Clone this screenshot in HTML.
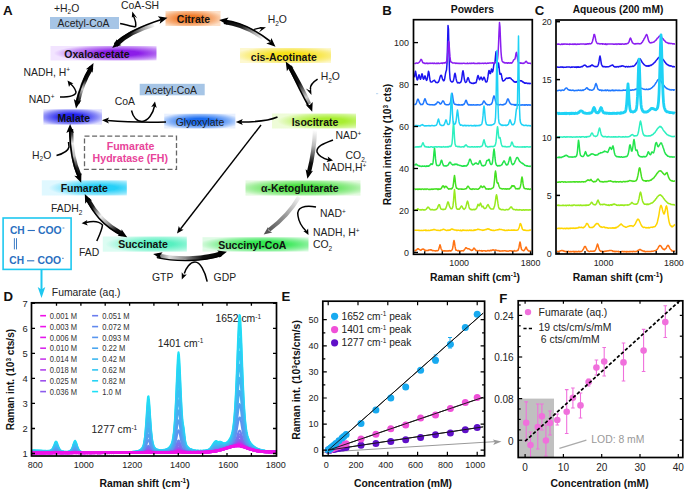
<!DOCTYPE html>
<html><head><meta charset="utf-8"><style>
html,body{margin:0;padding:0;background:#fff;width:685px;height:491px;overflow:hidden;}
svg{display:block;font-family:"Liberation Sans",sans-serif;}
</style></head><body>
<svg width="685" height="491" viewBox="0 0 685 491" font-family="Liberation Sans, sans-serif"><defs><filter id="soft" x="-5%" y="-20%" width="110%" height="140%"><feGaussianBlur stdDeviation="0.5"/></filter><radialGradient id="g_oxa" cx="0.65" cy="0.5" r="0.62" fx="0.65" fy="0.5"><stop offset="0" stop-color="#8c1ee8"/><stop offset="0.3" stop-color="#8c1ee8"/><stop offset="0.72" stop-color="#c48bf5"/><stop offset="1" stop-color="#f2e4ff"/></radialGradient><radialGradient id="g_cit" cx="0.45" cy="0.5" r="0.62" fx="0.45" fy="0.5"><stop offset="0" stop-color="#f07a28"/><stop offset="0.3" stop-color="#f07a28"/><stop offset="0.72" stop-color="#f7b280"/><stop offset="1" stop-color="#fde0c8"/></radialGradient><radialGradient id="g_cis" cx="0.55" cy="0.5" r="0.62" fx="0.55" fy="0.5"><stop offset="0" stop-color="#f7e018"/><stop offset="0.3" stop-color="#f7e018"/><stop offset="0.72" stop-color="#faed7d"/><stop offset="1" stop-color="#fdf8d0"/></radialGradient><radialGradient id="g_iso" cx="0.68" cy="0.5" r="0.62" fx="0.68" fy="0.5"><stop offset="0" stop-color="#a8ee30"/><stop offset="0.3" stop-color="#a8ee30"/><stop offset="0.72" stop-color="#cef68c"/><stop offset="1" stop-color="#eefcd8"/></radialGradient><radialGradient id="g_akg" cx="0.5" cy="0.5" r="0.62" fx="0.5" fy="0.5"><stop offset="0" stop-color="#48e040"/><stop offset="0.3" stop-color="#48e040"/><stop offset="0.72" stop-color="#9eee98"/><stop offset="1" stop-color="#e4fae0"/></radialGradient><radialGradient id="g_suc" cx="0.58" cy="0.5" r="0.62" fx="0.58" fy="0.5"><stop offset="0" stop-color="#30e850"/><stop offset="0.3" stop-color="#30e850"/><stop offset="0.72" stop-color="#91f2a2"/><stop offset="1" stop-color="#e0fbe6"/></radialGradient><radialGradient id="g_succ" cx="0.65" cy="0.5" r="0.62" fx="0.65" fy="0.5"><stop offset="0" stop-color="#58f0c0"/><stop offset="0.3" stop-color="#58f0c0"/><stop offset="0.72" stop-color="#a1f7dc"/><stop offset="1" stop-color="#dcfcf2"/></radialGradient><radialGradient id="g_fum" cx="0.7" cy="0.5" r="0.62" fx="0.7" fy="0.5"><stop offset="0" stop-color="#28d0f8"/><stop offset="0.3" stop-color="#28d0f8"/><stop offset="0.72" stop-color="#8de6fc"/><stop offset="1" stop-color="#e0f8ff"/></radialGradient><radialGradient id="g_mal" cx="0.47" cy="0.5" r="0.62" fx="0.47" fy="0.5"><stop offset="0" stop-color="#2222ee"/><stop offset="0.3" stop-color="#2222ee"/><stop offset="0.72" stop-color="#8a8af7"/><stop offset="1" stop-color="#e0e0ff"/></radialGradient><radialGradient id="g_gly" cx="0.5" cy="0.5" r="0.6" fx="0.5" fy="0.5"><stop offset="0" stop-color="#1a6cf0"/><stop offset="0.3" stop-color="#1a6cf0"/><stop offset="0.72" stop-color="#8bb5f8"/><stop offset="1" stop-color="#e8f0ff"/></radialGradient><linearGradient id="rb1" gradientUnits="userSpaceOnUse" x1="114" y1="45" x2="155" y2="24"><stop offset="0" stop-color="#000"/><stop offset="0.4" stop-color="#111"/><stop offset="0.7" stop-color="#999"/><stop offset="1" stop-color="#fff"/></linearGradient><linearGradient id="rb2" gradientUnits="userSpaceOnUse" x1="222" y1="21" x2="264" y2="39"><stop offset="0" stop-color="#000"/><stop offset="0.45" stop-color="#222"/><stop offset="0.75" stop-color="#aaa"/><stop offset="1" stop-color="#fff"/></linearGradient><linearGradient id="rb3" gradientUnits="userSpaceOnUse" x1="288" y1="65" x2="310" y2="106"><stop offset="0" stop-color="#000"/><stop offset="0.45" stop-color="#111"/><stop offset="0.8" stop-color="#ccc"/><stop offset="1" stop-color="#666"/></linearGradient><linearGradient id="rb4" gradientUnits="userSpaceOnUse" x1="315" y1="130" x2="309" y2="174"><stop offset="0" stop-color="#fff"/><stop offset="0.35" stop-color="#bbb"/><stop offset="0.75" stop-color="#111"/><stop offset="1" stop-color="#000"/></linearGradient><linearGradient id="rb5" gradientUnits="userSpaceOnUse" x1="299" y1="197" x2="268" y2="231"><stop offset="0" stop-color="#f4f4f4"/><stop offset="0.5" stop-color="#999"/><stop offset="1" stop-color="#555"/></linearGradient><linearGradient id="rb6" gradientUnits="userSpaceOnUse" x1="156" y1="255" x2="222" y2="253"><stop offset="0" stop-color="#555"/><stop offset="0.2" stop-color="#ddd"/><stop offset="0.45" stop-color="#888"/><stop offset="0.7" stop-color="#111"/><stop offset="1" stop-color="#000"/></linearGradient><linearGradient id="rb7" gradientUnits="userSpaceOnUse" x1="86" y1="197" x2="123" y2="235"><stop offset="0" stop-color="#000"/><stop offset="0.22" stop-color="#222"/><stop offset="0.45" stop-color="#eee"/><stop offset="0.65" stop-color="#999"/><stop offset="0.85" stop-color="#111"/><stop offset="1" stop-color="#000"/></linearGradient><linearGradient id="rb8" gradientUnits="userSpaceOnUse" x1="71" y1="129" x2="80" y2="177"><stop offset="0" stop-color="#000"/><stop offset="0.12" stop-color="#444"/><stop offset="0.3" stop-color="#eee"/><stop offset="0.55" stop-color="#bbb"/><stop offset="0.8" stop-color="#222"/><stop offset="1" stop-color="#000"/></linearGradient><linearGradient id="rb9" gradientUnits="userSpaceOnUse" x1="92" y1="67" x2="77" y2="104"><stop offset="0" stop-color="#000"/><stop offset="0.35" stop-color="#111"/><stop offset="0.6" stop-color="#ccc"/><stop offset="0.85" stop-color="#333"/><stop offset="1" stop-color="#000"/></linearGradient></defs><text x="3" y="14.6" font-size="13.4" font-weight="bold" text-anchor="start" fill="#111" >A</text>
<rect x="50" y="17" width="69" height="12" fill="#a6c5e6"/>
<rect x="50.5" y="46" width="106" height="14.5" fill="url(#g_oxa)" filter="url(#soft)"/>
<rect x="165.5" y="11" width="55" height="15" fill="url(#g_cit)" filter="url(#soft)"/>
<rect x="240" y="48" width="91" height="15" fill="url(#g_cis)" filter="url(#soft)"/>
<rect x="272" y="113.5" width="84" height="15" fill="url(#g_iso)" filter="url(#soft)"/>
<rect x="245.5" y="180.4" width="115" height="15.2" fill="url(#g_akg)" filter="url(#soft)"/>
<rect x="202.5" y="237.2" width="106" height="14.4" fill="url(#g_suc)" filter="url(#soft)"/>
<rect x="102.8" y="236.5" width="84" height="15.2" fill="url(#g_succ)" filter="url(#soft)"/>
<rect x="41.8" y="180.3" width="85" height="15.2" fill="url(#g_fum)" filter="url(#soft)"/>
<rect x="43.4" y="109.3" width="58.6" height="15.3" fill="url(#g_mal)" filter="url(#soft)"/>
<rect x="164.2" y="113.7" width="71.2" height="14.8" fill="url(#g_gly)" filter="url(#soft)"/>
<rect x="139.7" y="83.8" width="65" height="11.5" fill="#a6c5e6"/>
<text x="64.3" y="57.9" font-size="10.5" font-weight="bold" text-anchor="start" fill="#111" >Oxaloacetate</text>
<text x="193.5" y="22.5" font-size="10.5" font-weight="bold" text-anchor="middle" fill="#111" >Citrate</text>
<text x="283.8" y="60.7" font-size="10.5" font-weight="bold" text-anchor="middle" fill="#111" >cis-Acotinate</text>
<text x="315" y="125.5" font-size="10.5" font-weight="bold" text-anchor="middle" fill="#111" >Isocitrate</text>
<text x="261" y="192.3" font-size="10.5" font-weight="bold" text-anchor="start" fill="#111" >α-Ketoglutarate</text>
<text x="252.3" y="248.8" font-size="10.5" font-weight="bold" text-anchor="middle" fill="#111" >Succinyl-CoA</text>
<text x="143" y="248.4" font-size="10.5" font-weight="bold" text-anchor="middle" fill="#111" >Succinate</text>
<text x="84.3" y="191.5" font-size="10.5" font-weight="bold" text-anchor="middle" fill="#111" >Fumarate</text>
<text x="73.8" y="122.3" font-size="10.5" font-weight="bold" text-anchor="middle" fill="#111" >Malate</text>
<text x="83.5" y="26.8" font-size="10.4" text-anchor="middle" fill="#222" >Acetyl-CoA</text>
<text x="171" y="93.7" font-size="10.4" text-anchor="middle" fill="#222" >Acetyl-CoA</text>
<text x="200" y="126" font-size="10.4" text-anchor="middle" fill="#222" >Glyoxylate</text>
<text x="54" y="11.7" font-size="10.4" fill="#222">+H<tspan font-size="6.5" dy="2.5">2</tspan><tspan dy="-2.5">O</tspan></text>
<text x="121" y="9.2" font-size="10.4" text-anchor="start" fill="#222" >CoA-SH</text>
<text x="267.7" y="23.3" font-size="10.4" fill="#222">H<tspan font-size="6.5" dy="2.5">2</tspan><tspan dy="-2.5">O</tspan></text>
<text x="320.7" y="80" font-size="10.4" fill="#222">H<tspan font-size="6.5" dy="2.5">2</tspan><tspan dy="-2.5">O</tspan></text>
<text x="335.5" y="139" font-size="10.4" fill="#222">NAD<tspan font-size="6.5" dy="-3.5">+</tspan></text>
<text x="345.6" y="159" font-size="10.4" fill="#222">CO<tspan font-size="6.5" dy="2.5">2,</tspan></text>
<text x="322.6" y="171.4" font-size="10.4" fill="#222">NADH,H<tspan font-size="6.5" dy="-3.5">+</tspan></text>
<text x="320" y="217.3" font-size="10.4" fill="#222">NAD<tspan font-size="6.5" dy="-3.5">+</tspan></text>
<text x="313" y="236" font-size="10.4" fill="#222">NADH, H<tspan font-size="6.5" dy="-3.5">+</tspan></text>
<text x="313" y="248.3" font-size="10.4" fill="#222">CO<tspan font-size="6.5" dy="2.5">2</tspan></text>
<text x="213.6" y="281.3" font-size="10.4" text-anchor="start" fill="#222" >GDP</text>
<text x="152" y="281.3" font-size="10.4" text-anchor="start" fill="#222" >GTP</text>
<text x="79" y="256" font-size="10.4" text-anchor="start" fill="#222" >FAD</text>
<text x="51" y="212" font-size="10.4" fill="#222">FADH<tspan font-size="6.5" dy="2.5">2</tspan></text>
<text x="32" y="158.5" font-size="10.4" fill="#222">H<tspan font-size="6.5" dy="2.5">2</tspan><tspan dy="-2.5">O</tspan></text>
<text x="23.6" y="75.6" font-size="10.4" fill="#222">NADH, H<tspan font-size="6.5" dy="-3.5">+</tspan></text>
<text x="28.7" y="102.5" font-size="10.4" fill="#222">NAD<tspan font-size="6.5" dy="-3.5">+</tspan></text>
<text x="114.8" y="105" font-size="10.4" text-anchor="start" fill="#222" >CoA</text>
<rect x="84.5" y="136.2" width="92" height="33.2" fill="none" stroke="#666" stroke-width="1.3" stroke-dasharray="5,2.6"/>
<text x="130.5" y="149.8" font-size="10.6" font-weight="bold" text-anchor="middle" fill="#e8449a" >Fumarate</text>
<text x="130.3" y="162.3" font-size="10.6" font-weight="bold" text-anchor="middle" fill="#e8449a" >Hydratase (FH)</text>
<rect x="3.1" y="218" width="68" height="51.4" fill="none" stroke="#1ec8f0" stroke-width="1.6"/>
<text x="9.9" y="233.6" font-size="10.2" font-weight="bold" fill="#2a6fc0">CH</text>
<text x="38.0" y="233.6" font-size="10.4" font-weight="bold" fill="#2a6fc0">COO</text>
<path d="M27.6,230.5 h7.3" stroke="#2a6fc0" stroke-width="1.1"/>
<path d="M62.599999999999994,228.0 h1.8" stroke="#2a6fc0" stroke-width="0.8"/>
<text x="9.299999999999999" y="263.9" font-size="10.2" font-weight="bold" fill="#2a6fc0">CH</text>
<text x="37.400000000000006" y="263.9" font-size="10.4" font-weight="bold" fill="#2a6fc0">COO</text>
<path d="M27.0,260.79999999999995 h7.3" stroke="#2a6fc0" stroke-width="1.1"/>
<path d="M62.0,258.29999999999995 h1.8" stroke="#2a6fc0" stroke-width="0.8"/>
<path d="M14.4,238.2 V249.4 M16.5,238.2 V249.4" stroke="#2a6fc0" stroke-width="0.9"/>
<path d="M41.5,270 V290" stroke="#1ec8f0" stroke-width="2"/>
<path d="M41.5,298.0 L37.7,287.0 L41.5,289.4 L45.3,287.0 Z" fill="#1ec8f0"/>
<path d="M115.5,45 C123,37.5 134,30 154,24.5" fill="none" stroke="url(#rb1)" stroke-width="4.6"/>
<path d="M115,43.5 C124,35 138,27 161.5,19.5" fill="none" stroke="#000" stroke-width="1.6"/>
<path d="M112.2,48.0 L116.7,39.3 L117.6,43.5 L121.5,45.1 Z" fill="#000"/>
<path d="M120.1,23.4 C126,25 131,26.5 135.5,27" fill="none" stroke="#000" stroke-width="1.6" />
<path d="M135.5,27 C136.5,23 135,19 133,15" fill="none" stroke="#000" stroke-width="1.5" />
<path d="M132.3,11.4 L137.3,18.2 L133.7,15.7 L132.5,17.3 L131.8,17.4 Z" fill="#000"/>
<path d="M167.5,17.8 L159.7,23.7 L160.7,19.5 L157.8,16.3 Z" fill="#000"/>
<path d="M224,22 C238,24 252,30 263,38" fill="none" stroke="url(#rb2)" stroke-width="4.2"/>
<path d="M224,20.3 C240,22 256,30 270.5,41.5" fill="none" stroke="#000" stroke-width="1.6"/>
<path d="M219.1,19.9 L228.5,17.4 L226.1,20.9 L227.5,24.9 Z" fill="#000"/>
<path d="M275.5,46.7 L266.3,43.5 L270.3,42.0 L271.4,37.9 Z" fill="#000"/>
<path d="M254,29.5 C257,28.5 259,28 261.5,27.8" fill="none" stroke="#000" stroke-width="1.3" />
<path d="M266.0,27.3 L258.9,32.6 L261.4,28.8 L259.6,27.7 L259.6,27.0 Z" fill="#000"/>
<path d="M289.5,66.5 C296,78 304,92 309,104" fill="none" stroke="url(#rb3)" stroke-width="4.4"/>
<path d="M288.5,66 C294,78 301,93 309,107" fill="none" stroke="#000" stroke-width="1.6"/>
<path d="M285.7,61.6 L293.5,67.5 L289.2,67.7 L286.9,71.3 Z" fill="#000"/>
<path d="M312.2,111.7 L305.6,104.5 L309.8,105.1 L312.7,101.9 Z" fill="#000"/>
<path d="M317.6,79.1 C313,82 310,85 310.4,89" fill="none" stroke="#000" stroke-width="1.6" />
<path d="M311.5,95.0 L305.8,88.4 L309.6,90.6 L310.4,88.7 L311.1,88.6 Z" fill="#000"/>
<path d="M315,130 C314.5,145 312,160 309,172" fill="none" stroke="url(#rb4)" stroke-width="4.2"/>
<path d="M307.4,178.8 L305.6,169.2 L308.9,171.9 L313.0,170.8 Z" fill="#000"/>
<path d="M333,140 C325,143 316,146 317,152 C319,157 325,159 329,160" fill="none" stroke="#000" stroke-width="1.5" />
<path d="M333.0,160.5 L326.6,161.9 L328.4,159.5 L327.7,156.6 Z" fill="#000"/>
<path d="M299,197 C291,211 281,221 269,230" fill="none" stroke="url(#rb5)" stroke-width="4.0"/>
<path d="M263.7,234.5 L268.0,226.9 L268.7,230.7 L272.2,232.5 Z" fill="#555"/>
<path d="M316,207 C305,205 296,207 298,216 C299,223 303,228 306,231" fill="none" stroke="#000" stroke-width="1.5" />
<path d="M308.5,235.0 L303.3,231.0 L306.3,230.9 L308.1,228.4 Z" fill="#000"/>
<path d="M157,255.5 C175,259.8 203,259.8 221.5,253.5" fill="none" stroke="url(#rb6)" stroke-width="4.6"/>
<path d="M157,257.6 C175,261.8 203,261.8 221.5,255.6" fill="none" stroke="#000" stroke-width="1.3"/>
<path d="M153.1,253.9 L162.6,252.3 L160.0,255.4 L161.2,259.2 Z" fill="#000"/>
<path d="M226.9,251.7 L219.3,257.8 L220.2,253.6 L217.2,250.5 Z" fill="#000"/>
<path d="M207.2,281.6 C205,271 200,262 195,262 C190,262 186,268 184.3,273.5" fill="none" stroke="#000" stroke-width="1.5" />
<path d="M181.8,279.4 L181.7,272.3 L183.7,274.7 L186.8,274.4 Z" fill="#000"/>
<path d="M87.5,199 C94,211 104,224 122,234" fill="none" stroke="url(#rb7)" stroke-width="4.4"/>
<path d="M86.5,199.5 C93,212 102,225.5 122,235.5" fill="none" stroke="#000" stroke-width="1.6"/>
<path d="M84.8,194.0 L92.0,200.6 L87.8,200.4 L85.2,203.8 Z" fill="#000"/>
<path d="M127.2,237.2 L117.6,235.7 L121.2,233.5 L121.6,229.2 Z" fill="#000"/>
<path d="M96.8,241 C99,236 102,230 102.5,225 C99,221 92,221 86,222.5" fill="none" stroke="#000" stroke-width="1.5" />
<path d="M81.6,223.3 L87.3,220.0 L86.3,222.9 L87.8,225.5 Z" fill="#000"/>
<path d="M71,129 C71,148 74,164 79.5,176" fill="none" stroke="url(#rb8)" stroke-width="4.4"/>
<path d="M69.8,129 C69.8,148 72.8,165 78.5,177" fill="none" stroke="#000" stroke-width="1.6"/>
<path d="M70.1,124.1 L73.9,133.1 L70.1,131.1 L66.3,133.1 Z" fill="#000"/>
<path d="M81.2,182.7 L74.3,175.8 L78.6,176.2 L81.4,172.9 Z" fill="#000"/>
<path d="M56.5,155.5 C62,154 68,152 69,147 L68.5,142" fill="none" stroke="#000" stroke-width="1.5" />
<path d="M91.5,67.5 C85,78 80,91 77.5,103" fill="none" stroke="url(#rb9)" stroke-width="4.4"/>
<path d="M90.5,67 C84,78 78.8,91 76.3,103" fill="none" stroke="#000" stroke-width="1.6"/>
<path d="M93.5,63.0 L92.6,72.7 L90.2,69.2 L85.9,69.2 Z" fill="#000"/>
<path d="M76.0,108.5 L73.8,99.0 L77.2,101.6 L81.3,100.3 Z" fill="#000"/>
<path d="M60,97 C68,97 76,96 76,92 C75,88 72,85 69.5,83" fill="none" stroke="#000" stroke-width="1.5" />
<path d="M67.5,80.5 L73.4,83.5 L70.4,84.2 L69.0,86.9 Z" fill="#000"/>
<path d="M277.5,117 C268,121 255,122 241,122" fill="none" stroke="#000" stroke-width="1.6" />
<path d="M235.8,122.0 L242.8,119.0 L241.3,122.0 L242.8,125.0 Z" fill="#000"/>
<path d="M166,122 C145,122.5 125,122 107.5,120.5" fill="none" stroke="#000" stroke-width="1.6" />
<path d="M102.0,120.3 L109.1,117.5 L107.5,120.5 L108.9,123.5 Z" fill="#000"/>
<path d="M131.5,110.5 C133,117 137,121.5 142,121.5 C148,121 153,114 154.5,106" fill="none" stroke="#000" stroke-width="1.5" />
<path d="M155.0,101.5 L156.7,107.9 L154.2,106.1 L151.2,106.9 Z" fill="#000"/>
<path d="M261,125 L180.5,229" fill="none" stroke="#000" stroke-width="1.4" />
<path d="M177.0,233.5 L178.8,226.1 L180.3,229.1 L183.6,229.7 Z" fill="#000"/>
<rect x="376" y="93" width="2.2" height="1.2" fill="#c4dcf2"/>
<text x="382.2" y="14.6" font-size="13.2" font-weight="bold" text-anchor="start" fill="#111" >B</text>
<text x="472.5" y="13.1" font-size="10.4" font-weight="bold" text-anchor="middle" fill="#111" >Powders</text>
<clipPath id="cpB"><rect x="413.5" y="19.7" width="118.79999999999995" height="234.60000000000002"/></clipPath>
<g clip-path="url(#cpB)" fill="none" stroke-width="1.3" stroke-linejoin="round">
<path d="M414.5,250.7 L415.0,250.5 L415.5,250.7 L416.0,250.1 L416.5,250.0 L417.0,249.4 L417.5,248.8 L418.0,248.9 L418.5,248.8 L419.0,249.4 L419.5,249.6 L420.0,249.9 L420.5,250.2 L421.0,250.3 L421.5,249.6 L422.0,249.3 L422.5,249.1 L423.0,249.2 L423.5,249.1 L424.0,249.4 L424.5,250.2 L425.0,250.0 L425.5,250.7 L426.0,250.5 L426.5,250.4 L427.0,250.4 L427.5,250.4 L428.0,250.6 L428.5,250.1 L429.0,250.1 L429.5,250.1 L430.0,249.8 L430.5,250.0 L431.0,249.8 L431.5,250.0 L432.0,250.3 L432.5,250.7 L433.0,250.6 L433.5,250.6 L434.0,250.8 L434.5,250.8 L435.0,250.7 L435.5,251.0 L436.0,250.9 L436.5,250.6 L437.0,250.8 L437.5,250.7 L438.0,250.6 L438.5,249.9 L439.0,248.2 L439.5,246.5 L440.0,244.7 L440.5,246.2 L441.0,248.5 L441.5,249.6 L442.0,250.4 L442.5,250.4 L443.0,250.8 L443.5,251.0 L444.0,250.9 L444.5,251.1 L445.0,250.7 L445.5,251.0 L446.0,250.9 L446.5,250.9 L447.0,250.8 L447.5,251.1 L448.0,251.1 L448.5,250.8 L449.0,250.9 L449.5,250.5 L450.0,250.9 L450.5,250.8 L451.0,250.9 L451.5,250.6 L452.0,249.9 L452.5,248.9 L453.0,246.5 L453.5,242.4 L454.0,240.4 L454.5,242.5 L455.0,246.2 L455.5,248.7 L456.0,250.2 L456.5,250.2 L457.0,250.4 L457.5,250.6 L458.0,251.0 L458.5,250.5 L459.0,250.8 L459.5,250.8 L460.0,251.1 L460.5,251.0 L461.0,251.0 L461.5,250.7 L462.0,250.7 L462.5,250.7 L463.0,250.9 L463.5,250.8 L464.0,250.1 L464.5,249.6 L465.0,248.9 L465.5,248.0 L466.0,247.7 L466.5,248.0 L467.0,248.3 L467.5,248.6 L468.0,248.9 L468.5,248.7 L469.0,248.8 L469.5,249.2 L470.0,249.5 L470.5,249.8 L471.0,250.2 L471.5,250.5 L472.0,250.1 L472.5,250.3 L473.0,249.5 L473.5,248.6 L474.0,248.1 L474.5,248.4 L475.0,249.3 L475.5,249.9 L476.0,250.7 L476.5,250.5 L477.0,250.6 L477.5,250.7 L478.0,250.7 L478.5,250.8 L479.0,250.6 L479.5,250.6 L480.0,250.7 L480.5,250.7 L481.0,250.8 L481.5,250.6 L482.0,251.2 L482.5,251.0 L483.0,250.7 L483.5,250.8 L484.0,250.8 L484.5,250.8 L485.0,250.7 L485.5,251.1 L486.0,251.2 L486.5,250.9 L487.0,250.9 L487.5,250.6 L488.0,250.6 L488.5,250.7 L489.0,250.6 L489.5,250.9 L490.0,250.5 L490.5,250.3 L491.0,250.8 L491.5,250.4 L492.0,250.1 L492.5,250.2 L493.0,249.8 L493.5,250.0 L494.0,250.3 L494.5,250.2 L495.0,250.2 L495.5,250.0 L496.0,250.2 L496.5,250.2 L497.0,250.6 L497.5,250.6 L498.0,250.8 L498.5,250.6 L499.0,250.6 L499.5,251.0 L500.0,251.2 L500.5,251.1 L501.0,251.1 L501.5,251.1 L502.0,251.1 L502.5,250.8 L503.0,250.9 L503.5,250.9 L504.0,250.7 L504.5,250.7 L505.0,250.8 L505.5,250.8 L506.0,251.1 L506.5,251.2 L507.0,250.9 L507.5,251.2 L508.0,251.2 L508.5,251.2 L509.0,250.9 L509.5,250.8 L510.0,250.8 L510.5,250.8 L511.0,250.8 L511.5,251.0 L512.0,251.2 L512.5,251.1 L513.0,250.9 L513.5,251.0 L514.0,251.1 L514.5,250.6 L515.0,251.0 L515.5,251.1 L516.0,251.0 L516.5,250.9 L517.0,250.7 L517.5,250.3 L518.0,250.4 L518.5,249.1 L519.0,247.2 L519.5,244.1 L520.0,241.9 L520.5,243.8 L521.0,247.3 L521.5,249.3 L522.0,249.9 L522.5,250.2 L523.0,250.4 L523.5,250.8 L524.0,250.7 L524.5,249.9 L525.0,249.3 L525.5,248.0 L526.0,247.0 L526.5,247.7 L527.0,249.2 L527.5,249.9 L528.0,250.3 L528.5,251.0 L529.0,250.9 L529.5,250.9 L530.0,251.1 L530.5,250.9 L531.0,251.1" stroke="#ff7212" stroke-width="1.5"/>
<path d="M414.5,230.6 L415.0,230.2 L415.5,230.2 L416.0,230.3 L416.5,230.2 L417.0,230.4 L417.5,230.2 L418.0,230.3 L418.5,230.2 L419.0,230.6 L419.5,230.3 L420.0,230.4 L420.5,230.4 L421.0,230.6 L421.5,230.3 L422.0,230.6 L422.5,230.4 L423.0,230.4 L423.5,230.4 L424.0,230.1 L424.5,230.3 L425.0,230.2 L425.5,230.1 L426.0,230.6 L426.5,230.2 L427.0,230.4 L427.5,230.5 L428.0,230.4 L428.5,230.3 L429.0,230.4 L429.5,230.4 L430.0,230.5 L430.5,230.1 L431.0,230.3 L431.5,230.0 L432.0,229.9 L432.5,230.0 L433.0,229.7 L433.5,229.5 L434.0,229.5 L434.5,229.7 L435.0,229.6 L435.5,229.9 L436.0,230.1 L436.5,230.2 L437.0,230.4 L437.5,230.3 L438.0,230.3 L438.5,230.3 L439.0,230.6 L439.5,230.4 L440.0,230.5 L440.5,230.4 L441.0,229.9 L441.5,229.9 L442.0,229.9 L442.5,229.7 L443.0,229.2 L443.5,229.2 L444.0,229.6 L444.5,229.6 L445.0,229.9 L445.5,229.9 L446.0,230.3 L446.5,230.4 L447.0,230.5 L447.5,230.1 L448.0,230.4 L448.5,230.3 L449.0,230.0 L449.5,230.3 L450.0,230.2 L450.5,229.5 L451.0,229.6 L451.5,228.9 L452.0,228.9 L452.5,229.3 L453.0,229.5 L453.5,229.4 L454.0,229.9 L454.5,230.1 L455.0,230.1 L455.5,230.1 L456.0,230.2 L456.5,230.5 L457.0,230.0 L457.5,230.4 L458.0,230.3 L458.5,230.1 L459.0,230.3 L459.5,230.4 L460.0,230.4 L460.5,230.1 L461.0,230.7 L461.5,230.5 L462.0,230.7 L462.5,230.1 L463.0,230.2 L463.5,230.1 L464.0,230.5 L464.5,230.2 L465.0,230.2 L465.5,230.3 L466.0,230.6 L466.5,230.6 L467.0,230.2 L467.5,230.2 L468.0,230.6 L468.5,230.4 L469.0,230.5 L469.5,230.1 L470.0,230.1 L470.5,230.5 L471.0,230.3 L471.5,230.1 L472.0,230.6 L472.5,230.4 L473.0,230.5 L473.5,230.0 L474.0,230.5 L474.5,229.9 L475.0,230.3 L475.5,230.0 L476.0,229.8 L476.5,229.7 L477.0,229.8 L477.5,229.3 L478.0,229.1 L478.5,229.4 L479.0,229.4 L479.5,229.5 L480.0,229.7 L480.5,229.7 L481.0,229.9 L481.5,230.1 L482.0,230.1 L482.5,230.4 L483.0,230.1 L483.5,230.2 L484.0,230.0 L484.5,230.0 L485.0,229.7 L485.5,229.7 L486.0,229.3 L486.5,229.5 L487.0,229.2 L487.5,228.8 L488.0,228.9 L488.5,229.2 L489.0,228.9 L489.5,229.6 L490.0,229.6 L490.5,229.8 L491.0,230.2 L491.5,230.0 L492.0,230.2 L492.5,230.3 L493.0,230.6 L493.5,230.2 L494.0,230.5 L494.5,230.4 L495.0,230.4 L495.5,230.2 L496.0,230.1 L496.5,229.9 L497.0,229.9 L497.5,229.7 L498.0,230.0 L498.5,229.6 L499.0,229.3 L499.5,229.2 L500.0,229.6 L500.5,229.6 L501.0,229.6 L501.5,229.6 L502.0,229.7 L502.5,229.9 L503.0,230.1 L503.5,230.0 L504.0,230.2 L504.5,230.1 L505.0,230.6 L505.5,230.6 L506.0,230.4 L506.5,230.2 L507.0,230.6 L507.5,230.2 L508.0,230.3 L508.5,230.0 L509.0,230.3 L509.5,230.3 L510.0,230.3 L510.5,230.2 L511.0,230.3 L511.5,230.0 L512.0,230.2 L512.5,230.1 L513.0,230.3 L513.5,230.0 L514.0,230.0 L514.5,230.2 L515.0,230.1 L515.5,230.3 L516.0,230.2 L516.5,230.3 L517.0,230.2 L517.5,230.1 L518.0,229.9 L518.5,229.0 L519.0,227.8 L519.5,226.4 L520.0,224.1 L520.5,223.5 L521.0,224.4 L521.5,225.9 L522.0,228.1 L522.5,229.3 L523.0,229.7 L523.5,230.1 L524.0,230.3 L524.5,229.9 L525.0,230.2 L525.5,230.2 L526.0,230.5 L526.5,230.5 L527.0,230.5 L527.5,230.4 L528.0,230.6 L528.5,230.4 L529.0,230.5 L529.5,230.2 L530.0,230.1 L530.5,230.1 L531.0,230.3" stroke="#ffd500" stroke-width="1.5"/>
<path d="M414.5,209.7 L415.0,210.1 L415.5,209.9 L416.0,209.9 L416.5,209.8 L417.0,209.6 L417.5,209.1 L418.0,208.7 L418.5,209.3 L419.0,209.6 L419.5,209.7 L420.0,209.8 L420.5,210.0 L421.0,209.6 L421.5,210.0 L422.0,209.7 L422.5,209.6 L423.0,209.7 L423.5,210.0 L424.0,209.7 L424.5,210.0 L425.0,210.0 L425.5,209.6 L426.0,209.3 L426.5,208.9 L427.0,208.2 L427.5,207.5 L428.0,207.0 L428.5,207.4 L429.0,207.9 L429.5,208.6 L430.0,209.2 L430.5,209.7 L431.0,209.6 L431.5,209.8 L432.0,209.5 L432.5,209.5 L433.0,209.7 L433.5,209.9 L434.0,209.9 L434.5,209.9 L435.0,209.6 L435.5,209.7 L436.0,209.5 L436.5,209.3 L437.0,208.6 L437.5,208.2 L438.0,206.4 L438.5,205.4 L439.0,204.6 L439.5,204.8 L440.0,206.5 L440.5,208.1 L441.0,209.0 L441.5,209.2 L442.0,209.3 L442.5,209.3 L443.0,209.8 L443.5,209.3 L444.0,209.5 L444.5,209.2 L445.0,209.2 L445.5,209.0 L446.0,207.7 L446.5,206.7 L447.0,204.6 L447.5,202.9 L448.0,201.9 L448.5,202.5 L449.0,204.8 L449.5,206.4 L450.0,207.4 L450.5,208.2 L451.0,208.8 L451.5,208.8 L452.0,208.5 L452.5,207.7 L453.0,205.7 L453.5,200.9 L454.0,194.2 L454.5,189.5 L455.0,194.1 L455.5,201.3 L456.0,205.7 L456.5,208.3 L457.0,208.9 L457.5,209.3 L458.0,209.1 L458.5,209.2 L459.0,209.1 L459.5,209.2 L460.0,208.4 L460.5,207.4 L461.0,206.6 L461.5,206.0 L462.0,206.3 L462.5,207.3 L463.0,208.5 L463.5,208.7 L464.0,209.4 L464.5,208.9 L465.0,208.6 L465.5,208.0 L466.0,206.4 L466.5,204.3 L467.0,202.2 L467.5,201.1 L468.0,202.2 L468.5,204.5 L469.0,206.9 L469.5,208.4 L470.0,208.9 L470.5,209.4 L471.0,209.2 L471.5,209.7 L472.0,209.5 L472.5,209.8 L473.0,209.7 L473.5,209.5 L474.0,209.3 L474.5,209.8 L475.0,209.3 L475.5,209.4 L476.0,209.0 L476.5,208.3 L477.0,207.3 L477.5,205.7 L478.0,204.3 L478.5,205.1 L479.0,205.7 L479.5,205.5 L480.0,204.1 L480.5,203.1 L481.0,204.1 L481.5,205.7 L482.0,206.9 L482.5,206.5 L483.0,206.1 L483.5,207.2 L484.0,208.2 L484.5,208.5 L485.0,208.6 L485.5,208.4 L486.0,207.8 L486.5,207.1 L487.0,205.9 L487.5,205.0 L488.0,204.6 L488.5,205.2 L489.0,206.4 L489.5,207.3 L490.0,208.0 L490.5,208.6 L491.0,209.0 L491.5,209.1 L492.0,209.1 L492.5,208.9 L493.0,208.9 L493.5,208.9 L494.0,207.6 L494.5,206.3 L495.0,203.8 L495.5,200.3 L496.0,196.4 L496.5,194.8 L497.0,196.4 L497.5,200.1 L498.0,203.7 L498.5,206.7 L499.0,208.2 L499.5,209.0 L500.0,208.8 L500.5,209.1 L501.0,209.6 L501.5,209.8 L502.0,209.6 L502.5,209.7 L503.0,209.4 L503.5,209.6 L504.0,210.0 L504.5,209.9 L505.0,210.0 L505.5,210.0 L506.0,209.6 L506.5,209.5 L507.0,209.5 L507.5,209.7 L508.0,209.7 L508.5,209.6 L509.0,209.1 L509.5,208.5 L510.0,207.9 L510.5,207.2 L511.0,207.0 L511.5,206.9 L512.0,208.0 L512.5,208.3 L513.0,209.2 L513.5,209.5 L514.0,209.5 L514.5,209.5 L515.0,209.6 L515.5,209.9 L516.0,210.0 L516.5,209.6 L517.0,209.6 L517.5,209.9 L518.0,210.0 L518.5,209.9 L519.0,209.8 L519.5,210.0 L520.0,209.6 L520.5,209.8 L521.0,209.9 L521.5,210.2 L522.0,210.0 L522.5,210.2 L523.0,209.9 L523.5,209.8 L524.0,209.8 L524.5,210.2 L525.0,210.1 L525.5,209.8 L526.0,209.7 L526.5,210.0 L527.0,210.1 L527.5,209.9 L528.0,209.8 L528.5,210.1 L529.0,210.2 L529.5,209.8 L530.0,209.7 L530.5,209.9 L531.0,209.9" stroke="#98ea1e" stroke-width="1.5"/>
<path d="M414.5,189.3 L415.0,189.0 L415.5,189.4 L416.0,189.3 L416.5,189.2 L417.0,189.0 L417.5,189.5 L418.0,189.1 L418.5,189.4 L419.0,189.0 L419.5,189.0 L420.0,189.3 L420.5,189.1 L421.0,189.5 L421.5,189.2 L422.0,189.0 L422.5,189.0 L423.0,189.1 L423.5,189.3 L424.0,189.5 L424.5,189.0 L425.0,189.1 L425.5,189.0 L426.0,189.5 L426.5,189.0 L427.0,188.9 L427.5,188.9 L428.0,189.1 L428.5,189.4 L429.0,189.4 L429.5,189.3 L430.0,189.5 L430.5,189.4 L431.0,189.1 L431.5,189.0 L432.0,189.4 L432.5,189.3 L433.0,188.9 L433.5,189.3 L434.0,189.1 L434.5,189.1 L435.0,189.1 L435.5,188.9 L436.0,188.8 L436.5,189.0 L437.0,189.0 L437.5,189.4 L438.0,188.9 L438.5,189.4 L439.0,188.9 L439.5,189.0 L440.0,189.2 L440.5,189.1 L441.0,188.7 L441.5,188.0 L442.0,187.3 L442.5,186.1 L443.0,185.8 L443.5,185.9 L444.0,187.0 L444.5,187.8 L445.0,186.9 L445.5,186.4 L446.0,186.2 L446.5,186.7 L447.0,187.3 L447.5,188.0 L448.0,188.4 L448.5,189.1 L449.0,188.7 L449.5,189.0 L450.0,189.1 L450.5,188.8 L451.0,188.6 L451.5,189.0 L452.0,188.5 L452.5,187.8 L453.0,186.7 L453.5,183.2 L454.0,178.4 L454.5,175.4 L455.0,178.6 L455.5,183.6 L456.0,186.6 L456.5,188.3 L457.0,188.2 L457.5,188.6 L458.0,188.8 L458.5,189.2 L459.0,189.2 L459.5,188.9 L460.0,188.9 L460.5,189.0 L461.0,189.0 L461.5,189.3 L462.0,188.9 L462.5,189.3 L463.0,189.2 L463.5,189.3 L464.0,189.2 L464.5,189.1 L465.0,188.9 L465.5,188.8 L466.0,188.7 L466.5,188.6 L467.0,187.4 L467.5,186.5 L468.0,186.3 L468.5,186.5 L469.0,187.4 L469.5,188.1 L470.0,188.8 L470.5,188.9 L471.0,189.3 L471.5,189.3 L472.0,189.4 L472.5,188.9 L473.0,188.8 L473.5,188.9 L474.0,189.1 L474.5,189.2 L475.0,189.1 L475.5,188.9 L476.0,189.0 L476.5,189.1 L477.0,189.2 L477.5,189.2 L478.0,189.2 L478.5,189.0 L479.0,188.5 L479.5,188.5 L480.0,187.4 L480.5,186.6 L481.0,185.9 L481.5,186.6 L482.0,187.1 L482.5,187.5 L483.0,187.1 L483.5,186.3 L484.0,186.2 L484.5,186.6 L485.0,187.4 L485.5,188.2 L486.0,189.0 L486.5,188.9 L487.0,188.8 L487.5,189.1 L488.0,189.0 L488.5,189.2 L489.0,188.7 L489.5,188.9 L490.0,189.1 L490.5,189.0 L491.0,189.0 L491.5,188.4 L492.0,188.4 L492.5,188.1 L493.0,187.8 L493.5,187.2 L494.0,184.6 L494.5,180.3 L495.0,174.0 L495.5,171.1 L496.0,173.7 L496.5,178.8 L497.0,182.3 L497.5,183.2 L498.0,182.8 L498.5,184.4 L499.0,186.2 L499.5,187.3 L500.0,188.2 L500.5,188.4 L501.0,188.5 L501.5,188.7 L502.0,188.9 L502.5,189.0 L503.0,188.8 L503.5,188.7 L504.0,188.9 L504.5,189.1 L505.0,188.8 L505.5,188.9 L506.0,188.8 L506.5,189.2 L507.0,189.1 L507.5,188.8 L508.0,188.8 L508.5,188.9 L509.0,189.0 L509.5,188.9 L510.0,188.4 L510.5,188.1 L511.0,187.6 L511.5,186.4 L512.0,185.6 L512.5,185.8 L513.0,186.4 L513.5,185.8 L514.0,185.8 L514.5,186.3 L515.0,187.4 L515.5,188.4 L516.0,188.9 L516.5,188.7 L517.0,188.6 L517.5,189.0 L518.0,188.6 L518.5,188.4 L519.0,188.9 L519.5,188.3 L520.0,187.9 L520.5,186.1 L521.0,183.4 L521.5,179.2 L522.0,177.0 L522.5,179.0 L523.0,183.2 L523.5,186.3 L524.0,188.0 L524.5,188.2 L525.0,188.7 L525.5,188.7 L526.0,188.9 L526.5,188.7 L527.0,188.9 L527.5,189.0 L528.0,189.3 L528.5,188.8 L529.0,189.1 L529.5,189.3 L530.0,189.4 L530.5,188.9 L531.0,188.9" stroke="#44e020" stroke-width="1.5"/>
<path d="M414.5,165.3 L415.0,165.0 L415.5,164.4 L416.0,164.1 L416.5,164.7 L417.0,164.6 L417.5,165.3 L418.0,165.4 L418.5,165.8 L419.0,165.6 L419.5,166.2 L420.0,165.9 L420.5,166.1 L421.0,166.4 L421.5,166.4 L422.0,166.1 L422.5,166.1 L423.0,166.2 L423.5,166.3 L424.0,166.2 L424.5,166.0 L425.0,166.1 L425.5,166.4 L426.0,166.5 L426.5,165.9 L427.0,166.2 L427.5,166.3 L428.0,165.8 L428.5,166.3 L429.0,165.7 L429.5,165.7 L430.0,165.1 L430.5,164.4 L431.0,163.8 L431.5,164.0 L432.0,164.5 L432.5,164.2 L433.0,162.7 L433.5,158.3 L434.0,152.0 L434.5,147.9 L435.0,152.1 L435.5,158.4 L436.0,162.6 L436.5,164.8 L437.0,165.5 L437.5,165.5 L438.0,165.5 L438.5,165.7 L439.0,165.4 L439.5,165.2 L440.0,164.6 L440.5,162.9 L441.0,161.2 L441.5,160.2 L442.0,160.9 L442.5,163.3 L443.0,164.4 L443.5,165.6 L444.0,165.9 L444.5,165.9 L445.0,165.7 L445.5,166.0 L446.0,165.9 L446.5,166.1 L447.0,165.5 L447.5,165.6 L448.0,165.2 L448.5,164.3 L449.0,163.5 L449.5,162.3 L450.0,162.4 L450.5,162.3 L451.0,163.3 L451.5,164.1 L452.0,164.2 L452.5,164.9 L453.0,165.1 L453.5,164.5 L454.0,164.6 L454.5,164.7 L455.0,164.1 L455.5,164.5 L456.0,164.1 L456.5,164.5 L457.0,164.2 L457.5,164.6 L458.0,165.1 L458.5,164.9 L459.0,165.1 L459.5,165.4 L460.0,165.5 L460.5,165.5 L461.0,165.7 L461.5,165.7 L462.0,166.2 L462.5,166.1 L463.0,166.3 L463.5,165.8 L464.0,166.2 L464.5,165.8 L465.0,166.0 L465.5,166.0 L466.0,165.8 L466.5,165.9 L467.0,165.4 L467.5,164.9 L468.0,164.2 L468.5,162.5 L469.0,161.5 L469.5,159.8 L470.0,159.1 L470.5,159.9 L471.0,160.9 L471.5,162.8 L472.0,163.7 L472.5,164.3 L473.0,164.9 L473.5,164.6 L474.0,164.2 L474.5,164.1 L475.0,163.2 L475.5,163.3 L476.0,162.9 L476.5,163.2 L477.0,163.8 L477.5,163.9 L478.0,164.2 L478.5,163.8 L479.0,162.6 L479.5,161.3 L480.0,160.6 L480.5,161.9 L481.0,163.4 L481.5,164.8 L482.0,165.7 L482.5,165.5 L483.0,165.6 L483.5,165.9 L484.0,165.5 L484.5,165.4 L485.0,165.3 L485.5,164.4 L486.0,163.3 L486.5,161.4 L487.0,160.4 L487.5,160.5 L488.0,160.4 L488.5,159.9 L489.0,159.4 L489.5,160.5 L490.0,162.9 L490.5,163.9 L491.0,164.5 L491.5,164.5 L492.0,164.0 L492.5,162.0 L493.0,157.7 L493.5,152.0 L494.0,149.0 L494.5,151.8 L495.0,157.7 L495.5,161.9 L496.0,164.1 L496.5,165.2 L497.0,165.4 L497.5,165.9 L498.0,165.9 L498.5,165.6 L499.0,166.0 L499.5,165.5 L500.0,165.8 L500.5,165.6 L501.0,165.3 L501.5,164.8 L502.0,164.7 L502.5,163.3 L503.0,162.5 L503.5,161.7 L504.0,160.8 L504.5,161.3 L505.0,162.5 L505.5,163.4 L506.0,164.4 L506.5,165.0 L507.0,164.8 L507.5,164.7 L508.0,164.0 L508.5,162.4 L509.0,160.7 L509.5,158.2 L510.0,157.0 L510.5,157.7 L511.0,160.6 L511.5,162.7 L512.0,163.9 L512.5,164.7 L513.0,164.6 L513.5,164.2 L514.0,163.6 L514.5,162.8 L515.0,161.5 L515.5,160.3 L516.0,159.2 L516.5,158.0 L517.0,157.5 L517.5,157.6 L518.0,158.0 L518.5,159.2 L519.0,160.1 L519.5,161.1 L520.0,161.6 L520.5,161.9 L521.0,162.5 L521.5,163.0 L522.0,162.9 L522.5,163.7 L523.0,163.6 L523.5,164.1 L524.0,164.4 L524.5,165.1 L525.0,165.5 L525.5,165.6 L526.0,165.5 L526.5,166.0 L527.0,165.8 L527.5,165.8 L528.0,166.3 L528.5,166.2 L529.0,166.2 L529.5,166.2 L530.0,166.5 L530.5,166.2 L531.0,166.4" stroke="#22e44c" stroke-width="1.5"/>
<path d="M414.5,147.1 L415.0,147.2 L415.5,146.9 L416.0,147.1 L416.5,147.0 L417.0,146.8 L417.5,146.8 L418.0,147.0 L418.5,146.7 L419.0,147.1 L419.5,146.7 L420.0,146.5 L420.5,146.5 L421.0,146.8 L421.5,145.9 L422.0,144.8 L422.5,143.4 L423.0,142.7 L423.5,143.8 L424.0,145.1 L424.5,146.1 L425.0,146.7 L425.5,146.5 L426.0,146.9 L426.5,146.8 L427.0,147.1 L427.5,147.1 L428.0,147.2 L428.5,146.7 L429.0,147.2 L429.5,147.2 L430.0,147.2 L430.5,146.7 L431.0,146.8 L431.5,146.7 L432.0,146.7 L432.5,147.2 L433.0,147.2 L433.5,147.0 L434.0,147.2 L434.5,147.0 L435.0,146.8 L435.5,146.7 L436.0,146.7 L436.5,147.1 L437.0,146.8 L437.5,146.9 L438.0,146.9 L438.5,146.7 L439.0,146.8 L439.5,146.8 L440.0,147.1 L440.5,146.9 L441.0,146.8 L441.5,147.2 L442.0,146.9 L442.5,147.1 L443.0,147.0 L443.5,146.6 L444.0,146.9 L444.5,146.9 L445.0,147.1 L445.5,146.8 L446.0,147.0 L446.5,146.9 L447.0,146.7 L447.5,147.0 L448.0,146.5 L448.5,146.9 L449.0,146.5 L449.5,146.3 L450.0,146.3 L450.5,146.5 L451.0,146.3 L451.5,145.1 L452.0,143.5 L452.5,138.0 L453.0,128.5 L453.5,121.8 L454.0,128.3 L454.5,137.9 L455.0,143.7 L455.5,145.3 L456.0,146.3 L456.5,146.2 L457.0,146.3 L457.5,146.7 L458.0,146.7 L458.5,146.5 L459.0,146.8 L459.5,146.5 L460.0,147.0 L460.5,146.9 L461.0,147.0 L461.5,146.9 L462.0,146.8 L462.5,146.8 L463.0,146.8 L463.5,147.0 L464.0,146.4 L464.5,146.7 L465.0,145.6 L465.5,145.1 L466.0,144.8 L466.5,145.5 L467.0,145.9 L467.5,146.4 L468.0,146.9 L468.5,146.7 L469.0,146.8 L469.5,146.9 L470.0,147.1 L470.5,147.1 L471.0,147.0 L471.5,146.8 L472.0,146.8 L472.5,146.7 L473.0,147.1 L473.5,147.0 L474.0,147.1 L474.5,146.7 L475.0,146.9 L475.5,147.1 L476.0,147.0 L476.5,146.7 L477.0,146.9 L477.5,147.1 L478.0,146.7 L478.5,146.7 L479.0,146.7 L479.5,146.9 L480.0,147.0 L480.5,146.5 L481.0,146.5 L481.5,146.4 L482.0,146.0 L482.5,145.2 L483.0,143.2 L483.5,141.1 L484.0,139.7 L484.5,141.4 L485.0,143.6 L485.5,144.9 L486.0,146.4 L486.5,146.2 L487.0,146.5 L487.5,147.0 L488.0,146.9 L488.5,146.9 L489.0,146.7 L489.5,146.6 L490.0,146.8 L490.5,146.5 L491.0,146.5 L491.5,146.6 L492.0,146.4 L492.5,146.5 L493.0,146.7 L493.5,146.5 L494.0,146.3 L494.5,146.1 L495.0,145.6 L495.5,144.3 L496.0,141.9 L496.5,136.7 L497.0,130.3 L497.5,126.7 L498.0,129.5 L498.5,135.0 L499.0,138.1 L499.5,138.0 L500.0,137.5 L500.5,139.7 L501.0,142.6 L501.5,144.7 L502.0,145.8 L502.5,146.4 L503.0,146.5 L503.5,146.6 L504.0,146.6 L504.5,146.5 L505.0,146.8 L505.5,146.5 L506.0,146.7 L506.5,146.9 L507.0,146.9 L507.5,146.8 L508.0,146.6 L508.5,146.7 L509.0,146.7 L509.5,146.7 L510.0,146.3 L510.5,145.8 L511.0,144.7 L511.5,142.6 L512.0,142.0 L512.5,143.0 L513.0,144.4 L513.5,145.7 L514.0,146.6 L514.5,146.4 L515.0,146.8 L515.5,146.6 L516.0,147.0 L516.5,147.1 L517.0,146.9 L517.5,146.7 L518.0,147.0 L518.5,146.9 L519.0,147.1 L519.5,146.9 L520.0,147.0 L520.5,147.1 L521.0,147.0 L521.5,146.9 L522.0,147.2 L522.5,146.8 L523.0,147.1 L523.5,146.9 L524.0,147.1 L524.5,146.7 L525.0,147.3 L525.5,146.9 L526.0,146.7 L526.5,146.8 L527.0,146.9 L527.5,146.7 L528.0,146.9 L528.5,146.9 L529.0,147.1 L529.5,146.9 L530.0,146.8 L530.5,146.8 L531.0,147.1" stroke="#2ef0c0" stroke-width="1.5"/>
<path d="M414.5,105.0 L415.0,104.6 L415.5,104.2 L416.0,104.0 L416.5,102.7 L417.0,101.1 L417.5,99.5 L418.0,99.1 L418.5,99.9 L419.0,101.3 L419.5,102.7 L420.0,103.7 L420.5,104.0 L421.0,104.7 L421.5,104.4 L422.0,104.5 L422.5,104.4 L423.0,103.9 L423.5,102.7 L424.0,101.1 L424.5,99.7 L425.0,98.7 L425.5,99.9 L426.0,101.2 L426.5,103.0 L427.0,103.6 L427.5,104.2 L428.0,104.4 L428.5,104.6 L429.0,104.5 L429.5,104.5 L430.0,104.9 L430.5,104.7 L431.0,104.7 L431.5,104.7 L432.0,104.8 L432.5,104.8 L433.0,104.9 L433.5,104.9 L434.0,104.7 L434.5,104.9 L435.0,104.8 L435.5,104.0 L436.0,104.1 L436.5,103.6 L437.0,102.9 L437.5,101.9 L438.0,102.1 L438.5,102.2 L439.0,102.4 L439.5,103.0 L440.0,104.0 L440.5,104.0 L441.0,103.7 L441.5,103.0 L442.0,102.1 L442.5,101.1 L443.0,101.0 L443.5,101.2 L444.0,102.2 L444.5,103.6 L445.0,104.2 L445.5,104.2 L446.0,104.8 L446.5,104.7 L447.0,104.8 L447.5,104.7 L448.0,104.8 L448.5,104.7 L449.0,104.6 L449.5,104.0 L450.0,103.6 L450.5,101.9 L451.0,99.1 L451.5,95.0 L452.0,93.2 L452.5,95.1 L453.0,98.8 L453.5,101.8 L454.0,103.3 L454.5,104.2 L455.0,104.2 L455.5,104.6 L456.0,104.4 L456.5,104.7 L457.0,104.8 L457.5,104.8 L458.0,105.0 L458.5,104.5 L459.0,105.0 L459.5,104.8 L460.0,104.9 L460.5,104.9 L461.0,105.0 L461.5,104.7 L462.0,104.8 L462.5,105.1 L463.0,104.5 L463.5,104.7 L464.0,104.4 L464.5,103.4 L465.0,102.5 L465.5,100.9 L466.0,100.2 L466.5,100.7 L467.0,102.7 L467.5,103.7 L468.0,104.4 L468.5,104.9 L469.0,104.5 L469.5,104.9 L470.0,104.9 L470.5,104.8 L471.0,105.1 L471.5,104.8 L472.0,104.9 L472.5,104.9 L473.0,105.1 L473.5,104.7 L474.0,104.9 L474.5,104.9 L475.0,104.9 L475.5,105.1 L476.0,104.8 L476.5,105.1 L477.0,104.8 L477.5,104.9 L478.0,104.7 L478.5,104.9 L479.0,105.1 L479.5,104.9 L480.0,105.0 L480.5,104.7 L481.0,104.6 L481.5,104.4 L482.0,104.2 L482.5,103.6 L483.0,102.7 L483.5,101.2 L484.0,101.0 L484.5,101.6 L485.0,102.5 L485.5,103.2 L486.0,104.0 L486.5,104.2 L487.0,104.4 L487.5,104.9 L488.0,104.7 L488.5,104.8 L489.0,104.8 L489.5,104.9 L490.0,104.6 L490.5,104.5 L491.0,104.3 L491.5,103.9 L492.0,102.9 L492.5,101.4 L493.0,98.9 L493.5,97.0 L494.0,95.9 L494.5,97.1 L495.0,98.9 L495.5,101.1 L496.0,102.5 L496.5,103.9 L497.0,104.5 L497.5,104.6 L498.0,104.5 L498.5,104.8 L499.0,104.9 L499.5,104.8 L500.0,104.6 L500.5,104.6 L501.0,104.7 L501.5,104.7 L502.0,104.7 L502.5,104.8 L503.0,105.0 L503.5,104.4 L504.0,104.6 L504.5,104.2 L505.0,104.0 L505.5,104.0 L506.0,103.1 L506.5,102.2 L507.0,100.6 L507.5,99.2 L508.0,98.9 L508.5,99.5 L509.0,100.9 L509.5,102.3 L510.0,103.0 L510.5,103.8 L511.0,104.0 L511.5,104.6 L512.0,104.5 L512.5,104.5 L513.0,104.5 L513.5,104.5 L514.0,104.9 L514.5,104.6 L515.0,105.2 L515.5,104.6 L516.0,105.1 L516.5,104.7 L517.0,104.6 L517.5,105.1 L518.0,104.8 L518.5,105.1 L519.0,104.8 L519.5,104.7 L520.0,105.1 L520.5,105.1 L521.0,105.2 L521.5,105.1 L522.0,104.7 L522.5,105.0 L523.0,105.1 L523.5,104.9 L524.0,105.2 L524.5,104.8 L525.0,105.2 L525.5,105.1 L526.0,104.7 L526.5,104.7 L527.0,105.1 L527.5,105.2 L528.0,104.7 L528.5,104.9 L529.0,105.1 L529.5,104.8 L530.0,105.2 L530.5,105.0 L531.0,104.7" stroke="#1f78ff" stroke-width="1.5"/>
<path d="M414.5,77.3 L415.0,73.5 L415.5,71.2 L416.0,73.4 L416.5,76.7 L417.0,79.7 L417.5,79.9 L418.0,78.7 L418.5,76.2 L419.0,74.7 L419.5,76.0 L420.0,78.3 L420.5,79.3 L421.0,77.9 L421.5,75.3 L422.0,73.7 L422.5,75.0 L423.0,78.1 L423.5,79.3 L424.0,78.8 L424.5,76.7 L425.0,75.8 L425.5,77.2 L426.0,79.3 L426.5,80.4 L427.0,79.8 L427.5,77.6 L428.0,74.1 L428.5,71.2 L429.0,72.7 L429.5,76.5 L430.0,79.9 L430.5,81.7 L431.0,82.0 L431.5,82.0 L432.0,81.9 L432.5,81.5 L433.0,81.0 L433.5,80.6 L434.0,80.4 L434.5,80.2 L435.0,81.2 L435.5,81.8 L436.0,82.4 L436.5,82.5 L437.0,82.5 L437.5,82.7 L438.0,82.4 L438.5,81.8 L439.0,80.9 L439.5,79.1 L440.0,77.2 L440.5,75.8 L441.0,75.3 L441.5,75.5 L442.0,77.3 L442.5,79.1 L443.0,79.9 L443.5,80.8 L444.0,80.8 L444.5,79.6 L445.0,77.0 L445.5,73.7 L446.0,71.4 L446.5,70.1 L447.0,63.9 L447.5,46.1 L448.0,25.4 L448.5,29.3 L449.0,52.8 L449.5,70.8 L450.0,78.3 L450.5,80.7 L451.0,81.3 L451.5,81.8 L452.0,82.0 L452.5,81.8 L453.0,81.4 L453.5,80.2 L454.0,78.1 L454.5,74.7 L455.0,73.2 L455.5,74.9 L456.0,78.2 L456.5,80.5 L457.0,81.8 L457.5,82.9 L458.0,82.7 L458.5,82.6 L459.0,83.0 L459.5,83.0 L460.0,82.5 L460.5,82.6 L461.0,81.7 L461.5,80.1 L462.0,76.6 L462.5,72.4 L463.0,70.7 L463.5,72.8 L464.0,76.8 L464.5,80.1 L465.0,81.6 L465.5,82.5 L466.0,82.2 L466.5,81.9 L467.0,80.3 L467.5,78.5 L468.0,77.6 L468.5,78.2 L469.0,80.1 L469.5,81.7 L470.0,82.5 L470.5,82.7 L471.0,82.8 L471.5,83.2 L472.0,83.4 L472.5,83.2 L473.0,83.5 L473.5,83.4 L474.0,82.9 L474.5,83.2 L475.0,83.0 L475.5,82.6 L476.0,82.7 L476.5,81.2 L477.0,79.3 L477.5,76.7 L478.0,75.4 L478.5,76.5 L479.0,78.6 L479.5,79.8 L480.0,79.1 L480.5,78.0 L481.0,77.1 L481.5,77.6 L482.0,79.2 L482.5,80.0 L483.0,79.3 L483.5,78.0 L484.0,77.1 L484.5,78.1 L485.0,79.5 L485.5,81.4 L486.0,82.0 L486.5,82.0 L487.0,81.6 L487.5,79.4 L488.0,76.4 L488.5,72.7 L489.0,70.4 L489.5,71.6 L490.0,73.6 L490.5,73.6 L491.0,71.2 L491.5,68.9 L492.0,70.4 L492.5,72.1 L493.0,70.8 L493.5,67.0 L494.0,63.5 L494.5,63.6 L495.0,62.0 L495.5,56.3 L496.0,51.7 L496.5,57.9 L497.0,65.6 L497.5,67.8 L498.0,65.5 L498.5,62.9 L499.0,66.6 L499.5,71.6 L500.0,74.3 L500.5,73.7 L501.0,73.5 L501.5,75.1 L502.0,78.3 L502.5,80.2 L503.0,81.0 L503.5,81.0 L504.0,80.6 L504.5,80.4 L505.0,79.6 L505.5,79.1 L506.0,78.4 L506.5,78.2 L507.0,78.0 L507.5,78.4 L508.0,78.3 L508.5,77.9 L509.0,78.3 L509.5,77.8 L510.0,78.0 L510.5,78.0 L511.0,78.5 L511.5,79.3 L512.0,79.6 L512.5,80.0 L513.0,80.7 L513.5,81.1 L514.0,81.8 L514.5,81.6 L515.0,82.3 L515.5,81.8 L516.0,82.2 L516.5,82.0 L517.0,81.5 L517.5,81.4 L518.0,81.0 L518.5,80.7 L519.0,80.5 L519.5,80.4 L520.0,80.7 L520.5,80.8 L521.0,81.0 L521.5,80.8 L522.0,81.2 L522.5,81.9 L523.0,81.8 L523.5,82.5 L524.0,82.5 L524.5,83.1 L525.0,82.7 L525.5,83.3 L526.0,83.1 L526.5,83.1 L527.0,83.1 L527.5,83.6 L528.0,83.4 L528.5,83.3 L529.0,83.4 L529.5,83.7 L530.0,83.3 L530.5,83.6 L531.0,83.3" stroke="#1c14f0" stroke-width="1.5"/>
<path d="M414.5,63.1 L415.0,63.5 L415.5,63.4 L416.0,63.1 L416.5,63.0 L417.0,63.0 L417.5,63.3 L418.0,63.1 L418.5,62.8 L419.0,62.4 L419.5,62.0 L420.0,61.1 L420.5,60.1 L421.0,59.4 L421.5,59.7 L422.0,60.7 L422.5,62.1 L423.0,62.6 L423.5,63.1 L424.0,62.9 L424.5,63.4 L425.0,63.2 L425.5,63.5 L426.0,63.5 L426.5,63.3 L427.0,63.0 L427.5,63.6 L428.0,63.3 L428.5,63.6 L429.0,63.2 L429.5,63.2 L430.0,63.5 L430.5,63.3 L431.0,63.1 L431.5,63.3 L432.0,63.4 L432.5,63.1 L433.0,63.4 L433.5,63.3 L434.0,63.4 L434.5,63.1 L435.0,63.5 L435.5,63.5 L436.0,63.6 L436.5,63.2 L437.0,63.5 L437.5,63.3 L438.0,63.5 L438.5,63.1 L439.0,63.5 L439.5,63.6 L440.0,63.3 L440.5,63.3 L441.0,63.3 L441.5,63.3 L442.0,62.9 L442.5,63.5 L443.0,63.0 L443.5,62.9 L444.0,62.8 L444.5,62.8 L445.0,63.1 L445.5,62.4 L446.0,62.2 L446.5,62.0 L447.0,60.0 L447.5,55.8 L448.0,48.6 L448.5,41.3 L449.0,42.3 L449.5,50.4 L450.0,56.9 L450.5,60.9 L451.0,62.1 L451.5,62.2 L452.0,62.5 L452.5,62.9 L453.0,63.0 L453.5,62.9 L454.0,62.9 L454.5,63.1 L455.0,63.0 L455.5,63.3 L456.0,63.5 L456.5,63.1 L457.0,63.3 L457.5,63.4 L458.0,63.1 L458.5,63.5 L459.0,63.6 L459.5,63.3 L460.0,63.3 L460.5,63.5 L461.0,63.4 L461.5,63.3 L462.0,63.6 L462.5,63.5 L463.0,63.3 L463.5,63.2 L464.0,63.3 L464.5,63.3 L465.0,63.6 L465.5,63.5 L466.0,63.6 L466.5,63.5 L467.0,63.6 L467.5,63.1 L468.0,63.4 L468.5,63.6 L469.0,63.6 L469.5,63.2 L470.0,63.3 L470.5,63.4 L471.0,63.3 L471.5,63.4 L472.0,63.1 L472.5,63.3 L473.0,63.4 L473.5,63.1 L474.0,63.1 L474.5,63.6 L475.0,63.5 L475.5,63.6 L476.0,63.4 L476.5,63.5 L477.0,63.6 L477.5,63.6 L478.0,63.1 L478.5,63.4 L479.0,63.2 L479.5,63.5 L480.0,63.2 L480.5,63.4 L481.0,63.6 L481.5,63.4 L482.0,63.2 L482.5,63.3 L483.0,63.3 L483.5,63.6 L484.0,63.2 L484.5,63.2 L485.0,63.4 L485.5,63.1 L486.0,63.4 L486.5,63.6 L487.0,63.3 L487.5,63.1 L488.0,63.2 L488.5,63.3 L489.0,63.0 L489.5,63.0 L490.0,63.0 L490.5,63.1 L491.0,63.1 L491.5,63.0 L492.0,63.0 L492.5,62.8 L493.0,63.0 L493.5,63.2 L494.0,62.9 L494.5,62.8 L495.0,62.7 L495.5,62.3 L496.0,62.3 L496.5,61.8 L497.0,61.1 L497.5,59.3 L498.0,54.6 L498.5,45.2 L499.0,32.0 L499.5,22.5 L500.0,27.2 L500.5,40.2 L501.0,51.6 L501.5,57.5 L502.0,60.4 L502.5,61.8 L503.0,61.9 L503.5,62.4 L504.0,62.5 L504.5,62.6 L505.0,63.1 L505.5,62.8 L506.0,63.1 L506.5,62.8 L507.0,62.8 L507.5,63.3 L508.0,63.0 L508.5,62.8 L509.0,63.0 L509.5,63.0 L510.0,63.2 L510.5,62.8 L511.0,62.8 L511.5,63.2 L512.0,62.9 L512.5,62.1 L513.0,61.4 L513.5,60.3 L514.0,59.6 L514.5,59.4 L515.0,58.8 L515.5,56.6 L516.0,53.3 L516.5,52.4 L517.0,55.0 L517.5,58.6 L518.0,60.9 L518.5,62.3 L519.0,62.8 L519.5,63.1 L520.0,62.8 L520.5,63.3 L521.0,62.8 L521.5,63.3 L522.0,63.2 L522.5,63.2 L523.0,63.5 L523.5,63.2 L524.0,63.0 L524.5,63.0 L525.0,62.5 L525.5,61.7 L526.0,61.2 L526.5,61.6 L527.0,62.3 L527.5,63.0 L528.0,63.0 L528.5,63.2 L529.0,63.3 L529.5,63.2 L530.0,63.2 L530.5,63.5 L531.0,63.5" stroke="#8a1ef0" stroke-width="1.5"/>
<path d="M414.5,125.8 L415.0,125.7 L415.5,125.6 L416.0,125.6 L416.5,125.5 L417.0,125.8 L417.5,125.8 L418.0,125.5 L418.5,126.0 L419.0,125.6 L419.5,125.9 L420.0,125.9 L420.5,125.8 L421.0,125.1 L421.5,124.9 L422.0,125.0 L422.5,124.6 L423.0,125.0 L423.5,125.6 L424.0,125.6 L424.5,125.9 L425.0,125.9 L425.5,125.7 L426.0,126.0 L426.5,125.7 L427.0,125.7 L427.5,125.8 L428.0,125.7 L428.5,125.6 L429.0,125.8 L429.5,125.6 L430.0,126.0 L430.5,125.8 L431.0,125.7 L431.5,125.5 L432.0,125.6 L432.5,125.6 L433.0,125.7 L433.5,125.7 L434.0,125.8 L434.5,125.8 L435.0,125.5 L435.5,125.4 L436.0,125.3 L436.5,125.1 L437.0,123.7 L437.5,122.1 L438.0,120.1 L438.5,119.0 L439.0,120.6 L439.5,123.1 L440.0,124.4 L440.5,125.0 L441.0,125.0 L441.5,125.6 L442.0,125.5 L442.5,125.5 L443.0,125.6 L443.5,125.4 L444.0,124.8 L444.5,123.9 L445.0,122.6 L445.5,120.9 L446.0,119.9 L446.5,120.7 L447.0,122.4 L447.5,123.9 L448.0,124.5 L448.5,124.4 L449.0,124.5 L449.5,123.6 L450.0,120.7 L450.5,114.0 L451.0,101.9 L451.5,93.4 L452.0,101.8 L452.5,113.7 L453.0,120.8 L453.5,123.6 L454.0,124.1 L454.5,124.3 L455.0,123.9 L455.5,123.4 L456.0,121.5 L456.5,117.5 L457.0,112.8 L457.5,110.0 L458.0,113.1 L458.5,117.9 L459.0,121.7 L459.5,123.6 L460.0,124.5 L460.5,125.2 L461.0,125.0 L461.5,125.1 L462.0,125.2 L462.5,125.5 L463.0,125.7 L463.5,125.6 L464.0,125.7 L464.5,125.3 L465.0,125.3 L465.5,125.8 L466.0,125.5 L466.5,125.8 L467.0,125.5 L467.5,125.4 L468.0,125.5 L468.5,125.4 L469.0,125.9 L469.5,125.7 L470.0,125.6 L470.5,125.6 L471.0,125.6 L471.5,125.4 L472.0,125.9 L472.5,125.7 L473.0,125.9 L473.5,125.6 L474.0,125.7 L474.5,125.5 L475.0,125.3 L475.5,125.9 L476.0,125.8 L476.5,125.5 L477.0,125.8 L477.5,125.7 L478.0,125.4 L478.5,125.5 L479.0,125.7 L479.5,125.3 L480.0,125.5 L480.5,124.9 L481.0,124.8 L481.5,124.6 L482.0,123.2 L482.5,120.6 L483.0,115.9 L483.5,109.2 L484.0,105.9 L484.5,109.0 L485.0,115.5 L485.5,120.6 L486.0,123.1 L486.5,124.6 L487.0,124.7 L487.5,125.0 L488.0,124.9 L488.5,125.2 L489.0,125.2 L489.5,125.2 L490.0,125.0 L490.5,125.0 L491.0,125.4 L491.5,125.0 L492.0,124.9 L492.5,124.7 L493.0,124.6 L493.5,124.4 L494.0,123.8 L494.5,123.6 L495.0,122.2 L495.5,118.2 L496.0,105.0 L496.5,74.0 L497.0,50.6 L497.5,74.4 L498.0,104.7 L498.5,118.4 L499.0,122.5 L499.5,123.7 L500.0,123.9 L500.5,124.4 L501.0,124.9 L501.5,124.9 L502.0,125.4 L502.5,125.0 L503.0,125.5 L503.5,125.3 L504.0,125.2 L504.5,125.3 L505.0,125.1 L505.5,125.5 L506.0,125.2 L506.5,125.5 L507.0,125.3 L507.5,125.0 L508.0,124.7 L508.5,124.2 L509.0,122.5 L509.5,121.1 L510.0,119.7 L510.5,120.8 L511.0,122.6 L511.5,123.7 L512.0,124.7 L512.5,124.6 L513.0,124.8 L513.5,124.5 L514.0,124.0 L514.5,123.1 L515.0,120.9 L515.5,117.1 L516.0,112.4 L516.5,108.7 L517.0,108.7 L517.5,101.5 L518.0,68.9 L518.5,36.0 L519.0,71.4 L519.5,108.0 L520.0,119.5 L520.5,122.4 L521.0,123.4 L521.5,124.0 L522.0,124.7 L522.5,124.7 L523.0,125.0 L523.5,125.4 L524.0,125.4 L524.5,125.6 L525.0,125.6 L525.5,125.2 L526.0,125.3 L526.5,125.2 L527.0,125.7 L527.5,125.7 L528.0,125.5 L528.5,125.6 L529.0,125.7 L529.5,125.8 L530.0,125.5 L530.5,125.9 L531.0,125.6" stroke="#1ed2f5" stroke-width="1.5"/>
</g>
<rect x="413.5" y="19.7" width="118.79999999999995" height="234.60000000000002" fill="none" stroke="#000" stroke-width="1.7"/>
<path d="M413.5,252.4 h4.5" stroke="#000" stroke-width="1.3"/>
<text x="408.9" y="255.6" font-size="8.9" text-anchor="end" fill="#222" >0</text>
<path d="M413.5,210.4 h4.5" stroke="#000" stroke-width="1.3"/>
<text x="408.9" y="213.64" font-size="8.9" text-anchor="end" fill="#222" >20</text>
<path d="M413.5,168.5 h4.5" stroke="#000" stroke-width="1.3"/>
<text x="408.9" y="171.68" font-size="8.9" text-anchor="end" fill="#222" >40</text>
<path d="M413.5,126.5 h4.5" stroke="#000" stroke-width="1.3"/>
<text x="408.9" y="129.72" font-size="8.9" text-anchor="end" fill="#222" >60</text>
<path d="M413.5,84.6 h4.5" stroke="#000" stroke-width="1.3"/>
<text x="408.9" y="87.76000000000003" font-size="8.9" text-anchor="end" fill="#222" >80</text>
<path d="M413.5,42.6 h4.5" stroke="#000" stroke-width="1.3"/>
<text x="408.9" y="45.800000000000026" font-size="8.9" text-anchor="end" fill="#222" >100</text>
<path d="M424.7,254.3 v-3" stroke="#000" stroke-width="1.3"/>
<path d="M442.3,254.3 v-3" stroke="#000" stroke-width="1.3"/>
<path d="M459.8,254.3 v-3" stroke="#000" stroke-width="1.3"/>
<path d="M477.5,254.3 v-3" stroke="#000" stroke-width="1.3"/>
<path d="M495,254.3 v-3" stroke="#000" stroke-width="1.3"/>
<path d="M512.8,254.3 v-3" stroke="#000" stroke-width="1.3"/>
<path d="M530.5,254.3 v-3" stroke="#000" stroke-width="1.3"/>
<text x="459.2" y="266.3" font-size="8.9" text-anchor="middle" fill="#222" >1000</text>
<text x="530.6" y="266.3" font-size="8.9" text-anchor="middle" fill="#222" >1800</text>
<text x="475" y="280.7" font-size="10.4" font-weight="bold" text-anchor="middle" fill="#111">Raman shift (cm<tspan font-size="6.5" dy="-3.5">-1</tspan><tspan dy="3.5">)</tspan></text>
<text transform="translate(391,144.5) rotate(-90)" font-size="10.25" font-weight="bold" text-anchor="middle" fill="#111">Raman intensity (10<tspan font-size="6.5" dy="-3.5">3</tspan><tspan dy="3.5"> cts)</tspan></text>
<text x="534.8" y="14.6" font-size="13.2" font-weight="bold" text-anchor="start" fill="#111" >C</text>
<text x="618" y="13.1" font-size="10.2" font-weight="bold" text-anchor="middle" fill="#111" >Aqueous (200 mM)</text>
<clipPath id="cpC"><rect x="556" y="20" width="120.5" height="234"/></clipPath>
<g clip-path="url(#cpC)" fill="none" stroke-width="1.3" stroke-linejoin="round">
<path d="M557.0,251.7 L557.5,251.4 L558.0,251.3 L558.5,251.7 L559.0,251.6 L559.5,251.4 L560.0,250.9 L560.5,250.7 L561.0,250.7 L561.5,250.5 L562.0,250.6 L562.5,250.7 L563.0,250.6 L563.5,250.9 L564.0,251.3 L564.5,251.1 L565.0,251.6 L565.5,251.5 L566.0,251.7 L566.5,251.4 L567.0,251.6 L567.5,251.7 L568.0,251.5 L568.5,251.3 L569.0,251.8 L569.5,251.8 L570.0,251.5 L570.5,251.4 L571.0,251.8 L571.5,251.7 L572.0,251.4 L572.5,251.5 L573.0,251.4 L573.5,251.8 L574.0,251.4 L574.5,251.9 L575.0,251.8 L575.5,251.4 L576.0,251.7 L576.5,251.5 L577.0,251.7 L577.5,251.8 L578.0,251.4 L578.5,251.3 L579.0,251.8 L579.5,251.4 L580.0,251.7 L580.5,251.5 L581.0,251.4 L581.5,251.4 L582.0,251.0 L582.5,250.5 L583.0,249.6 L583.5,249.0 L584.0,247.7 L584.5,246.6 L585.0,246.4 L585.5,246.4 L586.0,247.9 L586.5,248.6 L587.0,250.0 L587.5,250.7 L588.0,250.8 L588.5,251.2 L589.0,251.5 L589.5,251.4 L590.0,251.4 L590.5,251.2 L591.0,251.1 L591.5,251.3 L592.0,251.3 L592.5,251.2 L593.0,251.2 L593.5,251.1 L594.0,251.3 L594.5,251.1 L595.0,250.6 L595.5,249.9 L596.0,248.9 L596.5,247.1 L597.0,245.4 L597.5,244.0 L598.0,245.0 L598.5,247.3 L599.0,248.7 L599.5,250.1 L600.0,250.6 L600.5,251.2 L601.0,251.2 L601.5,251.5 L602.0,251.2 L602.5,251.5 L603.0,251.5 L603.5,251.4 L604.0,251.6 L604.5,251.6 L605.0,251.1 L605.5,251.2 L606.0,251.2 L606.5,251.0 L607.0,250.9 L607.5,250.9 L608.0,250.7 L608.5,250.9 L609.0,250.7 L609.5,250.4 L610.0,250.5 L610.5,250.6 L611.0,250.6 L611.5,250.6 L612.0,250.7 L612.5,250.8 L613.0,251.4 L613.5,251.4 L614.0,251.1 L614.5,251.5 L615.0,251.7 L615.5,251.5 L616.0,251.3 L616.5,251.5 L617.0,251.5 L617.5,251.4 L618.0,251.6 L618.5,251.3 L619.0,251.9 L619.5,251.7 L620.0,251.7 L620.5,251.9 L621.0,251.7 L621.5,251.5 L622.0,251.5 L622.5,251.4 L623.0,251.3 L623.5,251.8 L624.0,251.8 L624.5,251.5 L625.0,251.4 L625.5,251.7 L626.0,251.8 L626.5,251.9 L627.0,251.4 L627.5,251.8 L628.0,251.8 L628.5,251.8 L629.0,251.5 L629.5,251.4 L630.0,251.8 L630.5,251.5 L631.0,251.5 L631.5,251.6 L632.0,251.5 L632.5,251.8 L633.0,251.4 L633.5,251.3 L634.0,251.6 L634.5,251.6 L635.0,251.7 L635.5,251.6 L636.0,251.6 L636.5,251.5 L637.0,251.1 L637.5,250.9 L638.0,250.4 L638.5,250.2 L639.0,250.0 L639.5,249.5 L640.0,249.7 L640.5,249.5 L641.0,249.9 L641.5,250.6 L642.0,250.4 L642.5,250.6 L643.0,251.1 L643.5,251.1 L644.0,251.5 L644.5,251.1 L645.0,251.6 L645.5,251.7 L646.0,251.6 L646.5,251.4 L647.0,251.4 L647.5,251.6 L648.0,251.5 L648.5,251.4 L649.0,251.4 L649.5,251.4 L650.0,251.5 L650.5,251.6 L651.0,251.6 L651.5,251.2 L652.0,251.2 L652.5,251.3 L653.0,251.3 L653.5,251.1 L654.0,250.9 L654.5,250.7 L655.0,250.7 L655.5,250.6 L656.0,250.5 L656.5,250.1 L657.0,249.5 L657.5,248.9 L658.0,248.1 L658.5,247.1 L659.0,246.5 L659.5,245.5 L660.0,245.6 L660.5,245.7 L661.0,246.1 L661.5,246.9 L662.0,247.9 L662.5,248.3 L663.0,249.0 L663.5,249.2 L664.0,249.5 L664.5,249.8 L665.0,249.1 L665.5,248.7 L666.0,248.3 L666.5,247.3 L667.0,246.2 L667.5,245.8 L668.0,245.3 L668.5,245.8 L669.0,246.5 L669.5,247.6 L670.0,248.6 L670.5,249.3 L671.0,249.8 L671.5,250.3 L672.0,251.0 L672.5,251.0 L673.0,250.9 L673.5,251.4 L674.0,251.1 L674.5,251.1 L675.0,251.4" stroke="#ff7212" stroke-width="1.5"/>
<path d="M557.0,228.3 L557.5,228.4 L558.0,228.5 L558.5,228.3 L559.0,228.5 L559.5,228.2 L560.0,228.5 L560.5,228.5 L561.0,228.2 L561.5,228.4 L562.0,228.2 L562.5,228.4 L563.0,228.7 L563.5,228.5 L564.0,228.6 L564.5,228.6 L565.0,228.2 L565.5,228.7 L566.0,228.6 L566.5,228.2 L567.0,228.6 L567.5,228.4 L568.0,228.2 L568.5,228.7 L569.0,228.4 L569.5,228.6 L570.0,228.2 L570.5,228.5 L571.0,228.1 L571.5,228.2 L572.0,228.3 L572.5,228.1 L573.0,228.4 L573.5,228.1 L574.0,228.2 L574.5,228.4 L575.0,228.1 L575.5,228.4 L576.0,228.1 L576.5,228.2 L577.0,227.9 L577.5,228.0 L578.0,227.9 L578.5,227.3 L579.0,227.6 L579.5,227.2 L580.0,227.5 L580.5,227.4 L581.0,227.5 L581.5,227.2 L582.0,227.4 L582.5,227.7 L583.0,227.8 L583.5,227.7 L584.0,227.1 L584.5,227.1 L585.0,226.3 L585.5,225.7 L586.0,224.8 L586.5,223.4 L587.0,223.5 L587.5,223.8 L588.0,224.5 L588.5,225.5 L589.0,226.5 L589.5,227.3 L590.0,227.5 L590.5,227.4 L591.0,227.4 L591.5,227.4 L592.0,227.7 L592.5,227.2 L593.0,227.2 L593.5,226.7 L594.0,226.5 L594.5,225.7 L595.0,225.0 L595.5,224.8 L596.0,223.9 L596.5,223.6 L597.0,223.5 L597.5,223.8 L598.0,223.6 L598.5,224.4 L599.0,225.0 L599.5,225.8 L600.0,226.5 L600.5,226.9 L601.0,226.7 L601.5,227.0 L602.0,227.4 L602.5,227.3 L603.0,227.1 L603.5,227.1 L604.0,226.9 L604.5,227.4 L605.0,227.2 L605.5,227.7 L606.0,227.7 L606.5,227.6 L607.0,227.8 L607.5,227.8 L608.0,228.3 L608.5,228.2 L609.0,227.9 L609.5,227.9 L610.0,228.1 L610.5,228.1 L611.0,228.2 L611.5,228.1 L612.0,228.0 L612.5,227.8 L613.0,228.2 L613.5,228.0 L614.0,227.8 L614.5,228.0 L615.0,228.2 L615.5,227.6 L616.0,227.5 L616.5,227.7 L617.0,227.2 L617.5,226.9 L618.0,226.7 L618.5,226.1 L619.0,225.8 L619.5,225.2 L620.0,225.0 L620.5,224.6 L621.0,223.9 L621.5,224.4 L622.0,224.8 L622.5,225.3 L623.0,225.8 L623.5,226.1 L624.0,226.5 L624.5,226.6 L625.0,226.8 L625.5,227.2 L626.0,227.3 L626.5,227.2 L627.0,226.9 L627.5,226.5 L628.0,226.6 L628.5,226.4 L629.0,226.1 L629.5,226.0 L630.0,225.7 L630.5,225.9 L631.0,225.8 L631.5,225.7 L632.0,226.0 L632.5,226.0 L633.0,226.4 L633.5,225.9 L634.0,225.5 L634.5,224.9 L635.0,224.2 L635.5,223.4 L636.0,222.2 L636.5,221.0 L637.0,220.4 L637.5,219.4 L638.0,219.1 L638.5,219.5 L639.0,220.1 L639.5,221.2 L640.0,222.3 L640.5,223.5 L641.0,224.5 L641.5,225.6 L642.0,226.2 L642.5,226.9 L643.0,226.9 L643.5,227.5 L644.0,227.4 L644.5,227.2 L645.0,227.4 L645.5,227.7 L646.0,227.9 L646.5,227.6 L647.0,227.9 L647.5,227.7 L648.0,227.9 L648.5,227.4 L649.0,227.7 L649.5,227.9 L650.0,227.5 L650.5,227.4 L651.0,227.2 L651.5,227.2 L652.0,227.2 L652.5,227.4 L653.0,227.0 L653.5,227.0 L654.0,226.7 L654.5,226.7 L655.0,226.5 L655.5,225.9 L656.0,225.0 L656.5,224.4 L657.0,223.4 L657.5,221.5 L658.0,219.1 L658.5,217.1 L659.0,214.3 L659.5,211.0 L660.0,208.1 L660.5,206.1 L661.0,205.4 L661.5,206.2 L662.0,207.7 L662.5,210.0 L663.0,211.7 L663.5,213.2 L664.0,214.0 L664.5,213.2 L665.0,211.3 L665.5,209.0 L666.0,206.7 L666.5,205.9 L667.0,207.8 L667.5,210.9 L668.0,215.1 L668.5,218.4 L669.0,221.3 L669.5,223.4 L670.0,224.6 L670.5,225.6 L671.0,225.8 L671.5,226.7 L672.0,226.6 L672.5,226.8 L673.0,226.0 L673.5,226.0 L674.0,225.5 L674.5,224.8 L675.0,224.5" stroke="#ffd500" stroke-width="1.5"/>
<path d="M557.0,205.2 L557.5,205.2 L558.0,205.5 L558.5,205.1 L559.0,205.6 L559.5,205.3 L560.0,205.4 L560.5,205.4 L561.0,205.4 L561.5,205.5 L562.0,205.4 L562.5,205.3 L563.0,205.5 L563.5,205.2 L564.0,205.5 L564.5,205.5 L565.0,205.5 L565.5,205.3 L566.0,205.5 L566.5,205.7 L567.0,205.3 L567.5,205.2 L568.0,205.4 L568.5,205.6 L569.0,205.1 L569.5,205.1 L570.0,205.4 L570.5,205.5 L571.0,205.5 L571.5,205.3 L572.0,205.7 L572.5,205.2 L573.0,205.5 L573.5,205.1 L574.0,205.1 L574.5,205.1 L575.0,205.1 L575.5,205.4 L576.0,205.4 L576.5,205.2 L577.0,205.6 L577.5,205.3 L578.0,205.1 L578.5,205.2 L579.0,205.5 L579.5,205.6 L580.0,205.1 L580.5,205.1 L581.0,205.5 L581.5,205.2 L582.0,205.6 L582.5,205.3 L583.0,205.4 L583.5,205.2 L584.0,205.5 L584.5,205.3 L585.0,205.2 L585.5,205.5 L586.0,205.0 L586.5,205.4 L587.0,205.0 L587.5,205.3 L588.0,205.1 L588.5,205.3 L589.0,204.7 L589.5,204.7 L590.0,204.2 L590.5,203.7 L591.0,202.9 L591.5,202.3 L592.0,202.5 L592.5,203.3 L593.0,204.0 L593.5,204.5 L594.0,204.6 L594.5,204.7 L595.0,204.9 L595.5,204.7 L596.0,204.1 L596.5,203.7 L597.0,202.1 L597.5,200.9 L598.0,200.0 L598.5,201.1 L599.0,202.4 L599.5,203.3 L600.0,204.3 L600.5,204.7 L601.0,204.5 L601.5,204.6 L602.0,204.6 L602.5,204.7 L603.0,204.2 L603.5,204.4 L604.0,204.3 L604.5,204.2 L605.0,204.5 L605.5,204.8 L606.0,204.6 L606.5,205.1 L607.0,204.9 L607.5,205.2 L608.0,205.3 L608.5,204.9 L609.0,205.4 L609.5,205.4 L610.0,205.0 L610.5,204.8 L611.0,204.8 L611.5,205.2 L612.0,204.5 L612.5,204.9 L613.0,204.2 L613.5,204.5 L614.0,204.0 L614.5,204.1 L615.0,204.6 L615.5,204.4 L616.0,204.7 L616.5,205.2 L617.0,205.1 L617.5,205.3 L618.0,205.4 L618.5,204.9 L619.0,205.0 L619.5,205.4 L620.0,205.3 L620.5,204.9 L621.0,205.2 L621.5,205.0 L622.0,205.2 L622.5,205.0 L623.0,204.9 L623.5,205.5 L624.0,205.1 L624.5,205.4 L625.0,204.9 L625.5,205.1 L626.0,204.9 L626.5,205.1 L627.0,204.9 L627.5,205.2 L628.0,204.8 L628.5,205.1 L629.0,204.8 L629.5,204.4 L630.0,204.2 L630.5,203.8 L631.0,203.5 L631.5,202.7 L632.0,202.4 L632.5,203.0 L633.0,203.4 L633.5,203.8 L634.0,203.9 L634.5,204.1 L635.0,204.3 L635.5,204.2 L636.0,204.1 L636.5,204.2 L637.0,203.8 L637.5,203.4 L638.0,202.3 L638.5,200.5 L639.0,198.7 L639.5,195.9 L640.0,193.2 L640.5,192.1 L641.0,193.3 L641.5,196.0 L642.0,198.7 L642.5,200.9 L643.0,202.2 L643.5,203.1 L644.0,203.7 L644.5,204.3 L645.0,204.1 L645.5,204.2 L646.0,204.3 L646.5,204.1 L647.0,204.6 L647.5,204.0 L648.0,204.3 L648.5,204.5 L649.0,204.0 L649.5,204.1 L650.0,203.8 L650.5,203.5 L651.0,203.3 L651.5,203.0 L652.0,203.1 L652.5,202.7 L653.0,202.4 L653.5,201.5 L654.0,201.3 L654.5,200.6 L655.0,200.2 L655.5,199.5 L656.0,198.7 L656.5,198.4 L657.0,197.1 L657.5,196.9 L658.0,196.3 L658.5,195.6 L659.0,195.3 L659.5,195.2 L660.0,194.7 L660.5,195.0 L661.0,195.4 L661.5,195.5 L662.0,196.3 L662.5,196.7 L663.0,197.4 L663.5,198.2 L664.0,198.9 L664.5,199.4 L665.0,200.2 L665.5,200.8 L666.0,201.1 L666.5,201.9 L667.0,202.1 L667.5,202.9 L668.0,203.0 L668.5,203.5 L669.0,203.6 L669.5,203.8 L670.0,203.8 L670.5,203.9 L671.0,204.6 L671.5,204.4 L672.0,204.5 L672.5,204.6 L673.0,204.8 L673.5,204.6 L674.0,204.6 L674.5,205.0 L675.0,204.8" stroke="#98ea1e" stroke-width="1.5"/>
<path d="M557.0,182.1 L557.5,182.2 L558.0,182.2 L558.5,182.2 L559.0,181.7 L559.5,181.9 L560.0,182.2 L560.5,182.2 L561.0,181.7 L561.5,181.8 L562.0,181.8 L562.5,181.7 L563.0,181.9 L563.5,182.2 L564.0,182.0 L564.5,181.9 L565.0,181.7 L565.5,181.9 L566.0,182.3 L566.5,182.1 L567.0,181.9 L567.5,182.0 L568.0,182.1 L568.5,182.1 L569.0,181.8 L569.5,182.1 L570.0,181.9 L570.5,182.0 L571.0,181.8 L571.5,181.9 L572.0,181.9 L572.5,181.9 L573.0,181.7 L573.5,181.8 L574.0,182.0 L574.5,181.7 L575.0,181.8 L575.5,182.1 L576.0,181.8 L576.5,181.8 L577.0,181.8 L577.5,182.1 L578.0,181.7 L578.5,182.0 L579.0,182.1 L579.5,181.7 L580.0,181.9 L580.5,182.1 L581.0,182.0 L581.5,181.8 L582.0,181.6 L582.5,181.8 L583.0,181.8 L583.5,182.0 L584.0,181.7 L584.5,181.7 L585.0,181.8 L585.5,181.7 L586.0,181.2 L586.5,180.8 L587.0,180.5 L587.5,180.3 L588.0,179.7 L588.5,180.2 L589.0,180.4 L589.5,180.3 L590.0,180.4 L590.5,179.8 L591.0,179.4 L591.5,180.2 L592.0,180.7 L592.5,181.3 L593.0,181.5 L593.5,181.9 L594.0,181.8 L594.5,181.4 L595.0,181.7 L595.5,181.5 L596.0,181.2 L596.5,181.0 L597.0,180.0 L597.5,179.3 L598.0,179.1 L598.5,179.3 L599.0,180.1 L599.5,180.8 L600.0,181.5 L600.5,181.6 L601.0,181.8 L601.5,181.7 L602.0,181.5 L602.5,181.9 L603.0,181.8 L603.5,182.0 L604.0,182.0 L604.5,181.6 L605.0,181.6 L605.5,181.5 L606.0,181.9 L606.5,181.5 L607.0,181.4 L607.5,181.7 L608.0,181.4 L608.5,181.0 L609.0,181.2 L609.5,181.1 L610.0,180.9 L610.5,180.7 L611.0,181.2 L611.5,181.2 L612.0,181.4 L612.5,181.8 L613.0,181.8 L613.5,181.9 L614.0,181.5 L614.5,181.7 L615.0,181.8 L615.5,181.5 L616.0,182.1 L616.5,181.7 L617.0,181.7 L617.5,181.7 L618.0,181.7 L618.5,182.0 L619.0,181.9 L619.5,181.8 L620.0,181.8 L620.5,181.6 L621.0,181.7 L621.5,182.0 L622.0,182.0 L622.5,182.0 L623.0,181.6 L623.5,181.6 L624.0,181.5 L624.5,181.8 L625.0,181.6 L625.5,181.7 L626.0,181.6 L626.5,181.6 L627.0,181.4 L627.5,181.6 L628.0,181.1 L628.5,181.3 L629.0,180.9 L629.5,180.5 L630.0,180.6 L630.5,180.7 L631.0,180.7 L631.5,181.0 L632.0,180.9 L632.5,181.0 L633.0,181.4 L633.5,181.1 L634.0,181.3 L634.5,181.3 L635.0,181.1 L635.5,180.8 L636.0,180.8 L636.5,180.0 L637.0,179.3 L637.5,177.3 L638.0,175.2 L638.5,172.4 L639.0,169.1 L639.5,167.9 L640.0,168.2 L640.5,171.1 L641.0,173.9 L641.5,176.9 L642.0,178.5 L642.5,179.7 L643.0,180.2 L643.5,180.6 L644.0,180.8 L644.5,180.7 L645.0,180.7 L645.5,181.2 L646.0,180.8 L646.5,181.2 L647.0,180.8 L647.5,180.7 L648.0,180.6 L648.5,180.9 L649.0,180.9 L649.5,180.5 L650.0,180.5 L650.5,180.0 L651.0,180.2 L651.5,179.8 L652.0,179.2 L652.5,178.8 L653.0,178.7 L653.5,177.9 L654.0,177.8 L654.5,176.9 L655.0,176.2 L655.5,175.8 L656.0,174.9 L656.5,174.3 L657.0,173.3 L657.5,173.1 L658.0,172.1 L658.5,171.9 L659.0,171.0 L659.5,171.1 L660.0,171.1 L660.5,170.8 L661.0,170.9 L661.5,171.5 L662.0,172.1 L662.5,172.5 L663.0,173.3 L663.5,173.6 L664.0,174.3 L664.5,174.7 L665.0,174.5 L665.5,174.2 L666.0,173.2 L666.5,172.9 L667.0,172.5 L667.5,173.9 L668.0,175.5 L668.5,177.1 L669.0,178.2 L669.5,179.0 L670.0,179.7 L670.5,180.3 L671.0,180.5 L671.5,180.9 L672.0,180.6 L672.5,180.9 L673.0,181.3 L673.5,181.2 L674.0,181.2 L674.5,181.0 L675.0,181.1" stroke="#44e020" stroke-width="1.5"/>
<path d="M557.0,157.3 L557.5,157.6 L558.0,157.6 L558.5,157.2 L559.0,157.6 L559.5,157.1 L560.0,157.4 L560.5,157.6 L561.0,157.2 L561.5,157.5 L562.0,157.2 L562.5,156.8 L563.0,156.8 L563.5,156.6 L564.0,156.2 L564.5,156.2 L565.0,155.6 L565.5,155.7 L566.0,155.3 L566.5,155.2 L567.0,155.8 L567.5,155.8 L568.0,156.4 L568.5,156.8 L569.0,156.9 L569.5,156.9 L570.0,156.8 L570.5,157.1 L571.0,156.9 L571.5,157.2 L572.0,156.9 L572.5,157.2 L573.0,157.0 L573.5,157.0 L574.0,157.1 L574.5,156.7 L575.0,156.6 L575.5,156.9 L576.0,156.3 L576.5,156.0 L577.0,154.5 L577.5,150.8 L578.0,144.9 L578.5,140.2 L579.0,143.0 L579.5,148.5 L580.0,153.1 L580.5,155.3 L581.0,155.8 L581.5,156.3 L582.0,156.3 L582.5,156.6 L583.0,156.5 L583.5,156.2 L584.0,155.4 L584.5,154.4 L585.0,152.6 L585.5,151.6 L586.0,152.5 L586.5,154.4 L587.0,155.3 L587.5,156.0 L588.0,155.5 L588.5,156.0 L589.0,155.5 L589.5,155.4 L590.0,154.9 L590.5,154.7 L591.0,154.1 L591.5,154.2 L592.0,153.8 L592.5,153.9 L593.0,153.9 L593.5,154.3 L594.0,154.6 L594.5,154.7 L595.0,155.3 L595.5,154.9 L596.0,155.2 L596.5,154.9 L597.0,155.0 L597.5,154.8 L598.0,154.5 L598.5,153.7 L599.0,153.5 L599.5,153.4 L600.0,153.4 L600.5,152.6 L601.0,152.8 L601.5,152.7 L602.0,152.7 L602.5,152.2 L603.0,152.2 L603.5,151.7 L604.0,151.7 L604.5,151.0 L605.0,151.6 L605.5,151.4 L606.0,151.7 L606.5,151.8 L607.0,152.1 L607.5,152.4 L608.0,151.9 L608.5,150.6 L609.0,149.4 L609.5,147.9 L610.0,147.3 L610.5,147.8 L611.0,148.7 L611.5,149.4 L612.0,148.5 L612.5,146.7 L613.0,145.9 L613.5,147.6 L614.0,150.6 L614.5,153.3 L615.0,154.8 L615.5,155.7 L616.0,155.9 L616.5,156.5 L617.0,156.7 L617.5,156.8 L618.0,156.5 L618.5,156.9 L619.0,156.8 L619.5,156.7 L620.0,157.2 L620.5,157.0 L621.0,157.1 L621.5,156.7 L622.0,157.1 L622.5,157.2 L623.0,157.2 L623.5,157.0 L624.0,157.1 L624.5,157.0 L625.0,156.8 L625.5,156.6 L626.0,156.7 L626.5,156.6 L627.0,156.3 L627.5,155.4 L628.0,154.7 L628.5,152.5 L629.0,149.8 L629.5,146.0 L630.0,144.8 L630.5,146.0 L631.0,148.5 L631.5,151.0 L632.0,151.1 L632.5,149.4 L633.0,145.9 L633.5,141.5 L634.0,139.5 L634.5,141.9 L635.0,146.0 L635.5,149.4 L636.0,150.5 L636.5,150.3 L637.0,150.0 L637.5,151.4 L638.0,153.7 L638.5,155.2 L639.0,155.8 L639.5,156.0 L640.0,156.6 L640.5,156.8 L641.0,156.6 L641.5,156.8 L642.0,157.0 L642.5,157.0 L643.0,156.5 L643.5,156.8 L644.0,156.5 L644.5,156.5 L645.0,156.9 L645.5,156.5 L646.0,156.5 L646.5,156.0 L647.0,155.2 L647.5,153.8 L648.0,152.2 L648.5,151.8 L649.0,152.8 L649.5,154.0 L650.0,154.6 L650.5,154.7 L651.0,154.1 L651.5,152.6 L652.0,151.8 L652.5,152.3 L653.0,152.6 L653.5,152.9 L654.0,151.4 L654.5,149.7 L655.0,146.6 L655.5,143.8 L656.0,142.7 L656.5,142.6 L657.0,144.0 L657.5,145.9 L658.0,146.5 L658.5,146.7 L659.0,145.7 L659.5,144.8 L660.0,144.1 L660.5,143.1 L661.0,143.2 L661.5,143.1 L662.0,144.5 L662.5,145.4 L663.0,147.2 L663.5,148.4 L664.0,150.0 L664.5,151.8 L665.0,152.7 L665.5,153.9 L666.0,154.3 L666.5,154.9 L667.0,155.3 L667.5,155.9 L668.0,156.3 L668.5,156.3 L669.0,156.4 L669.5,156.8 L670.0,156.9 L670.5,156.9 L671.0,156.6 L671.5,156.9 L672.0,156.9 L672.5,157.2 L673.0,156.9 L673.5,157.1 L674.0,157.1 L674.5,157.0 L675.0,157.1" stroke="#22e44c" stroke-width="1.5"/>
<path d="M557.0,137.1 L557.5,137.2 L558.0,137.0 L558.5,136.9 L559.0,137.3 L559.5,136.7 L560.0,137.2 L560.5,137.1 L561.0,137.0 L561.5,136.9 L562.0,137.1 L562.5,137.2 L563.0,137.1 L563.5,137.1 L564.0,136.7 L564.5,136.9 L565.0,136.8 L565.5,137.2 L566.0,137.2 L566.5,136.8 L567.0,137.0 L567.5,137.0 L568.0,136.7 L568.5,136.9 L569.0,137.1 L569.5,137.1 L570.0,136.8 L570.5,137.1 L571.0,136.8 L571.5,137.0 L572.0,136.9 L572.5,137.3 L573.0,137.1 L573.5,137.1 L574.0,137.1 L574.5,136.9 L575.0,137.2 L575.5,137.1 L576.0,137.1 L576.5,136.8 L577.0,136.8 L577.5,137.0 L578.0,137.1 L578.5,137.1 L579.0,136.9 L579.5,136.7 L580.0,137.0 L580.5,137.2 L581.0,136.7 L581.5,137.1 L582.0,136.7 L582.5,136.8 L583.0,136.6 L583.5,136.8 L584.0,136.8 L584.5,137.2 L585.0,137.2 L585.5,136.7 L586.0,136.7 L586.5,137.1 L587.0,136.6 L587.5,136.7 L588.0,136.7 L588.5,136.5 L589.0,136.5 L589.5,136.4 L590.0,136.0 L590.5,135.7 L591.0,134.3 L591.5,133.2 L592.0,133.1 L592.5,133.3 L593.0,134.6 L593.5,135.4 L594.0,136.1 L594.5,136.1 L595.0,136.2 L595.5,136.5 L596.0,136.3 L596.5,136.2 L597.0,135.9 L597.5,135.2 L598.0,133.5 L598.5,131.4 L599.0,129.3 L599.5,127.9 L600.0,129.0 L600.5,131.6 L601.0,133.5 L601.5,135.2 L602.0,135.6 L602.5,136.4 L603.0,136.5 L603.5,136.5 L604.0,136.9 L604.5,136.5 L605.0,136.6 L605.5,136.5 L606.0,136.8 L606.5,137.0 L607.0,136.9 L607.5,136.8 L608.0,137.0 L608.5,136.6 L609.0,136.7 L609.5,136.9 L610.0,137.1 L610.5,137.0 L611.0,137.0 L611.5,137.0 L612.0,136.8 L612.5,137.1 L613.0,137.0 L613.5,136.8 L614.0,136.8 L614.5,137.1 L615.0,136.8 L615.5,136.7 L616.0,137.1 L616.5,136.9 L617.0,136.9 L617.5,137.0 L618.0,137.1 L618.5,136.6 L619.0,136.8 L619.5,136.6 L620.0,136.8 L620.5,136.9 L621.0,137.1 L621.5,136.9 L622.0,136.9 L622.5,136.8 L623.0,136.9 L623.5,136.7 L624.0,137.0 L624.5,137.0 L625.0,137.0 L625.5,136.6 L626.0,136.9 L626.5,136.9 L627.0,136.7 L627.5,136.9 L628.0,136.9 L628.5,136.7 L629.0,136.7 L629.5,136.4 L630.0,136.3 L630.5,135.5 L631.0,135.4 L631.5,135.0 L632.0,134.7 L632.5,134.6 L633.0,134.9 L633.5,135.6 L634.0,136.0 L634.5,135.8 L635.0,135.9 L635.5,135.8 L636.0,135.7 L636.5,135.8 L637.0,135.6 L637.5,134.9 L638.0,133.5 L638.5,131.8 L639.0,128.7 L639.5,125.9 L640.0,122.5 L640.5,120.9 L641.0,122.6 L641.5,125.4 L642.0,128.8 L642.5,131.3 L643.0,133.4 L643.5,134.6 L644.0,135.4 L644.5,135.3 L645.0,136.0 L645.5,135.6 L646.0,135.8 L646.5,136.1 L647.0,135.9 L647.5,135.9 L648.0,136.0 L648.5,135.8 L649.0,136.1 L649.5,135.7 L650.0,135.9 L650.5,135.8 L651.0,135.5 L651.5,135.0 L652.0,135.2 L652.5,134.4 L653.0,134.4 L653.5,133.9 L654.0,133.2 L654.5,133.0 L655.0,132.5 L655.5,131.7 L656.0,130.9 L656.5,130.2 L657.0,129.5 L657.5,128.5 L658.0,128.2 L658.5,127.7 L659.0,127.1 L659.5,126.8 L660.0,126.3 L660.5,126.9 L661.0,126.6 L661.5,127.4 L662.0,127.8 L662.5,128.7 L663.0,129.6 L663.5,130.4 L664.0,131.0 L664.5,131.6 L665.0,132.2 L665.5,132.9 L666.0,133.4 L666.5,133.8 L667.0,134.6 L667.5,134.8 L668.0,135.1 L668.5,135.2 L669.0,135.7 L669.5,135.6 L670.0,135.8 L670.5,136.1 L671.0,136.3 L671.5,136.5 L672.0,136.4 L672.5,136.6 L673.0,136.7 L673.5,136.6 L674.0,136.6 L674.5,136.3 L675.0,136.4" stroke="#2ef0c0" stroke-width="1.5"/>
<path d="M557.0,90.2 L557.5,90.7 L558.0,90.6 L558.5,90.5 L559.0,90.3 L559.5,90.3 L560.0,90.2 L560.5,90.5 L561.0,90.7 L561.5,90.3 L562.0,90.1 L562.5,90.1 L563.0,90.2 L563.5,90.4 L564.0,90.1 L564.5,89.6 L565.0,89.0 L565.5,88.5 L566.0,88.0 L566.5,88.1 L567.0,88.2 L567.5,89.0 L568.0,89.5 L568.5,89.8 L569.0,89.9 L569.5,90.3 L570.0,90.0 L570.5,90.1 L571.0,90.4 L571.5,90.4 L572.0,90.2 L572.5,90.2 L573.0,90.1 L573.5,90.6 L574.0,90.5 L574.5,90.7 L575.0,90.7 L575.5,90.4 L576.0,90.6 L576.5,90.3 L577.0,90.6 L577.5,90.6 L578.0,90.2 L578.5,90.1 L579.0,90.2 L579.5,90.4 L580.0,90.3 L580.5,90.1 L581.0,90.6 L581.5,90.5 L582.0,90.3 L582.5,90.0 L583.0,90.5 L583.5,90.2 L584.0,89.7 L584.5,89.6 L585.0,89.4 L585.5,89.1 L586.0,88.3 L586.5,88.0 L587.0,87.8 L587.5,88.2 L588.0,89.2 L588.5,89.3 L589.0,89.5 L589.5,90.0 L590.0,89.8 L590.5,89.9 L591.0,90.1 L591.5,90.2 L592.0,90.2 L592.5,90.1 L593.0,89.8 L593.5,89.3 L594.0,89.1 L594.5,87.6 L595.0,86.2 L595.5,84.3 L596.0,83.5 L596.5,84.5 L597.0,86.0 L597.5,88.0 L598.0,89.1 L598.5,89.6 L599.0,89.7 L599.5,90.3 L600.0,90.2 L600.5,89.9 L601.0,90.1 L601.5,90.6 L602.0,90.1 L602.5,90.3 L603.0,90.5 L603.5,90.5 L604.0,90.4 L604.5,90.5 L605.0,90.1 L605.5,90.1 L606.0,90.7 L606.5,90.6 L607.0,90.1 L607.5,90.1 L608.0,90.2 L608.5,90.7 L609.0,90.2 L609.5,90.5 L610.0,90.7 L610.5,90.5 L611.0,90.7 L611.5,90.3 L612.0,90.2 L612.5,90.1 L613.0,90.6 L613.5,90.2 L614.0,90.7 L614.5,90.5 L615.0,90.2 L615.5,90.6 L616.0,90.2 L616.5,90.4 L617.0,90.2 L617.5,90.6 L618.0,90.6 L618.5,90.6 L619.0,90.1 L619.5,90.6 L620.0,90.4 L620.5,90.6 L621.0,90.4 L621.5,90.4 L622.0,90.4 L622.5,90.5 L623.0,90.1 L623.5,90.1 L624.0,90.4 L624.5,90.2 L625.0,90.3 L625.5,90.0 L626.0,90.5 L626.5,90.0 L627.0,90.5 L627.5,90.5 L628.0,90.3 L628.5,90.0 L629.0,90.3 L629.5,90.1 L630.0,90.2 L630.5,90.0 L631.0,90.4 L631.5,90.2 L632.0,90.0 L632.5,89.8 L633.0,90.1 L633.5,90.1 L634.0,90.0 L634.5,89.5 L635.0,89.5 L635.5,89.3 L636.0,89.4 L636.5,88.9 L637.0,89.0 L637.5,89.1 L638.0,88.8 L638.5,88.2 L639.0,88.1 L639.5,88.0 L640.0,88.3 L640.5,88.3 L641.0,88.3 L641.5,88.3 L642.0,88.4 L642.5,88.7 L643.0,88.9 L643.5,89.2 L644.0,89.2 L644.5,89.3 L645.0,89.5 L645.5,89.5 L646.0,89.5 L646.5,89.1 L647.0,89.5 L647.5,89.6 L648.0,89.3 L648.5,89.5 L649.0,89.0 L649.5,89.3 L650.0,88.9 L650.5,88.8 L651.0,88.3 L651.5,88.0 L652.0,87.7 L652.5,87.2 L653.0,86.6 L653.5,86.2 L654.0,85.9 L654.5,85.0 L655.0,84.4 L655.5,83.5 L656.0,82.8 L656.5,82.1 L657.0,81.2 L657.5,80.3 L658.0,79.7 L658.5,79.5 L659.0,79.2 L659.5,79.4 L660.0,80.1 L660.5,80.7 L661.0,81.0 L661.5,82.0 L662.0,82.8 L662.5,83.7 L663.0,84.4 L663.5,85.0 L664.0,85.4 L664.5,86.5 L665.0,86.8 L665.5,87.5 L666.0,87.8 L666.5,88.2 L667.0,88.8 L667.5,88.6 L668.0,89.1 L668.5,89.3 L669.0,89.4 L669.5,89.8 L670.0,89.5 L670.5,89.9 L671.0,89.9 L671.5,90.1 L672.0,89.6 L672.5,89.8 L673.0,89.8 L673.5,90.2 L674.0,89.7 L674.5,89.9 L675.0,90.2" stroke="#1f78ff" stroke-width="1.5"/>
<path d="M557.0,67.5 L557.5,67.0 L558.0,67.1 L558.5,67.3 L559.0,67.3 L559.5,67.3 L560.0,67.3 L560.5,67.0 L561.0,67.0 L561.5,66.9 L562.0,67.3 L562.5,67.0 L563.0,67.0 L563.5,67.4 L564.0,67.3 L564.5,67.2 L565.0,67.3 L565.5,67.2 L566.0,67.3 L566.5,67.0 L567.0,66.9 L567.5,66.9 L568.0,66.9 L568.5,67.1 L569.0,66.9 L569.5,66.9 L570.0,67.2 L570.5,67.4 L571.0,67.3 L571.5,67.0 L572.0,67.3 L572.5,67.0 L573.0,66.9 L573.5,67.0 L574.0,67.1 L574.5,67.2 L575.0,67.1 L575.5,67.3 L576.0,66.9 L576.5,67.4 L577.0,67.0 L577.5,67.3 L578.0,66.8 L578.5,67.3 L579.0,66.9 L579.5,67.3 L580.0,67.2 L580.5,67.1 L581.0,66.8 L581.5,66.6 L582.0,66.5 L582.5,66.7 L583.0,65.9 L583.5,65.8 L584.0,65.3 L584.5,65.2 L585.0,65.1 L585.5,65.4 L586.0,65.8 L586.5,66.7 L587.0,66.6 L587.5,66.8 L588.0,66.9 L588.5,66.6 L589.0,66.5 L589.5,66.3 L590.0,66.6 L590.5,65.8 L591.0,65.9 L591.5,65.1 L592.0,65.2 L592.5,65.0 L593.0,65.8 L593.5,65.8 L594.0,66.2 L594.5,66.5 L595.0,66.4 L595.5,66.5 L596.0,66.8 L596.5,66.5 L597.0,66.4 L597.5,66.4 L598.0,65.5 L598.5,64.0 L599.0,61.4 L599.5,58.0 L600.0,56.0 L600.5,58.1 L601.0,61.6 L601.5,64.5 L602.0,65.4 L602.5,66.3 L603.0,66.7 L603.5,66.5 L604.0,66.5 L604.5,66.8 L605.0,66.6 L605.5,66.9 L606.0,67.0 L606.5,66.7 L607.0,66.7 L607.5,66.9 L608.0,66.7 L608.5,66.7 L609.0,66.7 L609.5,66.4 L610.0,66.1 L610.5,66.0 L611.0,65.6 L611.5,65.5 L612.0,65.1 L612.5,64.9 L613.0,65.4 L613.5,66.2 L614.0,66.4 L614.5,66.8 L615.0,67.0 L615.5,67.0 L616.0,66.6 L616.5,67.1 L617.0,66.9 L617.5,66.7 L618.0,66.6 L618.5,67.0 L619.0,66.5 L619.5,66.4 L620.0,66.3 L620.5,66.6 L621.0,66.1 L621.5,66.2 L622.0,65.7 L622.5,66.0 L623.0,66.0 L623.5,66.1 L624.0,66.5 L624.5,66.5 L625.0,66.4 L625.5,67.0 L626.0,66.7 L626.5,66.6 L627.0,66.5 L627.5,66.9 L628.0,66.8 L628.5,66.5 L629.0,66.7 L629.5,66.8 L630.0,66.7 L630.5,66.5 L631.0,66.6 L631.5,66.6 L632.0,66.5 L632.5,66.1 L633.0,66.4 L633.5,66.3 L634.0,65.9 L634.5,65.6 L635.0,64.9 L635.5,64.7 L636.0,63.7 L636.5,63.0 L637.0,62.4 L637.5,61.7 L638.0,60.3 L638.5,59.6 L639.0,58.9 L639.5,58.9 L640.0,58.8 L640.5,59.3 L641.0,60.3 L641.5,61.0 L642.0,62.1 L642.5,62.6 L643.0,63.5 L643.5,63.7 L644.0,64.8 L644.5,64.8 L645.0,65.3 L645.5,65.6 L646.0,66.0 L646.5,65.8 L647.0,66.2 L647.5,66.0 L648.0,65.7 L648.5,66.1 L649.0,65.6 L649.5,66.0 L650.0,65.5 L650.5,65.3 L651.0,65.5 L651.5,64.9 L652.0,64.7 L652.5,64.3 L653.0,64.1 L653.5,63.3 L654.0,63.1 L654.5,62.4 L655.0,62.2 L655.5,61.1 L656.0,60.9 L656.5,60.0 L657.0,59.5 L657.5,58.9 L658.0,58.4 L658.5,57.6 L659.0,57.3 L659.5,57.0 L660.0,57.4 L660.5,57.0 L661.0,57.2 L661.5,57.9 L662.0,58.4 L662.5,59.2 L663.0,59.3 L663.5,60.1 L664.0,60.7 L664.5,61.6 L665.0,62.1 L665.5,62.7 L666.0,63.5 L666.5,63.8 L667.0,64.4 L667.5,64.8 L668.0,64.8 L668.5,65.5 L669.0,65.4 L669.5,65.4 L670.0,66.1 L670.5,65.8 L671.0,65.8 L671.5,66.1 L672.0,66.2 L672.5,66.7 L673.0,66.7 L673.5,66.5 L674.0,66.6 L674.5,66.8 L675.0,66.8" stroke="#1c14f0" stroke-width="1.5"/>
<path d="M557.0,44.3 L557.5,44.2 L558.0,44.0 L558.5,44.0 L559.0,44.3 L559.5,44.2 L560.0,44.4 L560.5,44.4 L561.0,44.5 L561.5,44.0 L562.0,43.9 L562.5,44.4 L563.0,44.2 L563.5,44.0 L564.0,44.3 L564.5,44.0 L565.0,44.0 L565.5,44.1 L566.0,44.2 L566.5,44.3 L567.0,43.9 L567.5,44.3 L568.0,44.3 L568.5,44.2 L569.0,44.3 L569.5,44.4 L570.0,43.9 L570.5,44.2 L571.0,44.3 L571.5,44.3 L572.0,44.3 L572.5,44.0 L573.0,44.4 L573.5,44.3 L574.0,44.0 L574.5,44.1 L575.0,44.4 L575.5,44.0 L576.0,44.1 L576.5,44.4 L577.0,44.4 L577.5,44.0 L578.0,44.3 L578.5,44.1 L579.0,44.2 L579.5,44.3 L580.0,43.9 L580.5,44.0 L581.0,44.0 L581.5,44.0 L582.0,43.9 L582.5,43.9 L583.0,44.1 L583.5,44.1 L584.0,43.9 L584.5,44.1 L585.0,44.4 L585.5,44.1 L586.0,44.0 L586.5,44.2 L587.0,44.0 L587.5,43.8 L588.0,44.0 L588.5,43.7 L589.0,44.0 L589.5,43.6 L590.0,43.7 L590.5,43.9 L591.0,43.6 L591.5,43.3 L592.0,42.5 L592.5,41.2 L593.0,39.3 L593.5,37.0 L594.0,34.4 L594.5,34.5 L595.0,36.1 L595.5,38.6 L596.0,41.0 L596.5,42.3 L597.0,43.2 L597.5,43.6 L598.0,43.7 L598.5,43.6 L599.0,43.5 L599.5,43.9 L600.0,44.1 L600.5,43.8 L601.0,43.7 L601.5,43.7 L602.0,43.8 L602.5,44.2 L603.0,43.8 L603.5,43.9 L604.0,43.9 L604.5,44.2 L605.0,44.4 L605.5,43.8 L606.0,43.9 L606.5,44.4 L607.0,44.4 L607.5,43.9 L608.0,44.0 L608.5,44.1 L609.0,44.0 L609.5,44.1 L610.0,44.1 L610.5,44.0 L611.0,43.9 L611.5,43.9 L612.0,43.9 L612.5,43.9 L613.0,44.2 L613.5,44.2 L614.0,44.0 L614.5,44.3 L615.0,44.3 L615.5,44.0 L616.0,44.1 L616.5,43.9 L617.0,44.4 L617.5,44.1 L618.0,43.8 L618.5,43.9 L619.0,44.2 L619.5,44.0 L620.0,44.2 L620.5,43.9 L621.0,44.3 L621.5,44.3 L622.0,43.8 L622.5,44.1 L623.0,43.9 L623.5,44.2 L624.0,44.2 L624.5,44.2 L625.0,43.8 L625.5,43.7 L626.0,44.0 L626.5,43.9 L627.0,43.6 L627.5,43.5 L628.0,43.4 L628.5,42.6 L629.0,42.0 L629.5,40.3 L630.0,38.7 L630.5,38.0 L631.0,38.9 L631.5,40.6 L632.0,41.6 L632.5,42.9 L633.0,43.1 L633.5,43.4 L634.0,43.8 L634.5,43.9 L635.0,43.8 L635.5,44.0 L636.0,43.6 L636.5,43.7 L637.0,43.9 L637.5,43.6 L638.0,43.6 L638.5,43.6 L639.0,43.9 L639.5,43.8 L640.0,43.7 L640.5,43.7 L641.0,43.5 L641.5,42.9 L642.0,42.4 L642.5,42.0 L643.0,40.8 L643.5,40.2 L644.0,39.0 L644.5,38.2 L645.0,37.6 L645.5,36.2 L646.0,35.3 L646.5,34.5 L647.0,34.9 L647.5,36.5 L648.0,38.5 L648.5,40.4 L649.0,41.6 L649.5,42.2 L650.0,42.8 L650.5,42.8 L651.0,43.0 L651.5,42.6 L652.0,42.5 L652.5,42.6 L653.0,42.4 L653.5,42.1 L654.0,42.0 L654.5,41.4 L655.0,41.0 L655.5,40.6 L656.0,40.2 L656.5,39.6 L657.0,38.7 L657.5,38.1 L658.0,37.8 L658.5,37.2 L659.0,36.6 L659.5,36.0 L660.0,36.1 L660.5,36.3 L661.0,36.4 L661.5,36.7 L662.0,37.9 L662.5,38.5 L663.0,38.7 L663.5,39.5 L664.0,40.2 L664.5,40.6 L665.0,41.0 L665.5,41.8 L666.0,42.3 L666.5,42.4 L667.0,42.5 L667.5,42.9 L668.0,42.9 L668.5,43.5 L669.0,43.1 L669.5,43.4 L670.0,43.7 L670.5,43.4 L671.0,43.4 L671.5,43.5 L672.0,43.6 L672.5,43.8 L673.0,44.0 L673.5,43.7 L674.0,43.7 L674.5,44.1 L675.0,43.9" stroke="#8a1ef0" stroke-width="1.5"/>
<path d="M557.0,113.4 L557.5,113.2 L558.0,113.3 L558.5,113.8 L559.0,113.2 L559.5,113.3 L560.0,113.6 L560.5,113.7 L561.0,113.7 L561.5,113.4 L562.0,113.7 L562.5,113.5 L563.0,113.3 L563.5,113.4 L564.0,113.6 L564.5,113.6 L565.0,113.2 L565.5,113.3 L566.0,113.7 L566.5,113.2 L567.0,113.6 L567.5,113.3 L568.0,113.3 L568.5,113.3 L569.0,113.4 L569.5,113.7 L570.0,113.2 L570.5,113.6 L571.0,113.3 L571.5,113.2 L572.0,113.6 L572.5,113.3 L573.0,113.2 L573.5,113.3 L574.0,113.6 L574.5,113.6 L575.0,113.4 L575.5,113.0 L576.0,113.4 L576.5,113.3 L577.0,113.4 L577.5,113.3 L578.0,112.7 L578.5,112.7 L579.0,112.4 L579.5,111.7 L580.0,111.3 L580.5,111.0 L581.0,110.8 L581.5,111.0 L582.0,111.1 L582.5,111.6 L583.0,112.4 L583.5,112.4 L584.0,112.8 L584.5,113.2 L585.0,113.2 L585.5,113.0 L586.0,113.4 L586.5,113.4 L587.0,113.5 L587.5,113.4 L588.0,113.4 L588.5,113.4 L589.0,113.0 L589.5,113.3 L590.0,113.0 L590.5,113.2 L591.0,112.7 L591.5,112.7 L592.0,112.0 L592.5,111.4 L593.0,109.6 L593.5,108.3 L594.0,107.5 L594.5,108.3 L595.0,109.5 L595.5,111.4 L596.0,112.2 L596.5,112.6 L597.0,112.8 L597.5,112.5 L598.0,112.9 L598.5,112.5 L599.0,112.0 L599.5,111.0 L600.0,109.9 L600.5,108.3 L601.0,107.6 L601.5,108.0 L602.0,109.6 L602.5,111.0 L603.0,111.9 L603.5,112.6 L604.0,112.6 L604.5,113.2 L605.0,113.0 L605.5,112.9 L606.0,112.9 L606.5,113.4 L607.0,113.1 L607.5,113.2 L608.0,113.2 L608.5,113.5 L609.0,113.6 L609.5,113.2 L610.0,113.4 L610.5,113.5 L611.0,113.3 L611.5,113.5 L612.0,113.4 L612.5,113.2 L613.0,113.5 L613.5,113.3 L614.0,113.1 L614.5,113.3 L615.0,113.5 L615.5,113.3 L616.0,113.3 L616.5,113.2 L617.0,113.5 L617.5,113.3 L618.0,113.0 L618.5,113.1 L619.0,113.1 L619.5,113.4 L620.0,113.2 L620.5,112.8 L621.0,113.3 L621.5,112.7 L622.0,113.0 L622.5,112.8 L623.0,112.9 L623.5,112.6 L624.0,112.2 L624.5,112.2 L625.0,112.0 L625.5,111.2 L626.0,109.3 L626.5,105.5 L627.0,98.8 L627.5,89.5 L628.0,84.0 L628.5,89.5 L629.0,98.9 L629.5,105.5 L630.0,109.1 L630.5,110.9 L631.0,111.7 L631.5,111.5 L632.0,111.7 L632.5,111.8 L633.0,112.1 L633.5,111.7 L634.0,111.7 L634.5,111.5 L635.0,111.2 L635.5,110.4 L636.0,110.0 L636.5,108.3 L637.0,104.2 L637.5,96.4 L638.0,82.9 L638.5,67.6 L639.0,59.2 L639.5,67.5 L640.0,83.3 L640.5,96.2 L641.0,104.4 L641.5,107.8 L642.0,109.4 L642.5,110.6 L643.0,111.4 L643.5,111.7 L644.0,112.0 L644.5,111.9 L645.0,112.2 L645.5,112.0 L646.0,111.8 L646.5,112.0 L647.0,112.0 L647.5,111.6 L648.0,111.4 L648.5,110.9 L649.0,110.6 L649.5,110.2 L650.0,109.8 L650.5,109.3 L651.0,108.7 L651.5,108.3 L652.0,108.4 L652.5,108.6 L653.0,108.8 L653.5,108.7 L654.0,109.0 L654.5,109.4 L655.0,109.4 L655.5,109.7 L656.0,109.8 L656.5,109.1 L657.0,108.8 L657.5,107.9 L658.0,105.9 L658.5,101.8 L659.0,94.0 L659.5,80.7 L660.0,63.0 L660.5,44.3 L661.0,34.9 L661.5,44.3 L662.0,62.8 L662.5,80.8 L663.0,93.9 L663.5,102.2 L664.0,106.3 L664.5,108.1 L665.0,109.5 L665.5,110.4 L666.0,111.2 L666.5,111.2 L667.0,111.8 L667.5,111.7 L668.0,111.9 L668.5,112.0 L669.0,112.3 L669.5,112.6 L670.0,112.5 L670.5,112.5 L671.0,112.6 L671.5,112.6 L672.0,112.7 L672.5,112.8 L673.0,113.0 L673.5,112.8 L674.0,113.0 L674.5,113.0 L675.0,113.4" stroke="#1ed2f5" stroke-width="2.8000000000000003"/>
</g>
<rect x="556" y="20" width="120.5" height="234" fill="none" stroke="#000" stroke-width="1.7"/>
<path d="M556,253.3 h4" stroke="#000" stroke-width="1.5"/>
<text x="551.8" y="256.5" font-size="8.9" text-anchor="end" fill="#222" >0</text>
<path d="M556,195.4 h4" stroke="#000" stroke-width="1.5"/>
<text x="551.8" y="198.6" font-size="8.9" text-anchor="end" fill="#222" >5</text>
<path d="M556,137.5 h4" stroke="#000" stroke-width="1.5"/>
<text x="551.8" y="140.7" font-size="8.9" text-anchor="end" fill="#222" >10</text>
<path d="M556,79.6 h4" stroke="#000" stroke-width="1.5"/>
<text x="551.8" y="82.80000000000003" font-size="8.9" text-anchor="end" fill="#222" >15</text>
<path d="M556,21.7 h4" stroke="#000" stroke-width="1.5"/>
<text x="551.8" y="24.900000000000016" font-size="8.9" text-anchor="end" fill="#222" >20</text>
<path d="M567.3,254 v-3" stroke="#000" stroke-width="1.3"/>
<path d="M585,254 v-3" stroke="#000" stroke-width="1.3"/>
<path d="M602.8,254 v-3" stroke="#000" stroke-width="1.3"/>
<path d="M620.6,254 v-3" stroke="#000" stroke-width="1.3"/>
<path d="M638.3,254 v-3" stroke="#000" stroke-width="1.3"/>
<path d="M656.2,254 v-3" stroke="#000" stroke-width="1.3"/>
<path d="M673.8,254 v-3" stroke="#000" stroke-width="1.3"/>
<text x="603.5" y="266.3" font-size="8.9" text-anchor="middle" fill="#222" >1000</text>
<text x="673.9" y="266.3" font-size="8.9" text-anchor="middle" fill="#222" >1800</text>
<text x="617.8" y="280.8" font-size="10.4" font-weight="bold" text-anchor="middle" fill="#111">Raman shift (cm<tspan font-size="6.5" dy="-3.5">-1</tspan><tspan dy="3.5">)</tspan></text>
<text x="3.4" y="300.6" font-size="13.2" font-weight="bold" text-anchor="start" fill="#111" >D</text>
<text x="51.8" y="295.8" font-size="10.4" text-anchor="start" fill="#222" >Fumarate (aq.)</text>
<clipPath id="cpD"><rect x="31.5" y="302.8" width="245.0" height="153.2"/></clipPath>
<g clip-path="url(#cpD)" fill="none" stroke-linejoin="round">
<path d="M32.0,450.5 L32.5,450.6 L33.0,450.4 L33.5,450.3 L34.0,450.5 L34.5,450.3 L35.0,450.3 L35.5,450.3 L36.0,450.6 L36.5,450.7 L37.0,450.5 L37.5,450.5 L38.0,450.5 L38.5,450.5 L39.0,450.6 L39.5,450.5 L40.0,450.5 L40.5,450.8 L41.0,450.7 L41.5,450.5 L42.0,450.8 L42.5,450.8 L43.0,450.7 L43.5,450.8 L44.0,450.9 L44.5,450.7 L45.0,450.8 L45.5,450.7 L46.0,450.8 L46.5,450.9 L47.0,450.9 L47.5,451.0 L48.0,450.7 L48.5,450.7 L49.0,450.9 L49.5,450.8 L50.0,450.6 L50.5,450.5 L51.0,450.2 L51.5,450.1 L52.0,449.5 L52.5,448.8 L53.0,447.9 L53.5,446.8 L54.0,445.9 L54.5,444.5 L55.0,442.8 L55.5,441.9 L56.0,441.5 L56.5,441.8 L57.0,442.8 L57.5,444.3 L58.0,445.6 L58.5,447.0 L59.0,448.3 L59.5,449.2 L60.0,449.8 L60.5,450.3 L61.0,450.8 L61.5,451.1 L62.0,451.4 L62.5,451.4 L63.0,451.5 L63.5,451.6 L64.0,451.7 L64.5,452.0 L65.0,451.9 L65.5,451.8 L66.0,451.8 L66.5,452.0 L67.0,451.7 L67.5,451.9 L68.0,451.6 L68.5,451.6 L69.0,451.4 L69.5,451.5 L70.0,451.0 L70.5,450.6 L71.0,450.0 L71.5,449.3 L72.0,448.5 L72.5,447.3 L73.0,445.9 L73.5,444.4 L74.0,442.6 L74.5,441.6 L75.0,440.7 L75.5,441.4 L76.0,442.3 L76.5,443.8 L77.0,445.6 L77.5,447.2 L78.0,448.3 L78.5,449.2 L79.0,450.4 L79.5,450.9 L80.0,451.3 L80.5,451.8 L81.0,451.7 L81.5,451.8 L82.0,452.0 L82.5,452.1 L83.0,452.4 L83.5,452.5 L84.0,452.3 L84.5,452.4 L85.0,452.4 L85.5,452.6 L86.0,452.7 L86.5,452.8 L87.0,452.6 L87.5,452.9 L88.0,452.7 L88.5,452.7 L89.0,452.7 L89.5,452.7 L90.0,453.0 L90.5,453.0 L91.0,452.9 L91.5,452.7 L92.0,452.7 L92.5,452.7 L93.0,452.8 L93.5,452.9 L94.0,452.7 L94.5,452.8 L95.0,452.9 L95.5,452.7 L96.0,452.8 L96.5,453.0 L97.0,452.9 L97.5,452.8 L98.0,453.0 L98.5,452.9 L99.0,452.8 L99.5,452.8 L100.0,453.0 L100.5,453.0 L101.0,453.0 L101.5,452.9 L102.0,452.7 L102.5,452.7 L103.0,452.8 L103.5,452.9 L104.0,452.6 L104.5,452.9 L105.0,452.9 L105.5,452.8 L106.0,452.6 L106.5,452.9 L107.0,452.8 L107.5,452.9 L108.0,452.8 L108.5,452.9 L109.0,452.7 L109.5,453.0 L110.0,452.9 L110.5,452.9 L111.0,452.8 L111.5,452.7 L112.0,452.7 L112.5,452.6 L113.0,452.9 L113.5,452.8 L114.0,452.8 L114.5,452.8 L115.0,452.9 L115.5,452.8 L116.0,452.6 L116.5,452.8 L117.0,452.6 L117.5,452.7 L118.0,452.5 L118.5,452.8 L119.0,452.6 L119.5,452.5 L120.0,452.8 L120.5,452.4 L121.0,452.7 L121.5,452.7 L122.0,452.4 L122.5,452.6 L123.0,452.5 L123.5,452.7 L124.0,452.5 L124.5,452.4 L125.0,452.6 L125.5,452.2 L126.0,452.5 L126.5,452.2 L127.0,452.3 L127.5,452.2 L128.0,452.4 L128.5,452.2 L129.0,452.3 L129.5,452.1 L130.0,452.3 L130.5,452.2 L131.0,451.9 L131.5,452.1 L132.0,452.1 L132.5,451.8 L133.0,452.0 L133.5,451.8 L134.0,451.7 L134.5,451.9 L135.0,451.8 L135.5,451.7 L136.0,451.4 L136.5,451.4 L137.0,451.3 L137.5,451.2 L138.0,450.9 L138.5,450.9 L139.0,450.5 L139.5,450.5 L140.0,450.1 L140.5,449.6 L141.0,449.5 L141.5,448.8 L142.0,448.4 L142.5,447.4 L143.0,446.7 L143.5,445.1 L144.0,443.1 L144.5,440.0 L145.0,436.3 L145.5,431.1 L146.0,424.7 L146.5,417.5 L147.0,409.2 L147.5,402.0 L148.0,396.8 L148.5,396.2 L149.0,399.7 L149.5,406.0 L150.0,414.1 L150.5,421.8 L151.0,428.7 L151.5,434.2 L152.0,438.4 L152.5,441.8 L153.0,443.8 L153.5,445.4 L154.0,446.8 L154.5,447.4 L155.0,448.0 L155.5,448.6 L156.0,448.9 L156.5,449.1 L157.0,449.6 L157.5,449.6 L158.0,449.9 L158.5,449.8 L159.0,450.2 L159.5,450.0 L160.0,450.3 L160.5,450.2 L161.0,450.3 L161.5,450.2 L162.0,450.2 L162.5,450.1 L163.0,450.2 L163.5,449.9 L164.0,449.7 L164.5,449.9 L165.0,449.8 L165.5,449.6 L166.0,449.4 L166.5,449.0 L167.0,448.9 L167.5,448.8 L168.0,448.5 L168.5,448.2 L169.0,447.5 L169.5,447.2 L170.0,446.6 L170.5,445.8 L171.0,444.9 L171.5,443.8 L172.0,442.6 L172.5,440.7 L173.0,438.2 L173.5,435.0 L174.0,430.8 L174.5,425.2 L175.0,418.0 L175.5,409.1 L176.0,399.0 L176.5,387.2 L177.0,375.4 L177.5,364.2 L178.0,355.5 L178.5,352.2 L179.0,354.8 L179.5,362.1 L180.0,372.9 L180.5,384.7 L181.0,396.2 L181.5,406.4 L182.0,414.7 L182.5,420.6 L183.0,424.2 L183.5,426.6 L184.0,430.8 L184.5,435.7 L185.0,439.6 L185.5,442.5 L186.0,444.1 L186.5,445.2 L187.0,446.2 L187.5,446.8 L188.0,447.3 L188.5,447.8 L189.0,448.1 L189.5,448.7 L190.0,448.7 L190.5,449.3 L191.0,449.1 L191.5,449.3 L192.0,449.7 L192.5,449.7 L193.0,450.0 L193.5,449.9 L194.0,450.3 L194.5,450.4 L195.0,450.5 L195.5,450.6 L196.0,450.7 L196.5,450.7 L197.0,450.7 L197.5,450.5 L198.0,450.5 L198.5,450.7 L199.0,451.0 L199.5,450.7 L200.0,450.8 L200.5,450.6 L201.0,450.8 L201.5,451.0 L202.0,450.8 L202.5,450.9 L203.0,450.6 L203.5,450.6 L204.0,450.6 L204.5,450.8 L205.0,450.4 L205.5,450.7 L206.0,450.3 L206.5,450.5 L207.0,450.2 L207.5,450.0 L208.0,450.0 L208.5,449.6 L209.0,449.4 L209.5,448.8 L210.0,448.7 L210.5,448.3 L211.0,447.3 L211.5,446.9 L212.0,446.0 L212.5,445.1 L213.0,444.3 L213.5,443.6 L214.0,442.9 L214.5,442.2 L215.0,441.6 L215.5,441.2 L216.0,441.1 L216.5,441.0 L217.0,441.5 L217.5,441.7 L218.0,441.8 L218.5,442.1 L219.0,441.9 L219.5,441.8 L220.0,441.7 L220.5,441.7 L221.0,441.9 L221.5,442.2 L222.0,442.2 L222.5,442.6 L223.0,442.9 L223.5,443.1 L224.0,443.2 L224.5,443.3 L225.0,443.1 L225.5,443.0 L226.0,442.9 L226.5,442.6 L227.0,442.5 L227.5,441.8 L228.0,441.6 L228.5,440.8 L229.0,440.1 L229.5,439.5 L230.0,438.6 L230.5,437.6 L231.0,436.7 L231.5,435.0 L232.0,433.5 L232.5,431.4 L233.0,428.6 L233.5,425.1 L234.0,420.9 L234.5,415.3 L235.0,408.4 L235.5,400.1 L236.0,390.4 L236.5,379.2 L237.0,366.6 L237.5,353.5 L238.0,340.2 L238.5,328.2 L239.0,319.2 L239.5,314.9 L240.0,315.7 L240.5,322.0 L241.0,332.5 L241.5,345.3 L242.0,359.1 L242.5,372.2 L243.0,384.3 L243.5,395.1 L244.0,404.4 L244.5,412.2 L245.0,418.9 L245.5,424.0 L246.0,428.0 L246.5,431.4 L247.0,433.8 L247.5,436.0 L248.0,437.7 L248.5,438.9 L249.0,440.4 L249.5,441.3 L250.0,442.1 L250.5,442.8 L251.0,443.7 L251.5,444.2 L252.0,444.8 L252.5,445.1 L253.0,445.9 L253.5,446.0 L254.0,446.5 L254.5,446.9 L255.0,447.2 L255.5,447.5 L256.0,448.0 L256.5,448.4 L257.0,448.4 L257.5,448.6 L258.0,449.0 L258.5,449.0 L259.0,449.3 L259.5,449.6 L260.0,449.6 L260.5,449.7 L261.0,449.8 L261.5,450.1 L262.0,450.4 L262.5,450.5 L263.0,450.3 L263.5,450.5 L264.0,450.6 L264.5,450.6 L265.0,450.9 L265.5,450.9 L266.0,451.1 L266.5,450.9 L267.0,451.3 L267.5,451.3 L268.0,451.2 L268.5,451.1 L269.0,451.3 L269.5,451.2 L270.0,451.4 L270.5,451.5 L271.0,451.5 L271.5,451.7 L272.0,451.3 L272.5,451.6 L273.0,451.7 L273.5,451.4 L274.0,451.5 L274.5,451.5 L275.0,451.7 L275.5,451.8 L276.0,451.6 L276.5,451.8" stroke="#1ee0f6" stroke-width="2.0"/>
<path d="M32.0,450.6 L32.5,450.7 L33.0,450.6 L33.5,450.8 L34.0,450.6 L34.5,450.5 L35.0,450.5 L35.5,450.8 L36.0,450.8 L36.5,450.7 L37.0,450.6 L37.5,450.9 L38.0,450.8 L38.5,450.6 L39.0,450.7 L39.5,450.8 L40.0,450.6 L40.5,450.6 L41.0,450.8 L41.5,451.0 L42.0,451.1 L42.5,450.8 L43.0,451.1 L43.5,451.0 L44.0,451.1 L44.5,451.0 L45.0,451.2 L45.5,451.0 L46.0,451.2 L46.5,451.0 L47.0,450.9 L47.5,451.0 L48.0,451.0 L48.5,450.9 L49.0,450.9 L49.5,450.9 L50.0,450.8 L50.5,450.5 L51.0,450.4 L51.5,450.2 L52.0,449.7 L52.5,449.1 L53.0,448.5 L53.5,447.3 L54.0,446.3 L54.5,444.9 L55.0,443.9 L55.5,442.9 L56.0,442.5 L56.5,442.7 L57.0,443.5 L57.5,445.1 L58.0,446.2 L58.5,447.4 L59.0,448.4 L59.5,449.4 L60.0,450.2 L60.5,450.7 L61.0,451.0 L61.5,451.3 L62.0,451.3 L62.5,451.6 L63.0,451.6 L63.5,451.7 L64.0,451.8 L64.5,452.0 L65.0,452.0 L65.5,451.8 L66.0,451.9 L66.5,452.1 L67.0,452.0 L67.5,452.0 L68.0,451.9 L68.5,451.9 L69.0,451.6 L69.5,451.3 L70.0,451.2 L70.5,450.7 L71.0,450.6 L71.5,449.7 L72.0,448.9 L72.5,447.9 L73.0,446.5 L73.5,444.8 L74.0,443.4 L74.5,442.2 L75.0,441.9 L75.5,442.3 L76.0,443.2 L76.5,444.6 L77.0,446.0 L77.5,447.5 L78.0,448.8 L78.5,449.8 L79.0,450.6 L79.5,451.1 L80.0,451.4 L80.5,451.7 L81.0,451.9 L81.5,452.3 L82.0,452.1 L82.5,452.2 L83.0,452.3 L83.5,452.6 L84.0,452.6 L84.5,452.5 L85.0,452.7 L85.5,452.8 L86.0,452.6 L86.5,452.5 L87.0,452.8 L87.5,452.7 L88.0,452.6 L88.5,452.9 L89.0,452.7 L89.5,452.7 L90.0,452.8 L90.5,452.7 L91.0,452.6 L91.5,452.8 L92.0,452.8 L92.5,452.6 L93.0,452.8 L93.5,452.9 L94.0,452.8 L94.5,452.9 L95.0,452.9 L95.5,452.7 L96.0,452.6 L96.5,452.9 L97.0,452.9 L97.5,452.8 L98.0,452.7 L98.5,453.0 L99.0,453.0 L99.5,452.7 L100.0,452.9 L100.5,452.9 L101.0,452.8 L101.5,452.6 L102.0,452.7 L102.5,452.9 L103.0,452.9 L103.5,452.8 L104.0,452.7 L104.5,452.7 L105.0,452.7 L105.5,452.8 L106.0,452.7 L106.5,452.9 L107.0,452.6 L107.5,453.0 L108.0,452.7 L108.5,452.9 L109.0,452.7 L109.5,452.8 L110.0,452.7 L110.5,452.6 L111.0,452.9 L111.5,452.9 L112.0,452.6 L112.5,452.8 L113.0,452.7 L113.5,452.9 L114.0,452.5 L114.5,452.6 L115.0,452.6 L115.5,452.7 L116.0,452.8 L116.5,452.8 L117.0,452.7 L117.5,452.6 L118.0,452.8 L118.5,452.5 L119.0,452.5 L119.5,452.7 L120.0,452.6 L120.5,452.8 L121.0,452.4 L121.5,452.5 L122.0,452.4 L122.5,452.3 L123.0,452.4 L123.5,452.3 L124.0,452.4 L124.5,452.4 L125.0,452.5 L125.5,452.3 L126.0,452.5 L126.5,452.4 L127.0,452.6 L127.5,452.2 L128.0,452.3 L128.5,452.3 L129.0,452.2 L129.5,452.4 L130.0,452.1 L130.5,452.3 L131.0,452.1 L131.5,452.0 L132.0,452.1 L132.5,452.0 L133.0,451.9 L133.5,451.7 L134.0,452.0 L134.5,451.7 L135.0,451.6 L135.5,451.7 L136.0,451.6 L136.5,451.4 L137.0,451.3 L137.5,451.3 L138.0,451.0 L138.5,450.9 L139.0,450.9 L139.5,450.5 L140.0,450.2 L140.5,449.9 L141.0,449.7 L141.5,449.3 L142.0,448.6 L142.5,447.9 L143.0,446.9 L143.5,445.8 L144.0,443.7 L144.5,441.3 L145.0,437.5 L145.5,433.0 L146.0,426.9 L146.5,420.1 L147.0,413.0 L147.5,406.1 L148.0,401.5 L148.5,400.5 L149.0,403.8 L149.5,409.8 L150.0,417.0 L150.5,424.3 L151.0,430.6 L151.5,435.5 L152.0,439.6 L152.5,442.4 L153.0,444.7 L153.5,446.0 L154.0,447.2 L154.5,447.9 L155.0,448.5 L155.5,448.8 L156.0,449.2 L156.5,449.5 L157.0,449.6 L157.5,449.8 L158.0,450.1 L158.5,450.1 L159.0,450.2 L159.5,450.4 L160.0,450.3 L160.5,450.2 L161.0,450.3 L161.5,450.5 L162.0,450.3 L162.5,450.4 L163.0,450.2 L163.5,450.1 L164.0,450.3 L164.5,450.1 L165.0,449.9 L165.5,449.6 L166.0,449.6 L166.5,449.2 L167.0,449.4 L167.5,449.1 L168.0,448.8 L168.5,448.3 L169.0,448.1 L169.5,447.4 L170.0,447.1 L170.5,446.4 L171.0,445.4 L171.5,444.8 L172.0,443.3 L172.5,441.8 L173.0,439.5 L173.5,436.5 L174.0,432.6 L174.5,427.2 L175.0,420.9 L175.5,412.6 L176.0,402.9 L176.5,392.4 L177.0,381.2 L177.5,370.9 L178.0,363.4 L178.5,360.0 L179.0,362.3 L179.5,369.3 L180.0,379.2 L180.5,390.4 L181.0,401.0 L181.5,410.4 L182.0,418.0 L182.5,423.2 L183.0,426.6 L183.5,428.6 L184.0,432.5 L184.5,437.1 L185.0,440.8 L185.5,443.1 L186.0,444.6 L186.5,446.0 L187.0,446.6 L187.5,447.2 L188.0,447.9 L188.5,448.0 L189.0,448.6 L189.5,448.8 L190.0,449.2 L190.5,449.3 L191.0,449.4 L191.5,449.9 L192.0,449.8 L192.5,450.1 L193.0,450.3 L193.5,450.2 L194.0,450.5 L194.5,450.4 L195.0,450.4 L195.5,450.5 L196.0,450.9 L196.5,450.7 L197.0,450.8 L197.5,450.8 L198.0,450.7 L198.5,451.0 L199.0,451.0 L199.5,451.1 L200.0,450.9 L200.5,450.8 L201.0,450.9 L201.5,451.0 L202.0,451.0 L202.5,450.9 L203.0,450.9 L203.5,450.7 L204.0,451.0 L204.5,450.8 L205.0,450.7 L205.5,450.8 L206.0,450.4 L206.5,450.6 L207.0,450.3 L207.5,450.3 L208.0,449.9 L208.5,449.7 L209.0,449.6 L209.5,449.2 L210.0,448.8 L210.5,448.4 L211.0,447.7 L211.5,447.2 L212.0,446.3 L212.5,445.9 L213.0,444.9 L213.5,444.3 L214.0,443.4 L214.5,442.8 L215.0,442.3 L215.5,441.8 L216.0,442.0 L216.5,441.9 L217.0,442.3 L217.5,442.5 L218.0,442.6 L218.5,442.8 L219.0,442.6 L219.5,442.7 L220.0,442.7 L220.5,442.4 L221.0,442.4 L221.5,442.6 L222.0,442.9 L222.5,443.0 L223.0,443.3 L223.5,443.7 L224.0,443.7 L224.5,443.6 L225.0,443.6 L225.5,443.6 L226.0,443.3 L226.5,443.1 L227.0,442.8 L227.5,442.4 L228.0,442.0 L228.5,441.6 L229.0,440.6 L229.5,440.3 L230.0,439.2 L230.5,438.3 L231.0,437.5 L231.5,436.1 L232.0,434.5 L232.5,432.4 L233.0,430.1 L233.5,426.7 L234.0,422.9 L234.5,417.6 L235.0,411.5 L235.5,404.0 L236.0,394.9 L236.5,384.6 L237.0,373.0 L237.5,361.0 L238.0,348.8 L238.5,337.5 L239.0,329.4 L239.5,325.4 L240.0,326.1 L240.5,332.3 L241.0,341.9 L241.5,353.3 L242.0,365.8 L242.5,377.9 L243.0,389.3 L243.5,399.2 L244.0,408.0 L244.5,415.1 L245.0,421.0 L245.5,425.9 L246.0,429.6 L246.5,432.8 L247.0,435.2 L247.5,436.9 L248.0,438.5 L248.5,439.7 L249.0,440.9 L249.5,441.7 L250.0,442.8 L250.5,443.5 L251.0,444.3 L251.5,444.5 L252.0,445.0 L252.5,445.8 L253.0,446.1 L253.5,446.7 L254.0,446.8 L254.5,447.2 L255.0,447.4 L255.5,448.0 L256.0,448.1 L256.5,448.4 L257.0,448.6 L257.5,449.0 L258.0,449.2 L258.5,449.3 L259.0,449.3 L259.5,449.6 L260.0,449.9 L260.5,449.9 L261.0,450.1 L261.5,450.2 L262.0,450.3 L262.5,450.5 L263.0,450.4 L263.5,450.7 L264.0,450.9 L264.5,450.6 L265.0,450.8 L265.5,451.1 L266.0,451.2 L266.5,450.9 L267.0,451.2 L267.5,451.3 L268.0,451.4 L268.5,451.3 L269.0,451.2 L269.5,451.3 L270.0,451.5 L270.5,451.5 L271.0,451.4 L271.5,451.6 L272.0,451.6 L272.5,451.6 L273.0,451.4 L273.5,451.6 L274.0,451.6 L274.5,451.7 L275.0,451.6 L275.5,451.6 L276.0,451.8 L276.5,451.7" stroke="#24d9f5" stroke-width="2.0"/>
<path d="M32.0,451.0 L32.5,450.8 L33.0,450.9 L33.5,451.0 L34.0,450.8 L34.5,451.0 L35.0,450.7 L35.5,451.1 L36.0,450.7 L36.5,451.0 L37.0,450.9 L37.5,450.8 L38.0,450.9 L38.5,451.0 L39.0,451.0 L39.5,450.9 L40.0,451.0 L40.5,451.0 L41.0,451.2 L41.5,451.0 L42.0,451.1 L42.5,451.0 L43.0,451.3 L43.5,451.1 L44.0,451.2 L44.5,451.3 L45.0,451.1 L45.5,451.3 L46.0,451.1 L46.5,451.1 L47.0,451.0 L47.5,451.2 L48.0,451.3 L48.5,451.1 L49.0,451.1 L49.5,451.2 L50.0,450.9 L50.5,450.8 L51.0,450.7 L51.5,450.4 L52.0,450.3 L52.5,449.7 L53.0,448.8 L53.5,448.1 L54.0,447.0 L54.5,445.7 L55.0,444.8 L55.5,444.1 L56.0,443.5 L56.5,443.9 L57.0,444.7 L57.5,445.6 L58.0,447.1 L58.5,447.9 L59.0,448.9 L59.5,449.9 L60.0,450.2 L60.5,450.8 L61.0,451.0 L61.5,451.4 L62.0,451.4 L62.5,451.6 L63.0,451.7 L63.5,451.7 L64.0,451.8 L64.5,451.9 L65.0,452.0 L65.5,451.9 L66.0,452.2 L66.5,452.0 L67.0,451.9 L67.5,451.9 L68.0,452.1 L68.5,451.7 L69.0,451.9 L69.5,451.5 L70.0,451.6 L70.5,451.1 L71.0,450.7 L71.5,450.2 L72.0,449.1 L72.5,448.1 L73.0,447.1 L73.5,445.8 L74.0,444.5 L74.5,443.4 L75.0,443.0 L75.5,443.2 L76.0,444.2 L76.5,445.4 L77.0,446.9 L77.5,448.0 L78.0,449.1 L78.5,450.1 L79.0,450.5 L79.5,451.3 L80.0,451.6 L80.5,451.7 L81.0,451.9 L81.5,452.2 L82.0,452.3 L82.5,452.4 L83.0,452.4 L83.5,452.4 L84.0,452.7 L84.5,452.5 L85.0,452.8 L85.5,452.8 L86.0,452.9 L86.5,452.9 L87.0,452.6 L87.5,452.8 L88.0,452.8 L88.5,452.6 L89.0,453.0 L89.5,452.8 L90.0,452.9 L90.5,452.8 L91.0,452.6 L91.5,452.9 L92.0,452.7 L92.5,452.7 L93.0,452.9 L93.5,452.7 L94.0,452.8 L94.5,452.9 L95.0,452.7 L95.5,452.9 L96.0,452.7 L96.5,452.8 L97.0,452.9 L97.5,452.9 L98.0,452.6 L98.5,452.7 L99.0,453.0 L99.5,452.8 L100.0,452.8 L100.5,452.8 L101.0,452.9 L101.5,452.9 L102.0,452.9 L102.5,452.8 L103.0,452.8 L103.5,452.8 L104.0,452.7 L104.5,453.0 L105.0,453.0 L105.5,452.9 L106.0,453.0 L106.5,452.8 L107.0,452.9 L107.5,452.7 L108.0,452.9 L108.5,452.8 L109.0,452.9 L109.5,452.9 L110.0,452.9 L110.5,452.6 L111.0,452.9 L111.5,452.7 L112.0,452.7 L112.5,452.7 L113.0,452.8 L113.5,452.8 L114.0,452.8 L114.5,452.8 L115.0,452.6 L115.5,452.5 L116.0,452.7 L116.5,452.5 L117.0,452.6 L117.5,452.5 L118.0,452.5 L118.5,452.7 L119.0,452.5 L119.5,452.7 L120.0,452.5 L120.5,452.7 L121.0,452.5 L121.5,452.5 L122.0,452.5 L122.5,452.3 L123.0,452.5 L123.5,452.5 L124.0,452.3 L124.5,452.6 L125.0,452.4 L125.5,452.3 L126.0,452.6 L126.5,452.3 L127.0,452.3 L127.5,452.2 L128.0,452.2 L128.5,452.4 L129.0,452.3 L129.5,452.3 L130.0,452.1 L130.5,452.1 L131.0,452.4 L131.5,452.1 L132.0,452.3 L132.5,452.2 L133.0,451.9 L133.5,452.1 L134.0,451.7 L134.5,452.0 L135.0,451.9 L135.5,451.8 L136.0,451.7 L136.5,451.7 L137.0,451.3 L137.5,451.4 L138.0,451.1 L138.5,451.1 L139.0,450.8 L139.5,450.8 L140.0,450.6 L140.5,450.4 L141.0,450.0 L141.5,449.6 L142.0,449.3 L142.5,448.6 L143.0,447.6 L143.5,446.3 L144.0,444.9 L144.5,442.3 L145.0,439.0 L145.5,435.0 L146.0,429.9 L146.5,423.9 L147.0,417.2 L147.5,411.1 L148.0,407.1 L148.5,406.3 L149.0,409.1 L149.5,414.5 L150.0,421.1 L150.5,427.3 L151.0,432.7 L151.5,437.5 L152.0,441.1 L152.5,443.5 L153.0,445.6 L153.5,447.0 L154.0,447.6 L154.5,448.3 L155.0,448.9 L155.5,449.2 L156.0,449.8 L156.5,450.0 L157.0,450.0 L157.5,450.3 L158.0,450.3 L158.5,450.2 L159.0,450.6 L159.5,450.4 L160.0,450.4 L160.5,450.5 L161.0,450.4 L161.5,450.6 L162.0,450.5 L162.5,450.7 L163.0,450.4 L163.5,450.5 L164.0,450.4 L164.5,450.3 L165.0,450.0 L165.5,449.9 L166.0,449.9 L166.5,449.7 L167.0,449.6 L167.5,449.3 L168.0,449.0 L168.5,448.8 L169.0,448.7 L169.5,448.0 L170.0,447.5 L170.5,446.9 L171.0,446.2 L171.5,445.3 L172.0,444.3 L172.5,443.0 L173.0,440.9 L173.5,438.4 L174.0,434.8 L174.5,430.1 L175.0,424.2 L175.5,416.8 L176.0,408.4 L176.5,398.9 L177.0,389.1 L177.5,379.7 L178.0,373.1 L178.5,370.2 L179.0,372.2 L179.5,378.3 L180.0,387.0 L180.5,397.1 L181.0,406.6 L181.5,414.9 L182.0,421.4 L182.5,426.4 L183.0,429.4 L183.5,431.4 L184.0,434.6 L184.5,438.5 L185.0,442.1 L185.5,444.2 L186.0,445.5 L186.5,446.7 L187.0,447.3 L187.5,447.9 L188.0,448.1 L188.5,448.6 L189.0,448.9 L189.5,449.1 L190.0,449.6 L190.5,449.7 L191.0,449.8 L191.5,450.0 L192.0,450.3 L192.5,450.3 L193.0,450.6 L193.5,450.5 L194.0,450.8 L194.5,450.5 L195.0,450.7 L195.5,450.8 L196.0,451.0 L196.5,451.1 L197.0,451.0 L197.5,451.0 L198.0,451.1 L198.5,451.1 L199.0,451.1 L199.5,451.2 L200.0,450.9 L200.5,451.0 L201.0,451.2 L201.5,450.9 L202.0,451.2 L202.5,450.9 L203.0,451.1 L203.5,451.1 L204.0,450.9 L204.5,450.9 L205.0,450.8 L205.5,450.9 L206.0,450.7 L206.5,450.7 L207.0,450.5 L207.5,450.4 L208.0,450.4 L208.5,450.2 L209.0,450.0 L209.5,449.4 L210.0,449.2 L210.5,448.7 L211.0,448.2 L211.5,447.8 L212.0,447.0 L212.5,446.4 L213.0,445.8 L213.5,445.1 L214.0,444.1 L214.5,443.6 L215.0,443.2 L215.5,443.1 L216.0,442.7 L216.5,443.1 L217.0,443.1 L217.5,443.3 L218.0,443.6 L218.5,443.3 L219.0,443.5 L219.5,443.3 L220.0,443.2 L220.5,443.2 L221.0,443.4 L221.5,443.5 L222.0,443.5 L222.5,444.0 L223.0,444.0 L223.5,444.1 L224.0,444.4 L224.5,444.4 L225.0,444.1 L225.5,444.3 L226.0,444.1 L226.5,443.6 L227.0,443.2 L227.5,443.2 L228.0,442.7 L228.5,441.9 L229.0,441.7 L229.5,441.0 L230.0,440.3 L230.5,439.5 L231.0,438.6 L231.5,437.2 L232.0,436.0 L232.5,434.2 L233.0,431.7 L233.5,429.0 L234.0,425.4 L234.5,421.0 L235.0,415.3 L235.5,408.5 L236.0,400.4 L236.5,391.4 L237.0,380.9 L237.5,370.3 L238.0,359.4 L238.5,349.4 L239.0,342.1 L239.5,338.5 L240.0,339.2 L240.5,344.7 L241.0,353.2 L241.5,363.5 L242.0,374.6 L242.5,385.5 L243.0,395.7 L243.5,404.5 L244.0,412.4 L244.5,418.5 L245.0,423.8 L245.5,428.2 L246.0,431.8 L246.5,434.2 L247.0,436.3 L247.5,438.3 L248.0,439.5 L248.5,440.9 L249.0,441.6 L249.5,442.5 L250.0,443.5 L250.5,444.2 L251.0,444.6 L251.5,445.2 L252.0,445.5 L252.5,446.0 L253.0,446.4 L253.5,447.0 L254.0,447.3 L254.5,447.7 L255.0,447.9 L255.5,448.2 L256.0,448.3 L256.5,448.6 L257.0,448.8 L257.5,449.0 L258.0,449.4 L258.5,449.4 L259.0,449.6 L259.5,449.7 L260.0,450.1 L260.5,450.2 L261.0,450.2 L261.5,450.3 L262.0,450.6 L262.5,450.7 L263.0,450.6 L263.5,450.8 L264.0,451.0 L264.5,450.8 L265.0,450.9 L265.5,450.9 L266.0,451.1 L266.5,451.3 L267.0,451.1 L267.5,451.2 L268.0,451.5 L268.5,451.4 L269.0,451.4 L269.5,451.6 L270.0,451.6 L270.5,451.5 L271.0,451.4 L271.5,451.6 L272.0,451.7 L272.5,451.8 L273.0,451.7 L273.5,451.6 L274.0,451.7 L274.5,451.6 L275.0,451.7 L275.5,451.7 L276.0,451.9 L276.5,451.9" stroke="#2bd1f5" stroke-width="2.0"/>
<path d="M32.0,451.3 L32.5,451.2 L33.0,451.3 L33.5,451.0 L34.0,451.3 L34.5,451.2 L35.0,451.3 L35.5,451.1 L36.0,451.4 L36.5,451.0 L37.0,451.3 L37.5,451.3 L38.0,451.2 L38.5,451.4 L39.0,451.1 L39.5,451.4 L40.0,451.3 L40.5,451.2 L41.0,451.2 L41.5,451.4 L42.0,451.4 L42.5,451.2 L43.0,451.5 L43.5,451.3 L44.0,451.3 L44.5,451.4 L45.0,451.4 L45.5,451.6 L46.0,451.6 L46.5,451.5 L47.0,451.4 L47.5,451.3 L48.0,451.2 L48.5,451.4 L49.0,451.4 L49.5,451.3 L50.0,451.4 L50.5,451.1 L51.0,450.9 L51.5,450.7 L52.0,450.3 L52.5,450.2 L53.0,449.4 L53.5,448.6 L54.0,447.7 L54.5,446.6 L55.0,445.7 L55.5,445.0 L56.0,444.7 L56.5,445.1 L57.0,445.7 L57.5,446.5 L58.0,447.5 L58.5,448.5 L59.0,449.4 L59.5,450.3 L60.0,450.8 L60.5,451.0 L61.0,451.5 L61.5,451.6 L62.0,451.8 L62.5,451.9 L63.0,451.8 L63.5,451.8 L64.0,452.1 L64.5,452.2 L65.0,452.1 L65.5,452.3 L66.0,452.3 L66.5,452.1 L67.0,452.0 L67.5,452.1 L68.0,452.1 L68.5,451.9 L69.0,451.7 L69.5,451.8 L70.0,451.4 L70.5,451.4 L71.0,451.0 L71.5,450.3 L72.0,449.7 L72.5,448.7 L73.0,447.6 L73.5,446.5 L74.0,445.6 L74.5,444.6 L75.0,444.3 L75.5,444.4 L76.0,445.4 L76.5,446.4 L77.0,447.6 L77.5,448.6 L78.0,449.6 L78.5,450.2 L79.0,451.1 L79.5,451.5 L80.0,451.7 L80.5,452.0 L81.0,452.0 L81.5,452.2 L82.0,452.2 L82.5,452.5 L83.0,452.3 L83.5,452.5 L84.0,452.7 L84.5,452.7 L85.0,452.7 L85.5,452.6 L86.0,452.6 L86.5,452.8 L87.0,452.6 L87.5,452.8 L88.0,452.7 L88.5,452.9 L89.0,452.8 L89.5,452.9 L90.0,453.0 L90.5,452.7 L91.0,453.0 L91.5,452.6 L92.0,452.9 L92.5,452.6 L93.0,452.8 L93.5,452.8 L94.0,452.9 L94.5,452.7 L95.0,452.7 L95.5,452.9 L96.0,452.8 L96.5,452.9 L97.0,452.8 L97.5,452.6 L98.0,452.9 L98.5,452.7 L99.0,452.8 L99.5,452.6 L100.0,452.7 L100.5,452.9 L101.0,452.9 L101.5,452.9 L102.0,452.8 L102.5,452.9 L103.0,452.9 L103.5,452.7 L104.0,452.8 L104.5,452.8 L105.0,452.9 L105.5,452.7 L106.0,452.7 L106.5,452.7 L107.0,452.6 L107.5,452.7 L108.0,452.8 L108.5,452.8 L109.0,452.6 L109.5,452.8 L110.0,452.6 L110.5,452.8 L111.0,452.6 L111.5,452.6 L112.0,452.6 L112.5,452.7 L113.0,452.6 L113.5,452.9 L114.0,452.9 L114.5,452.6 L115.0,452.8 L115.5,452.8 L116.0,452.7 L116.5,452.6 L117.0,452.8 L117.5,452.8 L118.0,452.4 L118.5,452.6 L119.0,452.6 L119.5,452.5 L120.0,452.6 L120.5,452.8 L121.0,452.4 L121.5,452.7 L122.0,452.5 L122.5,452.4 L123.0,452.7 L123.5,452.4 L124.0,452.4 L124.5,452.3 L125.0,452.4 L125.5,452.3 L126.0,452.3 L126.5,452.3 L127.0,452.5 L127.5,452.4 L128.0,452.3 L128.5,452.4 L129.0,452.5 L129.5,452.4 L130.0,452.2 L130.5,452.4 L131.0,452.4 L131.5,452.2 L132.0,452.2 L132.5,452.1 L133.0,452.0 L133.5,452.2 L134.0,452.1 L134.5,451.8 L135.0,452.1 L135.5,452.0 L136.0,451.6 L136.5,451.8 L137.0,451.5 L137.5,451.5 L138.0,451.5 L138.5,451.2 L139.0,451.1 L139.5,451.0 L140.0,450.7 L140.5,450.6 L141.0,450.2 L141.5,450.1 L142.0,449.4 L142.5,449.0 L143.0,448.0 L143.5,447.1 L144.0,445.5 L144.5,443.5 L145.0,440.8 L145.5,437.0 L146.0,432.7 L146.5,427.1 L147.0,421.5 L147.5,416.3 L148.0,412.4 L148.5,411.7 L149.0,414.5 L149.5,419.2 L150.0,425.0 L150.5,430.3 L151.0,435.3 L151.5,439.5 L152.0,442.3 L152.5,444.9 L153.0,446.5 L153.5,447.4 L154.0,448.4 L154.5,449.1 L155.0,449.2 L155.5,449.8 L156.0,450.1 L156.5,450.3 L157.0,450.4 L157.5,450.3 L158.0,450.7 L158.5,450.5 L159.0,450.8 L159.5,450.8 L160.0,450.7 L160.5,450.9 L161.0,450.8 L161.5,450.9 L162.0,450.6 L162.5,450.9 L163.0,450.7 L163.5,450.8 L164.0,450.6 L164.5,450.6 L165.0,450.4 L165.5,450.3 L166.0,450.0 L166.5,450.1 L167.0,449.7 L167.5,449.9 L168.0,449.6 L168.5,449.2 L169.0,449.1 L169.5,448.8 L170.0,448.4 L170.5,447.5 L171.0,447.2 L171.5,446.4 L172.0,445.4 L172.5,443.8 L173.0,442.4 L173.5,439.9 L174.0,436.8 L174.5,432.9 L175.0,427.5 L175.5,421.1 L176.0,414.0 L176.5,405.4 L177.0,396.6 L177.5,388.6 L178.0,382.9 L178.5,380.3 L179.0,381.9 L179.5,387.3 L180.0,395.3 L180.5,403.8 L181.0,412.1 L181.5,419.3 L182.0,425.3 L182.5,429.8 L183.0,431.9 L183.5,433.8 L184.0,436.5 L184.5,440.5 L185.0,443.1 L185.5,445.3 L186.0,446.5 L186.5,447.3 L187.0,447.7 L187.5,448.4 L188.0,448.7 L188.5,449.1 L189.0,449.2 L189.5,449.6 L190.0,449.9 L190.5,449.9 L191.0,450.3 L191.5,450.3 L192.0,450.3 L192.5,450.4 L193.0,450.6 L193.5,450.8 L194.0,450.8 L194.5,451.0 L195.0,450.9 L195.5,451.0 L196.0,451.2 L196.5,451.0 L197.0,450.9 L197.5,451.1 L198.0,451.1 L198.5,451.0 L199.0,451.2 L199.5,451.0 L200.0,451.4 L200.5,451.2 L201.0,451.4 L201.5,451.3 L202.0,451.3 L202.5,451.3 L203.0,451.1 L203.5,451.2 L204.0,451.0 L204.5,451.1 L205.0,451.1 L205.5,451.1 L206.0,450.8 L206.5,450.8 L207.0,450.9 L207.5,450.7 L208.0,450.7 L208.5,450.1 L209.0,450.0 L209.5,449.7 L210.0,449.6 L210.5,449.2 L211.0,448.8 L211.5,448.3 L212.0,447.7 L212.5,447.1 L213.0,446.6 L213.5,445.8 L214.0,445.2 L214.5,444.6 L215.0,444.2 L215.5,444.1 L216.0,443.9 L216.5,443.8 L217.0,444.0 L217.5,444.2 L218.0,444.3 L218.5,444.4 L219.0,444.3 L219.5,444.3 L220.0,444.2 L220.5,444.1 L221.0,444.3 L221.5,444.1 L222.0,444.2 L222.5,444.6 L223.0,444.6 L223.5,444.8 L224.0,444.9 L224.5,444.8 L225.0,444.7 L225.5,444.5 L226.0,444.6 L226.5,444.4 L227.0,443.9 L227.5,443.6 L228.0,443.1 L228.5,442.6 L229.0,442.4 L229.5,441.8 L230.0,441.0 L230.5,440.2 L231.0,439.5 L231.5,438.5 L232.0,437.1 L232.5,435.5 L233.0,433.5 L233.5,431.2 L234.0,428.1 L234.5,424.1 L235.0,418.9 L235.5,413.2 L236.0,406.3 L236.5,398.1 L237.0,389.0 L237.5,379.3 L238.0,369.7 L238.5,361.4 L239.0,354.6 L239.5,351.7 L240.0,352.4 L240.5,357.0 L241.0,364.7 L241.5,373.9 L242.0,383.5 L242.5,392.9 L243.0,401.9 L243.5,409.7 L244.0,416.4 L244.5,422.4 L245.0,426.9 L245.5,430.5 L246.0,433.5 L246.5,436.0 L247.0,438.0 L247.5,439.4 L248.0,440.7 L248.5,441.9 L249.0,442.5 L249.5,443.5 L250.0,444.0 L250.5,444.9 L251.0,445.4 L251.5,445.6 L252.0,446.2 L252.5,446.4 L253.0,446.9 L253.5,447.3 L254.0,447.7 L254.5,447.9 L255.0,448.0 L255.5,448.3 L256.0,448.7 L256.5,448.8 L257.0,449.1 L257.5,449.4 L258.0,449.7 L258.5,449.7 L259.0,449.7 L259.5,450.0 L260.0,450.0 L260.5,450.4 L261.0,450.2 L261.5,450.4 L262.0,450.6 L262.5,450.9 L263.0,450.7 L263.5,450.7 L264.0,450.8 L264.5,450.9 L265.0,451.0 L265.5,451.1 L266.0,451.3 L266.5,451.2 L267.0,451.3 L267.5,451.3 L268.0,451.5 L268.5,451.6 L269.0,451.4 L269.5,451.7 L270.0,451.4 L270.5,451.8 L271.0,451.6 L271.5,451.7 L272.0,451.6 L272.5,451.6 L273.0,451.5 L273.5,451.9 L274.0,451.7 L274.5,451.8 L275.0,451.7 L275.5,451.8 L276.0,451.7 L276.5,451.7" stroke="#32c8f4" stroke-width="2.0"/>
<path d="M32.0,451.4 L32.5,451.5 L33.0,451.4 L33.5,451.2 L34.0,451.5 L34.5,451.4 L35.0,451.2 L35.5,451.3 L36.0,451.3 L36.5,451.6 L37.0,451.5 L37.5,451.4 L38.0,451.4 L38.5,451.4 L39.0,451.4 L39.5,451.4 L40.0,451.6 L40.5,451.6 L41.0,451.6 L41.5,451.7 L42.0,451.6 L42.5,451.4 L43.0,451.4 L43.5,451.5 L44.0,451.5 L44.5,451.6 L45.0,451.7 L45.5,451.7 L46.0,451.6 L46.5,451.5 L47.0,451.8 L47.5,451.7 L48.0,451.6 L48.5,451.4 L49.0,451.8 L49.5,451.4 L50.0,451.6 L50.5,451.2 L51.0,451.3 L51.5,451.0 L52.0,450.9 L52.5,450.3 L53.0,449.7 L53.5,449.1 L54.0,448.6 L54.5,447.8 L55.0,446.8 L55.5,446.2 L56.0,445.7 L56.5,445.9 L57.0,446.5 L57.5,447.7 L58.0,448.2 L58.5,449.3 L59.0,449.9 L59.5,450.4 L60.0,451.0 L60.5,451.5 L61.0,451.5 L61.5,451.6 L62.0,452.0 L62.5,452.1 L63.0,452.1 L63.5,452.0 L64.0,452.3 L64.5,452.1 L65.0,452.1 L65.5,452.1 L66.0,452.3 L66.5,452.2 L67.0,452.3 L67.5,452.3 L68.0,452.3 L68.5,452.1 L69.0,451.9 L69.5,452.1 L70.0,451.6 L70.5,451.5 L71.0,451.0 L71.5,450.8 L72.0,450.2 L72.5,449.2 L73.0,448.4 L73.5,447.6 L74.0,446.6 L74.5,445.6 L75.0,445.5 L75.5,445.8 L76.0,446.3 L76.5,447.1 L77.0,448.4 L77.5,449.2 L78.0,449.9 L78.5,450.6 L79.0,451.2 L79.5,451.4 L80.0,451.8 L80.5,452.1 L81.0,452.2 L81.5,452.3 L82.0,452.5 L82.5,452.3 L83.0,452.4 L83.5,452.7 L84.0,452.7 L84.5,452.8 L85.0,452.8 L85.5,452.7 L86.0,452.8 L86.5,452.7 L87.0,452.6 L87.5,452.6 L88.0,452.6 L88.5,452.9 L89.0,452.7 L89.5,452.7 L90.0,452.8 L90.5,452.6 L91.0,452.9 L91.5,452.9 L92.0,452.9 L92.5,452.9 L93.0,452.7 L93.5,452.7 L94.0,452.9 L94.5,452.9 L95.0,452.8 L95.5,452.7 L96.0,452.7 L96.5,452.9 L97.0,452.8 L97.5,452.9 L98.0,452.7 L98.5,452.7 L99.0,452.8 L99.5,452.9 L100.0,452.9 L100.5,452.7 L101.0,452.9 L101.5,452.8 L102.0,452.9 L102.5,452.9 L103.0,452.8 L103.5,452.7 L104.0,452.7 L104.5,452.9 L105.0,452.9 L105.5,452.7 L106.0,452.6 L106.5,452.6 L107.0,452.9 L107.5,452.6 L108.0,452.9 L108.5,452.8 L109.0,452.8 L109.5,452.8 L110.0,452.7 L110.5,452.8 L111.0,452.6 L111.5,452.9 L112.0,452.6 L112.5,452.6 L113.0,452.8 L113.5,452.8 L114.0,452.8 L114.5,452.8 L115.0,452.9 L115.5,452.5 L116.0,452.5 L116.5,452.6 L117.0,452.8 L117.5,452.5 L118.0,452.7 L118.5,452.7 L119.0,452.5 L119.5,452.6 L120.0,452.8 L120.5,452.7 L121.0,452.6 L121.5,452.6 L122.0,452.5 L122.5,452.7 L123.0,452.7 L123.5,452.6 L124.0,452.5 L124.5,452.6 L125.0,452.5 L125.5,452.6 L126.0,452.4 L126.5,452.6 L127.0,452.5 L127.5,452.4 L128.0,452.4 L128.5,452.5 L129.0,452.4 L129.5,452.5 L130.0,452.1 L130.5,452.5 L131.0,452.4 L131.5,452.3 L132.0,452.4 L132.5,452.1 L133.0,452.1 L133.5,452.2 L134.0,452.2 L134.5,452.0 L135.0,452.2 L135.5,452.0 L136.0,451.7 L136.5,451.7 L137.0,451.6 L137.5,451.7 L138.0,451.5 L138.5,451.4 L139.0,451.3 L139.5,451.0 L140.0,451.2 L140.5,451.0 L141.0,450.6 L141.5,450.3 L142.0,449.9 L142.5,449.5 L143.0,448.7 L143.5,448.1 L144.0,446.8 L144.5,444.9 L145.0,442.6 L145.5,439.1 L146.0,435.2 L146.5,430.7 L147.0,425.6 L147.5,421.2 L148.0,418.3 L148.5,417.6 L149.0,419.9 L149.5,423.7 L150.0,428.6 L150.5,433.3 L151.0,437.6 L151.5,440.9 L152.0,443.8 L152.5,445.7 L153.0,447.3 L153.5,448.2 L154.0,449.0 L154.5,449.3 L155.0,449.9 L155.5,450.2 L156.0,450.4 L156.5,450.5 L157.0,450.6 L157.5,450.6 L158.0,450.6 L158.5,450.9 L159.0,451.0 L159.5,450.9 L160.0,451.2 L160.5,451.2 L161.0,451.2 L161.5,451.2 L162.0,451.0 L162.5,450.9 L163.0,450.9 L163.5,451.0 L164.0,451.1 L164.5,450.6 L165.0,450.5 L165.5,450.6 L166.0,450.5 L166.5,450.4 L167.0,450.1 L167.5,450.2 L168.0,449.8 L168.5,449.9 L169.0,449.4 L169.5,449.1 L170.0,448.7 L170.5,448.6 L171.0,447.9 L171.5,447.3 L172.0,446.1 L172.5,445.2 L173.0,443.8 L173.5,441.9 L174.0,439.2 L174.5,435.3 L175.0,431.0 L175.5,425.8 L176.0,419.2 L176.5,412.2 L177.0,404.4 L177.5,397.4 L178.0,392.6 L178.5,390.2 L179.0,391.8 L179.5,396.4 L180.0,403.1 L180.5,410.7 L181.0,417.8 L181.5,424.1 L182.0,429.0 L182.5,432.9 L183.0,434.7 L183.5,436.4 L184.0,439.1 L184.5,441.9 L185.0,444.5 L185.5,446.2 L186.0,447.1 L186.5,448.0 L187.0,448.5 L187.5,448.7 L188.0,449.4 L188.5,449.4 L189.0,449.8 L189.5,449.9 L190.0,450.0 L190.5,450.2 L191.0,450.7 L191.5,450.7 L192.0,450.7 L192.5,450.9 L193.0,451.1 L193.5,451.1 L194.0,451.0 L194.5,451.0 L195.0,451.1 L195.5,451.4 L196.0,451.3 L196.5,451.3 L197.0,451.4 L197.5,451.3 L198.0,451.4 L198.5,451.5 L199.0,451.2 L199.5,451.5 L200.0,451.2 L200.5,451.4 L201.0,451.4 L201.5,451.2 L202.0,451.5 L202.5,451.3 L203.0,451.2 L203.5,451.3 L204.0,451.3 L204.5,451.2 L205.0,451.0 L205.5,451.0 L206.0,451.2 L206.5,450.9 L207.0,450.8 L207.5,450.9 L208.0,450.8 L208.5,450.7 L209.0,450.2 L209.5,449.9 L210.0,449.9 L210.5,449.6 L211.0,449.1 L211.5,448.5 L212.0,448.2 L212.5,447.6 L213.0,447.2 L213.5,446.8 L214.0,445.9 L214.5,445.4 L215.0,445.3 L215.5,444.8 L216.0,444.8 L216.5,444.9 L217.0,445.2 L217.5,445.1 L218.0,445.1 L218.5,445.2 L219.0,445.1 L219.5,445.1 L220.0,445.1 L220.5,444.9 L221.0,445.1 L221.5,444.9 L222.0,444.9 L222.5,445.3 L223.0,445.3 L223.5,445.6 L224.0,445.3 L224.5,445.5 L225.0,445.4 L225.5,445.2 L226.0,444.9 L226.5,444.9 L227.0,444.6 L227.5,444.2 L228.0,443.8 L228.5,443.5 L229.0,443.0 L229.5,442.5 L230.0,441.8 L230.5,441.2 L231.0,440.5 L231.5,439.7 L232.0,438.7 L232.5,437.1 L233.0,435.3 L233.5,433.1 L234.0,430.5 L234.5,427.2 L235.0,422.7 L235.5,417.8 L236.0,411.9 L236.5,404.7 L237.0,397.1 L237.5,388.7 L238.0,380.6 L238.5,373.2 L239.0,367.4 L239.5,364.7 L240.0,365.6 L240.5,369.2 L241.0,375.8 L241.5,383.8 L242.0,392.4 L242.5,400.6 L243.0,408.3 L243.5,415.0 L244.0,420.6 L244.5,425.5 L245.0,429.5 L245.5,433.0 L246.0,435.4 L246.5,437.7 L247.0,439.4 L247.5,440.6 L248.0,441.9 L248.5,442.7 L249.0,443.7 L249.5,444.1 L250.0,444.8 L250.5,445.3 L251.0,445.7 L251.5,446.4 L252.0,446.4 L252.5,446.9 L253.0,447.3 L253.5,447.8 L254.0,448.0 L254.5,448.1 L255.0,448.4 L255.5,448.8 L256.0,449.1 L256.5,449.0 L257.0,449.5 L257.5,449.5 L258.0,449.7 L258.5,449.9 L259.0,450.0 L259.5,450.4 L260.0,450.5 L260.5,450.6 L261.0,450.6 L261.5,450.7 L262.0,450.6 L262.5,450.6 L263.0,451.0 L263.5,451.1 L264.0,451.1 L264.5,451.0 L265.0,451.1 L265.5,451.4 L266.0,451.3 L266.5,451.2 L267.0,451.3 L267.5,451.4 L268.0,451.3 L268.5,451.7 L269.0,451.7 L269.5,451.7 L270.0,451.4 L270.5,451.6 L271.0,451.5 L271.5,451.8 L272.0,451.8 L272.5,451.8 L273.0,451.8 L273.5,451.6 L274.0,451.6 L274.5,451.6 L275.0,451.9 L275.5,451.9 L276.0,451.8 L276.5,451.7" stroke="#3abff3" stroke-width="2.0"/>
<path d="M32.0,451.8 L32.5,451.5 L33.0,451.6 L33.5,451.5 L34.0,451.9 L34.5,451.6 L35.0,451.8 L35.5,451.8 L36.0,451.7 L36.5,451.9 L37.0,451.8 L37.5,451.9 L38.0,451.9 L38.5,451.5 L39.0,451.8 L39.5,451.6 L40.0,451.7 L40.5,451.7 L41.0,452.0 L41.5,451.6 L42.0,451.8 L42.5,451.6 L43.0,452.0 L43.5,451.8 L44.0,451.9 L44.5,451.8 L45.0,451.9 L45.5,451.8 L46.0,451.8 L46.5,451.9 L47.0,451.9 L47.5,452.0 L48.0,451.8 L48.5,452.0 L49.0,451.9 L49.5,451.8 L50.0,451.7 L50.5,451.7 L51.0,451.4 L51.5,451.2 L52.0,451.0 L52.5,450.6 L53.0,450.2 L53.5,449.9 L54.0,449.3 L54.5,448.5 L55.0,447.6 L55.5,447.3 L56.0,447.1 L56.5,447.2 L57.0,447.5 L57.5,448.4 L58.0,449.1 L58.5,449.7 L59.0,450.3 L59.5,451.1 L60.0,451.4 L60.5,451.8 L61.0,451.7 L61.5,451.9 L62.0,452.1 L62.5,452.0 L63.0,452.1 L63.5,452.3 L64.0,452.3 L64.5,452.5 L65.0,452.4 L65.5,452.4 L66.0,452.4 L66.5,452.5 L67.0,452.3 L67.5,452.1 L68.0,452.5 L68.5,452.4 L69.0,452.0 L69.5,451.9 L70.0,451.8 L70.5,451.8 L71.0,451.3 L71.5,450.9 L72.0,450.6 L72.5,449.7 L73.0,449.1 L73.5,448.3 L74.0,447.4 L74.5,446.7 L75.0,446.5 L75.5,446.7 L76.0,447.3 L76.5,448.1 L77.0,449.0 L77.5,449.7 L78.0,450.3 L78.5,451.2 L79.0,451.6 L79.5,451.8 L80.0,451.8 L80.5,452.1 L81.0,452.5 L81.5,452.4 L82.0,452.3 L82.5,452.6 L83.0,452.7 L83.5,452.4 L84.0,452.6 L84.5,452.7 L85.0,452.5 L85.5,452.6 L86.0,452.8 L86.5,452.8 L87.0,452.8 L87.5,452.8 L88.0,452.7 L88.5,452.6 L89.0,452.6 L89.5,452.9 L90.0,452.9 L90.5,452.9 L91.0,452.6 L91.5,452.9 L92.0,452.7 L92.5,452.7 L93.0,452.7 L93.5,452.9 L94.0,452.9 L94.5,452.9 L95.0,452.7 L95.5,453.0 L96.0,452.7 L96.5,452.8 L97.0,452.9 L97.5,452.7 L98.0,452.7 L98.5,452.6 L99.0,452.9 L99.5,452.7 L100.0,452.6 L100.5,452.7 L101.0,452.8 L101.5,452.8 L102.0,452.8 L102.5,452.9 L103.0,452.9 L103.5,452.7 L104.0,452.8 L104.5,452.6 L105.0,452.7 L105.5,452.6 L106.0,452.6 L106.5,452.7 L107.0,452.9 L107.5,452.8 L108.0,452.6 L108.5,452.6 L109.0,452.8 L109.5,452.7 L110.0,452.5 L110.5,452.6 L111.0,452.7 L111.5,452.8 L112.0,452.5 L112.5,452.8 L113.0,452.6 L113.5,452.7 L114.0,452.7 L114.5,452.6 L115.0,452.9 L115.5,452.6 L116.0,452.6 L116.5,452.7 L117.0,452.8 L117.5,452.8 L118.0,452.8 L118.5,452.7 L119.0,452.7 L119.5,452.7 L120.0,452.8 L120.5,452.8 L121.0,452.7 L121.5,452.5 L122.0,452.6 L122.5,452.6 L123.0,452.5 L123.5,452.7 L124.0,452.4 L124.5,452.6 L125.0,452.5 L125.5,452.5 L126.0,452.6 L126.5,452.6 L127.0,452.7 L127.5,452.7 L128.0,452.6 L128.5,452.3 L129.0,452.5 L129.5,452.4 L130.0,452.6 L130.5,452.3 L131.0,452.3 L131.5,452.1 L132.0,452.3 L132.5,452.3 L133.0,452.2 L133.5,452.0 L134.0,452.2 L134.5,452.0 L135.0,452.0 L135.5,452.0 L136.0,451.9 L136.5,451.9 L137.0,451.9 L137.5,451.8 L138.0,451.6 L138.5,451.4 L139.0,451.6 L139.5,451.6 L140.0,451.2 L140.5,451.0 L141.0,450.8 L141.5,450.8 L142.0,450.4 L142.5,450.1 L143.0,449.2 L143.5,448.5 L144.0,447.5 L144.5,446.0 L145.0,444.0 L145.5,441.4 L146.0,438.3 L146.5,434.2 L147.0,430.1 L147.5,426.4 L148.0,423.7 L148.5,423.2 L149.0,425.1 L149.5,428.4 L150.0,432.4 L150.5,436.7 L151.0,440.1 L151.5,443.0 L152.0,445.0 L152.5,447.0 L153.0,448.0 L153.5,449.0 L154.0,449.4 L154.5,450.1 L155.0,450.2 L155.5,450.4 L156.0,450.8 L156.5,450.7 L157.0,450.8 L157.5,451.0 L158.0,451.3 L158.5,451.0 L159.0,451.1 L159.5,451.3 L160.0,451.1 L160.5,451.2 L161.0,451.4 L161.5,451.3 L162.0,451.4 L162.5,451.1 L163.0,451.4 L163.5,451.1 L164.0,451.2 L164.5,451.1 L165.0,451.2 L165.5,450.9 L166.0,450.7 L166.5,450.6 L167.0,450.6 L167.5,450.3 L168.0,450.2 L168.5,450.3 L169.0,450.0 L169.5,449.8 L170.0,449.2 L170.5,449.0 L171.0,448.6 L171.5,447.9 L172.0,447.2 L172.5,446.5 L173.0,445.2 L173.5,443.4 L174.0,441.2 L174.5,438.4 L175.0,434.7 L175.5,430.0 L176.0,424.4 L176.5,418.7 L177.0,412.1 L177.5,406.3 L178.0,401.9 L178.5,400.3 L179.0,401.6 L179.5,405.4 L180.0,411.0 L180.5,417.1 L181.0,423.3 L181.5,428.6 L182.0,432.8 L182.5,436.1 L183.0,437.9 L183.5,439.2 L184.0,441.3 L184.5,443.5 L185.0,445.7 L185.5,447.2 L186.0,448.0 L186.5,448.8 L187.0,449.3 L187.5,449.3 L188.0,449.7 L188.5,450.2 L189.0,450.3 L189.5,450.3 L190.0,450.4 L190.5,450.6 L191.0,450.8 L191.5,451.0 L192.0,450.8 L192.5,451.0 L193.0,451.3 L193.5,451.0 L194.0,451.3 L194.5,451.1 L195.0,451.4 L195.5,451.3 L196.0,451.6 L196.5,451.3 L197.0,451.6 L197.5,451.4 L198.0,451.3 L198.5,451.3 L199.0,451.3 L199.5,451.5 L200.0,451.7 L200.5,451.5 L201.0,451.6 L201.5,451.3 L202.0,451.5 L202.5,451.5 L203.0,451.3 L203.5,451.5 L204.0,451.4 L204.5,451.3 L205.0,451.5 L205.5,451.4 L206.0,451.1 L206.5,451.0 L207.0,450.9 L207.5,450.9 L208.0,451.0 L208.5,451.0 L209.0,450.8 L209.5,450.6 L210.0,450.0 L210.5,450.0 L211.0,449.7 L211.5,449.2 L212.0,449.0 L212.5,448.4 L213.0,447.7 L213.5,447.3 L214.0,446.8 L214.5,446.5 L215.0,446.2 L215.5,446.1 L216.0,445.7 L216.5,445.7 L217.0,446.2 L217.5,446.0 L218.0,446.0 L218.5,446.3 L219.0,445.9 L219.5,446.1 L220.0,446.0 L220.5,445.8 L221.0,445.8 L221.5,445.6 L222.0,445.9 L222.5,446.0 L223.0,446.1 L223.5,446.0 L224.0,445.9 L224.5,445.9 L225.0,446.0 L225.5,445.6 L226.0,445.4 L226.5,445.3 L227.0,445.2 L227.5,444.8 L228.0,444.4 L228.5,444.3 L229.0,443.7 L229.5,443.2 L230.0,442.8 L230.5,442.3 L231.0,441.5 L231.5,440.7 L232.0,439.8 L232.5,438.8 L233.0,437.2 L233.5,435.2 L234.0,433.1 L234.5,430.1 L235.0,426.6 L235.5,422.4 L236.0,417.1 L236.5,411.4 L237.0,404.8 L237.5,398.0 L238.0,391.2 L238.5,384.9 L239.0,380.3 L239.5,377.8 L240.0,378.4 L240.5,381.8 L241.0,387.3 L241.5,393.9 L242.0,401.2 L242.5,408.0 L243.0,414.4 L243.5,420.0 L244.0,425.2 L244.5,429.4 L245.0,432.8 L245.5,435.3 L246.0,437.4 L246.5,439.4 L247.0,440.6 L247.5,442.1 L248.0,443.0 L248.5,443.6 L249.0,444.3 L249.5,445.0 L250.0,445.3 L250.5,445.9 L251.0,446.5 L251.5,446.8 L252.0,447.2 L252.5,447.3 L253.0,447.7 L253.5,448.0 L254.0,448.2 L254.5,448.7 L255.0,448.9 L255.5,449.2 L256.0,449.3 L256.5,449.6 L257.0,449.6 L257.5,449.8 L258.0,449.9 L258.5,450.1 L259.0,450.4 L259.5,450.4 L260.0,450.3 L260.5,450.5 L261.0,450.6 L261.5,450.8 L262.0,450.9 L262.5,450.9 L263.0,451.2 L263.5,451.2 L264.0,451.0 L264.5,451.0 L265.0,451.4 L265.5,451.4 L266.0,451.4 L266.5,451.4 L267.0,451.3 L267.5,451.5 L268.0,451.7 L268.5,451.6 L269.0,451.4 L269.5,451.5 L270.0,451.8 L270.5,451.7 L271.0,451.6 L271.5,451.8 L272.0,451.9 L272.5,451.9 L273.0,451.8 L273.5,451.9 L274.0,451.6 L274.5,451.8 L275.0,451.9 L275.5,451.8 L276.0,451.7 L276.5,452.0" stroke="#42b5f2" stroke-width="2.0"/>
<path d="M32.0,452.0 L32.5,451.7 L33.0,451.8 L33.5,451.9 L34.0,452.1 L34.5,452.0 L35.0,452.1 L35.5,451.8 L36.0,452.0 L36.5,451.8 L37.0,451.9 L37.5,451.8 L38.0,451.9 L38.5,451.8 L39.0,452.0 L39.5,452.0 L40.0,452.1 L40.5,452.1 L41.0,451.8 L41.5,452.1 L42.0,452.0 L42.5,452.2 L43.0,452.0 L43.5,451.9 L44.0,452.1 L44.5,451.9 L45.0,452.2 L45.5,452.1 L46.0,452.2 L46.5,452.1 L47.0,452.0 L47.5,452.1 L48.0,452.1 L48.5,452.0 L49.0,451.9 L49.5,452.0 L50.0,452.0 L50.5,451.8 L51.0,451.7 L51.5,451.7 L52.0,451.5 L52.5,451.0 L53.0,450.8 L53.5,450.6 L54.0,449.8 L54.5,449.4 L55.0,448.7 L55.5,448.1 L56.0,448.1 L56.5,448.4 L57.0,448.8 L57.5,449.1 L58.0,449.9 L58.5,450.5 L59.0,450.9 L59.5,451.4 L60.0,451.6 L60.5,451.7 L61.0,452.1 L61.5,452.0 L62.0,452.1 L62.5,452.4 L63.0,452.4 L63.5,452.4 L64.0,452.5 L64.5,452.4 L65.0,452.4 L65.5,452.5 L66.0,452.3 L66.5,452.4 L67.0,452.3 L67.5,452.6 L68.0,452.6 L68.5,452.4 L69.0,452.2 L69.5,452.4 L70.0,452.0 L70.5,452.1 L71.0,451.8 L71.5,451.5 L72.0,451.1 L72.5,450.4 L73.0,450.0 L73.5,449.2 L74.0,448.6 L74.5,448.2 L75.0,447.7 L75.5,447.9 L76.0,448.4 L76.5,448.9 L77.0,449.9 L77.5,450.5 L78.0,450.9 L78.5,451.4 L79.0,451.9 L79.5,451.8 L80.0,452.1 L80.5,452.4 L81.0,452.4 L81.5,452.5 L82.0,452.4 L82.5,452.5 L83.0,452.7 L83.5,452.6 L84.0,452.8 L84.5,452.8 L85.0,452.9 L85.5,452.6 L86.0,452.7 L86.5,452.6 L87.0,452.7 L87.5,452.6 L88.0,452.8 L88.5,452.9 L89.0,452.9 L89.5,452.7 L90.0,452.7 L90.5,452.9 L91.0,452.6 L91.5,452.9 L92.0,452.9 L92.5,452.6 L93.0,453.0 L93.5,452.8 L94.0,452.7 L94.5,452.8 L95.0,452.8 L95.5,452.8 L96.0,452.9 L96.5,452.9 L97.0,452.7 L97.5,452.6 L98.0,452.9 L98.5,452.8 L99.0,452.8 L99.5,452.6 L100.0,452.6 L100.5,452.9 L101.0,452.7 L101.5,452.8 L102.0,453.0 L102.5,452.6 L103.0,452.8 L103.5,452.6 L104.0,452.8 L104.5,452.8 L105.0,452.6 L105.5,452.9 L106.0,452.9 L106.5,452.9 L107.0,452.9 L107.5,452.9 L108.0,452.8 L108.5,452.7 L109.0,452.9 L109.5,452.8 L110.0,452.8 L110.5,452.8 L111.0,452.6 L111.5,452.6 L112.0,452.6 L112.5,452.8 L113.0,452.8 L113.5,452.6 L114.0,452.9 L114.5,452.5 L115.0,452.5 L115.5,452.6 L116.0,452.5 L116.5,452.8 L117.0,452.6 L117.5,452.6 L118.0,452.8 L118.5,452.7 L119.0,452.7 L119.5,452.6 L120.0,452.6 L120.5,452.8 L121.0,452.5 L121.5,452.6 L122.0,452.6 L122.5,452.4 L123.0,452.4 L123.5,452.6 L124.0,452.7 L124.5,452.5 L125.0,452.4 L125.5,452.7 L126.0,452.4 L126.5,452.7 L127.0,452.3 L127.5,452.6 L128.0,452.3 L128.5,452.4 L129.0,452.4 L129.5,452.5 L130.0,452.4 L130.5,452.4 L131.0,452.4 L131.5,452.4 L132.0,452.3 L132.5,452.5 L133.0,452.2 L133.5,452.1 L134.0,452.3 L134.5,452.2 L135.0,452.3 L135.5,452.0 L136.0,452.2 L136.5,452.0 L137.0,452.2 L137.5,451.9 L138.0,451.9 L138.5,451.7 L139.0,451.7 L139.5,451.5 L140.0,451.6 L140.5,451.4 L141.0,451.3 L141.5,450.9 L142.0,450.8 L142.5,450.5 L143.0,450.1 L143.5,449.5 L144.0,448.5 L144.5,447.2 L145.0,445.6 L145.5,443.4 L146.0,440.8 L146.5,437.6 L147.0,434.5 L147.5,431.2 L148.0,429.4 L148.5,428.7 L149.0,430.2 L149.5,432.9 L150.0,436.2 L150.5,439.7 L151.0,442.5 L151.5,444.7 L152.0,446.7 L152.5,448.0 L153.0,448.9 L153.5,449.6 L154.0,450.1 L154.5,450.4 L155.0,450.5 L155.5,450.8 L156.0,451.2 L156.5,451.1 L157.0,451.3 L157.5,451.1 L158.0,451.5 L158.5,451.6 L159.0,451.4 L159.5,451.4 L160.0,451.5 L160.5,451.4 L161.0,451.4 L161.5,451.4 L162.0,451.6 L162.5,451.5 L163.0,451.6 L163.5,451.6 L164.0,451.5 L164.5,451.5 L165.0,451.4 L165.5,451.0 L166.0,451.0 L166.5,451.3 L167.0,451.1 L167.5,450.9 L168.0,450.8 L168.5,450.6 L169.0,450.4 L169.5,450.1 L170.0,450.0 L170.5,449.6 L171.0,449.2 L171.5,449.0 L172.0,448.3 L172.5,447.7 L173.0,446.4 L173.5,445.2 L174.0,443.2 L174.5,441.1 L175.0,437.8 L175.5,434.3 L176.0,429.9 L176.5,425.0 L177.0,419.8 L177.5,415.3 L178.0,411.8 L178.5,410.4 L179.0,411.2 L179.5,414.4 L180.0,418.9 L180.5,424.1 L181.0,428.8 L181.5,433.2 L182.0,436.4 L182.5,438.9 L183.0,440.6 L183.5,441.6 L184.0,443.1 L184.5,445.4 L185.0,447.2 L185.5,448.1 L186.0,448.9 L186.5,449.3 L187.0,449.7 L187.5,449.8 L188.0,450.4 L188.5,450.5 L189.0,450.5 L189.5,450.7 L190.0,450.8 L190.5,451.2 L191.0,451.2 L191.5,451.1 L192.0,451.3 L192.5,451.3 L193.0,451.2 L193.5,451.2 L194.0,451.5 L194.5,451.4 L195.0,451.5 L195.5,451.4 L196.0,451.4 L196.5,451.5 L197.0,451.7 L197.5,451.7 L198.0,451.8 L198.5,451.7 L199.0,451.7 L199.5,451.5 L200.0,451.9 L200.5,451.7 L201.0,451.8 L201.5,451.5 L202.0,451.8 L202.5,451.6 L203.0,451.5 L203.5,451.6 L204.0,451.4 L204.5,451.6 L205.0,451.4 L205.5,451.6 L206.0,451.3 L206.5,451.4 L207.0,451.4 L207.5,451.3 L208.0,451.3 L208.5,450.9 L209.0,451.0 L209.5,450.7 L210.0,450.7 L210.5,450.4 L211.0,450.1 L211.5,449.7 L212.0,449.3 L212.5,449.1 L213.0,448.8 L213.5,448.4 L214.0,447.7 L214.5,447.6 L215.0,447.2 L215.5,447.1 L216.0,447.0 L216.5,446.9 L217.0,446.9 L217.5,447.1 L218.0,447.1 L218.5,447.0 L219.0,447.1 L219.5,446.6 L220.0,446.5 L220.5,446.6 L221.0,446.4 L221.5,446.7 L222.0,446.4 L222.5,446.8 L223.0,446.5 L223.5,446.5 L224.0,446.7 L224.5,446.6 L225.0,446.4 L225.5,446.3 L226.0,446.1 L226.5,446.1 L227.0,445.7 L227.5,445.4 L228.0,445.1 L228.5,444.8 L229.0,444.5 L229.5,443.9 L230.0,443.7 L230.5,443.3 L231.0,442.7 L231.5,441.9 L232.0,441.1 L232.5,440.0 L233.0,438.8 L233.5,437.5 L234.0,435.8 L234.5,433.4 L235.0,430.3 L235.5,427.0 L236.0,422.9 L236.5,418.1 L237.0,413.0 L237.5,407.1 L238.0,401.6 L238.5,396.7 L239.0,393.0 L239.5,391.0 L240.0,391.5 L240.5,394.4 L241.0,398.7 L241.5,404.1 L242.0,409.8 L242.5,415.5 L243.0,420.8 L243.5,425.3 L244.0,429.4 L244.5,432.7 L245.0,435.3 L245.5,437.9 L246.0,439.5 L246.5,441.0 L247.0,442.4 L247.5,443.0 L248.0,443.8 L248.5,444.5 L249.0,445.1 L249.5,445.9 L250.0,446.2 L250.5,446.4 L251.0,446.9 L251.5,447.3 L252.0,447.5 L252.5,447.9 L253.0,448.4 L253.5,448.4 L254.0,448.6 L254.5,449.0 L255.0,449.0 L255.5,449.4 L256.0,449.6 L256.5,449.5 L257.0,449.9 L257.5,449.9 L258.0,450.3 L258.5,450.3 L259.0,450.6 L259.5,450.6 L260.0,450.5 L260.5,450.6 L261.0,450.9 L261.5,451.1 L262.0,450.8 L262.5,451.1 L263.0,451.1 L263.5,451.2 L264.0,451.4 L264.5,451.4 L265.0,451.5 L265.5,451.5 L266.0,451.4 L266.5,451.6 L267.0,451.5 L267.5,451.6 L268.0,451.6 L268.5,451.7 L269.0,451.5 L269.5,451.8 L270.0,451.6 L270.5,451.7 L271.0,451.9 L271.5,452.0 L272.0,451.7 L272.5,452.0 L273.0,451.6 L273.5,452.0 L274.0,451.7 L274.5,451.7 L275.0,452.0 L275.5,451.7 L276.0,452.0 L276.5,451.7" stroke="#4aabf1" stroke-width="2.0"/>
<path d="M32.0,452.0 L32.5,452.1 L33.0,452.0 L33.5,452.2 L34.0,452.1 L34.5,452.3 L35.0,452.2 L35.5,452.4 L36.0,452.3 L36.5,452.1 L37.0,452.4 L37.5,452.3 L38.0,452.2 L38.5,452.2 L39.0,452.1 L39.5,452.1 L40.0,452.1 L40.5,452.1 L41.0,452.3 L41.5,452.2 L42.0,452.3 L42.5,452.3 L43.0,452.4 L43.5,452.1 L44.0,452.4 L44.5,452.3 L45.0,452.3 L45.5,452.2 L46.0,452.3 L46.5,452.2 L47.0,452.4 L47.5,452.3 L48.0,452.1 L48.5,452.2 L49.0,452.3 L49.5,452.0 L50.0,452.2 L50.5,452.2 L51.0,452.1 L51.5,451.9 L52.0,451.8 L52.5,451.6 L53.0,451.4 L53.5,450.8 L54.0,450.6 L54.5,450.1 L55.0,449.8 L55.5,449.3 L56.0,449.1 L56.5,449.3 L57.0,449.8 L57.5,450.1 L58.0,450.7 L58.5,451.1 L59.0,451.3 L59.5,451.7 L60.0,451.7 L60.5,452.3 L61.0,452.3 L61.5,452.2 L62.0,452.4 L62.5,452.4 L63.0,452.5 L63.5,452.4 L64.0,452.7 L64.5,452.6 L65.0,452.4 L65.5,452.7 L66.0,452.7 L66.5,452.5 L67.0,452.6 L67.5,452.7 L68.0,452.7 L68.5,452.3 L69.0,452.6 L69.5,452.3 L70.0,452.4 L70.5,452.2 L71.0,452.0 L71.5,451.9 L72.0,451.6 L72.5,451.2 L73.0,450.8 L73.5,450.1 L74.0,449.7 L74.5,449.2 L75.0,449.0 L75.5,449.1 L76.0,449.5 L76.5,449.8 L77.0,450.4 L77.5,451.1 L78.0,451.5 L78.5,451.8 L79.0,452.1 L79.5,452.2 L80.0,452.4 L80.5,452.5 L81.0,452.3 L81.5,452.5 L82.0,452.8 L82.5,452.5 L83.0,452.6 L83.5,452.5 L84.0,452.6 L84.5,452.8 L85.0,452.5 L85.5,452.8 L86.0,452.9 L86.5,452.9 L87.0,452.7 L87.5,452.9 L88.0,452.7 L88.5,452.7 L89.0,452.9 L89.5,452.8 L90.0,452.8 L90.5,452.6 L91.0,452.6 L91.5,452.7 L92.0,452.6 L92.5,452.9 L93.0,452.7 L93.5,453.0 L94.0,452.8 L94.5,452.7 L95.0,452.9 L95.5,452.7 L96.0,452.8 L96.5,452.6 L97.0,452.9 L97.5,452.9 L98.0,452.8 L98.5,452.8 L99.0,452.7 L99.5,452.6 L100.0,452.7 L100.5,452.9 L101.0,452.8 L101.5,452.6 L102.0,452.7 L102.5,452.7 L103.0,452.6 L103.5,452.6 L104.0,452.7 L104.5,452.6 L105.0,452.9 L105.5,452.6 L106.0,452.8 L106.5,452.9 L107.0,452.7 L107.5,452.7 L108.0,452.9 L108.5,452.8 L109.0,452.7 L109.5,452.9 L110.0,452.6 L110.5,452.9 L111.0,452.6 L111.5,452.7 L112.0,452.6 L112.5,452.8 L113.0,452.8 L113.5,452.8 L114.0,452.6 L114.5,452.9 L115.0,452.8 L115.5,452.7 L116.0,452.8 L116.5,452.5 L117.0,452.7 L117.5,452.8 L118.0,452.8 L118.5,452.7 L119.0,452.5 L119.5,452.6 L120.0,452.5 L120.5,452.7 L121.0,452.6 L121.5,452.6 L122.0,452.6 L122.5,452.6 L123.0,452.8 L123.5,452.5 L124.0,452.5 L124.5,452.4 L125.0,452.4 L125.5,452.7 L126.0,452.7 L126.5,452.4 L127.0,452.5 L127.5,452.7 L128.0,452.7 L128.5,452.7 L129.0,452.7 L129.5,452.4 L130.0,452.3 L130.5,452.4 L131.0,452.4 L131.5,452.2 L132.0,452.3 L132.5,452.4 L133.0,452.4 L133.5,452.2 L134.0,452.2 L134.5,452.2 L135.0,452.1 L135.5,452.1 L136.0,452.1 L136.5,452.3 L137.0,452.3 L137.5,451.9 L138.0,452.2 L138.5,452.1 L139.0,452.0 L139.5,451.8 L140.0,451.9 L140.5,451.5 L141.0,451.4 L141.5,451.6 L142.0,451.1 L142.5,451.1 L143.0,450.7 L143.5,450.0 L144.0,449.3 L144.5,448.6 L145.0,447.2 L145.5,445.8 L146.0,443.7 L146.5,441.2 L147.0,438.7 L147.5,436.2 L148.0,434.9 L148.5,434.5 L149.0,435.6 L149.5,437.7 L150.0,440.1 L150.5,442.9 L151.0,445.0 L151.5,446.6 L152.0,448.1 L152.5,449.0 L153.0,449.9 L153.5,450.3 L154.0,450.6 L154.5,450.9 L155.0,451.0 L155.5,451.1 L156.0,451.4 L156.5,451.6 L157.0,451.6 L157.5,451.5 L158.0,451.6 L158.5,451.7 L159.0,451.7 L159.5,451.7 L160.0,451.7 L160.5,451.8 L161.0,451.9 L161.5,451.7 L162.0,451.8 L162.5,451.8 L163.0,451.5 L163.5,451.6 L164.0,451.6 L164.5,451.5 L165.0,451.6 L165.5,451.4 L166.0,451.7 L166.5,451.5 L167.0,451.3 L167.5,451.3 L168.0,451.3 L168.5,450.9 L169.0,450.9 L169.5,450.9 L170.0,450.5 L170.5,450.5 L171.0,450.2 L171.5,449.7 L172.0,449.1 L172.5,448.8 L173.0,447.9 L173.5,446.8 L174.0,445.5 L174.5,443.8 L175.0,441.6 L175.5,438.8 L176.0,435.4 L176.5,431.4 L177.0,427.7 L177.5,423.9 L178.0,421.3 L178.5,420.3 L179.0,421.0 L179.5,423.5 L180.0,426.8 L180.5,430.8 L181.0,434.4 L181.5,437.6 L182.0,440.5 L182.5,442.2 L183.0,443.2 L183.5,444.3 L184.0,445.5 L184.5,447.2 L185.0,448.2 L185.5,449.1 L186.0,449.8 L186.5,449.9 L187.0,450.5 L187.5,450.6 L188.0,450.8 L188.5,450.7 L189.0,450.9 L189.5,451.1 L190.0,451.4 L190.5,451.2 L191.0,451.4 L191.5,451.3 L192.0,451.7 L192.5,451.6 L193.0,451.7 L193.5,451.7 L194.0,451.5 L194.5,451.6 L195.0,451.5 L195.5,451.8 L196.0,451.6 L196.5,451.7 L197.0,451.7 L197.5,452.0 L198.0,451.9 L198.5,451.7 L199.0,452.0 L199.5,451.7 L200.0,451.7 L200.5,451.8 L201.0,451.9 L201.5,451.6 L202.0,451.9 L202.5,451.8 L203.0,451.9 L203.5,451.7 L204.0,451.5 L204.5,451.5 L205.0,451.8 L205.5,451.6 L206.0,451.7 L206.5,451.4 L207.0,451.4 L207.5,451.3 L208.0,451.5 L208.5,451.3 L209.0,451.0 L209.5,451.1 L210.0,450.7 L210.5,450.6 L211.0,450.3 L211.5,450.3 L212.0,450.0 L212.5,449.7 L213.0,449.2 L213.5,448.8 L214.0,448.7 L214.5,448.5 L215.0,448.0 L215.5,448.1 L216.0,448.1 L216.5,447.8 L217.0,447.9 L217.5,448.0 L218.0,448.1 L218.5,447.9 L219.0,447.8 L219.5,447.8 L220.0,447.6 L220.5,447.3 L221.0,447.4 L221.5,447.3 L222.0,447.2 L222.5,447.3 L223.0,447.2 L223.5,447.2 L224.0,447.3 L224.5,447.3 L225.0,447.0 L225.5,447.0 L226.0,446.5 L226.5,446.5 L227.0,446.3 L227.5,446.1 L228.0,445.7 L228.5,445.3 L229.0,445.3 L229.5,444.9 L230.0,444.5 L230.5,444.0 L231.0,443.5 L231.5,443.1 L232.0,442.4 L232.5,441.9 L233.0,440.8 L233.5,439.7 L234.0,438.2 L234.5,436.5 L235.0,434.0 L235.5,431.7 L236.0,428.4 L236.5,424.8 L237.0,420.7 L237.5,416.4 L238.0,412.4 L238.5,408.6 L239.0,405.7 L239.5,404.1 L240.0,404.6 L240.5,406.8 L241.0,410.2 L241.5,414.4 L242.0,418.5 L242.5,423.1 L243.0,426.8 L243.5,430.6 L244.0,433.6 L244.5,436.0 L245.0,438.3 L245.5,440.2 L246.0,441.7 L246.5,442.5 L247.0,443.6 L247.5,444.5 L248.0,444.9 L248.5,445.7 L249.0,446.2 L249.5,446.4 L250.0,446.8 L250.5,447.1 L251.0,447.4 L251.5,447.8 L252.0,448.2 L252.5,448.6 L253.0,448.7 L253.5,449.0 L254.0,449.0 L254.5,449.3 L255.0,449.3 L255.5,449.6 L256.0,449.6 L256.5,449.8 L257.0,450.2 L257.5,450.1 L258.0,450.3 L258.5,450.5 L259.0,450.6 L259.5,450.5 L260.0,450.7 L260.5,451.0 L261.0,451.0 L261.5,450.9 L262.0,451.1 L262.5,451.2 L263.0,451.5 L263.5,451.2 L264.0,451.3 L264.5,451.3 L265.0,451.5 L265.5,451.7 L266.0,451.7 L266.5,451.4 L267.0,451.6 L267.5,451.6 L268.0,451.9 L268.5,451.8 L269.0,451.8 L269.5,451.7 L270.0,451.8 L270.5,451.8 L271.0,451.8 L271.5,451.8 L272.0,451.7 L272.5,451.8 L273.0,452.1 L273.5,451.8 L274.0,451.9 L274.5,452.0 L275.0,452.0 L275.5,452.0 L276.0,451.9 L276.5,452.0" stroke="#53a0f0" stroke-width="2.0"/>
<path d="M32.0,452.3 L32.5,452.5 L33.0,452.2 L33.5,452.3 L34.0,452.3 L34.5,452.4 L35.0,452.5 L35.5,452.2 L36.0,452.6 L36.5,452.3 L37.0,452.6 L37.5,452.6 L38.0,452.5 L38.5,452.6 L39.0,452.6 L39.5,452.4 L40.0,452.6 L40.5,452.3 L41.0,452.6 L41.5,452.5 L42.0,452.6 L42.5,452.3 L43.0,452.3 L43.5,452.5 L44.0,452.5 L44.5,452.5 L45.0,452.3 L45.5,452.5 L46.0,452.7 L46.5,452.4 L47.0,452.6 L47.5,452.7 L48.0,452.5 L48.5,452.4 L49.0,452.4 L49.5,452.4 L50.0,452.3 L50.5,452.2 L51.0,452.2 L51.5,452.1 L52.0,452.3 L52.5,452.0 L53.0,452.0 L53.5,451.6 L54.0,451.5 L54.5,451.2 L55.0,450.8 L55.5,450.5 L56.0,450.3 L56.5,450.5 L57.0,450.6 L57.5,451.1 L58.0,451.1 L58.5,451.6 L59.0,451.8 L59.5,452.0 L60.0,452.2 L60.5,452.5 L61.0,452.6 L61.5,452.4 L62.0,452.7 L62.5,452.8 L63.0,452.6 L63.5,452.6 L64.0,452.5 L64.5,452.8 L65.0,452.6 L65.5,452.8 L66.0,452.8 L66.5,452.7 L67.0,452.7 L67.5,452.7 L68.0,452.5 L68.5,452.6 L69.0,452.4 L69.5,452.4 L70.0,452.7 L70.5,452.3 L71.0,452.1 L71.5,452.1 L72.0,451.7 L72.5,451.6 L73.0,451.2 L73.5,450.8 L74.0,450.6 L74.5,450.5 L75.0,450.0 L75.5,450.4 L76.0,450.6 L76.5,450.9 L77.0,451.2 L77.5,451.4 L78.0,451.8 L78.5,452.1 L79.0,452.2 L79.5,452.6 L80.0,452.4 L80.5,452.7 L81.0,452.7 L81.5,452.7 L82.0,452.7 L82.5,452.7 L83.0,452.8 L83.5,452.6 L84.0,452.6 L84.5,452.5 L85.0,452.7 L85.5,452.7 L86.0,452.9 L86.5,452.9 L87.0,452.7 L87.5,452.8 L88.0,452.6 L88.5,452.9 L89.0,452.8 L89.5,452.6 L90.0,452.9 L90.5,452.6 L91.0,452.6 L91.5,452.8 L92.0,453.0 L92.5,452.6 L93.0,452.7 L93.5,452.9 L94.0,452.7 L94.5,452.9 L95.0,452.6 L95.5,452.7 L96.0,452.7 L96.5,452.9 L97.0,452.6 L97.5,452.8 L98.0,452.9 L98.5,452.9 L99.0,452.9 L99.5,452.6 L100.0,452.7 L100.5,452.6 L101.0,452.6 L101.5,452.6 L102.0,452.8 L102.5,452.8 L103.0,452.6 L103.5,452.7 L104.0,452.6 L104.5,452.9 L105.0,452.8 L105.5,452.7 L106.0,452.9 L106.5,452.9 L107.0,452.6 L107.5,452.6 L108.0,452.6 L108.5,452.8 L109.0,452.7 L109.5,452.7 L110.0,452.8 L110.5,452.7 L111.0,452.6 L111.5,452.8 L112.0,452.9 L112.5,452.5 L113.0,452.7 L113.5,452.5 L114.0,452.8 L114.5,452.6 L115.0,452.8 L115.5,452.7 L116.0,452.8 L116.5,452.7 L117.0,452.7 L117.5,452.8 L118.0,452.8 L118.5,452.6 L119.0,452.5 L119.5,452.8 L120.0,452.5 L120.5,452.8 L121.0,452.8 L121.5,452.7 L122.0,452.8 L122.5,452.7 L123.0,452.7 L123.5,452.6 L124.0,452.5 L124.5,452.4 L125.0,452.7 L125.5,452.6 L126.0,452.4 L126.5,452.6 L127.0,452.5 L127.5,452.5 L128.0,452.7 L128.5,452.6 L129.0,452.6 L129.5,452.6 L130.0,452.5 L130.5,452.5 L131.0,452.5 L131.5,452.4 L132.0,452.6 L132.5,452.6 L133.0,452.4 L133.5,452.5 L134.0,452.3 L134.5,452.2 L135.0,452.5 L135.5,452.5 L136.0,452.3 L136.5,452.5 L137.0,452.4 L137.5,452.2 L138.0,452.3 L138.5,452.3 L139.0,452.0 L139.5,452.2 L140.0,452.0 L140.5,451.9 L141.0,451.8 L141.5,451.8 L142.0,451.6 L142.5,451.4 L143.0,451.0 L143.5,451.0 L144.0,450.5 L144.5,449.9 L145.0,448.9 L145.5,448.0 L146.0,446.3 L146.5,444.7 L147.0,442.9 L147.5,441.4 L148.0,440.3 L148.5,440.0 L149.0,440.9 L149.5,442.1 L150.0,443.9 L150.5,446.0 L151.0,447.4 L151.5,448.3 L152.0,449.5 L152.5,450.1 L153.0,450.6 L153.5,451.1 L154.0,451.3 L154.5,451.6 L155.0,451.6 L155.5,451.8 L156.0,451.6 L156.5,451.9 L157.0,451.8 L157.5,452.0 L158.0,452.0 L158.5,452.1 L159.0,452.0 L159.5,451.9 L160.0,452.0 L160.5,452.1 L161.0,451.8 L161.5,452.0 L162.0,452.0 L162.5,452.0 L163.0,451.9 L163.5,452.0 L164.0,452.0 L164.5,451.8 L165.0,451.9 L165.5,452.0 L166.0,451.7 L166.5,451.7 L167.0,451.7 L167.5,451.8 L168.0,451.5 L168.5,451.4 L169.0,451.3 L169.5,451.3 L170.0,451.0 L170.5,451.2 L171.0,450.8 L171.5,450.7 L172.0,450.2 L172.5,449.7 L173.0,449.3 L173.5,448.6 L174.0,447.5 L174.5,446.6 L175.0,444.9 L175.5,442.9 L176.0,440.4 L176.5,438.0 L177.0,435.4 L177.5,433.0 L178.0,431.0 L178.5,430.4 L179.0,430.8 L179.5,432.6 L180.0,435.0 L180.5,437.5 L181.0,440.2 L181.5,442.4 L182.0,444.0 L182.5,445.5 L183.0,446.2 L183.5,446.8 L184.0,447.8 L184.5,448.6 L185.0,449.7 L185.5,450.1 L186.0,450.6 L186.5,450.6 L187.0,451.1 L187.5,451.1 L188.0,451.2 L188.5,451.4 L189.0,451.4 L189.5,451.4 L190.0,451.7 L190.5,451.7 L191.0,451.5 L191.5,451.6 L192.0,451.9 L192.5,451.7 L193.0,451.7 L193.5,451.9 L194.0,451.8 L194.5,452.1 L195.0,452.1 L195.5,451.8 L196.0,451.8 L196.5,451.8 L197.0,451.9 L197.5,451.9 L198.0,452.0 L198.5,452.1 L199.0,451.8 L199.5,451.8 L200.0,451.8 L200.5,451.9 L201.0,451.8 L201.5,451.9 L202.0,451.9 L202.5,452.0 L203.0,452.1 L203.5,452.1 L204.0,451.9 L204.5,451.9 L205.0,451.7 L205.5,451.9 L206.0,451.9 L206.5,451.9 L207.0,451.5 L207.5,451.5 L208.0,451.7 L208.5,451.6 L209.0,451.5 L209.5,451.1 L210.0,451.2 L210.5,450.9 L211.0,451.0 L211.5,450.8 L212.0,450.4 L212.5,450.1 L213.0,450.1 L213.5,450.0 L214.0,449.6 L214.5,449.3 L215.0,449.1 L215.5,449.1 L216.0,449.1 L216.5,448.8 L217.0,448.7 L217.5,449.0 L218.0,448.7 L218.5,448.7 L219.0,448.6 L219.5,448.6 L220.0,448.6 L220.5,448.3 L221.0,448.3 L221.5,448.1 L222.0,448.0 L222.5,448.1 L223.0,448.1 L223.5,448.0 L224.0,447.9 L224.5,447.8 L225.0,447.7 L225.5,447.6 L226.0,447.2 L226.5,447.0 L227.0,446.6 L227.5,446.6 L228.0,446.3 L228.5,445.9 L229.0,446.1 L229.5,445.5 L230.0,445.5 L230.5,444.8 L231.0,444.6 L231.5,444.4 L232.0,443.9 L232.5,443.3 L233.0,442.6 L233.5,441.6 L234.0,440.9 L234.5,439.6 L235.0,437.9 L235.5,436.1 L236.0,434.1 L236.5,431.5 L237.0,428.7 L237.5,425.8 L238.0,423.0 L238.5,420.4 L239.0,418.3 L239.5,417.5 L240.0,417.6 L240.5,419.2 L241.0,421.4 L241.5,424.5 L242.0,427.6 L242.5,430.6 L243.0,433.2 L243.5,435.7 L244.0,437.8 L244.5,439.7 L245.0,441.0 L245.5,442.5 L246.0,443.7 L246.5,444.2 L247.0,445.2 L247.5,445.6 L248.0,446.3 L248.5,446.6 L249.0,447.0 L249.5,447.4 L250.0,447.5 L250.5,447.7 L251.0,448.3 L251.5,448.5 L252.0,448.7 L252.5,448.7 L253.0,449.1 L253.5,449.3 L254.0,449.4 L254.5,449.6 L255.0,449.8 L255.5,450.1 L256.0,450.1 L256.5,450.4 L257.0,450.5 L257.5,450.4 L258.0,450.7 L258.5,450.7 L259.0,450.8 L259.5,450.9 L260.0,451.1 L260.5,451.0 L261.0,451.2 L261.5,451.2 L262.0,451.4 L262.5,451.3 L263.0,451.5 L263.5,451.7 L264.0,451.4 L264.5,451.3 L265.0,451.7 L265.5,451.6 L266.0,451.7 L266.5,451.8 L267.0,451.9 L267.5,451.7 L268.0,452.0 L268.5,451.7 L269.0,451.9 L269.5,452.0 L270.0,451.8 L270.5,451.8 L271.0,451.8 L271.5,451.8 L272.0,451.9 L272.5,452.0 L273.0,451.7 L273.5,452.1 L274.0,452.0 L274.5,451.9 L275.0,452.0 L275.5,451.9 L276.0,452.0 L276.5,452.1" stroke="#5d94ef" stroke-width="2.0"/>
<path d="M32.0,452.6 L32.5,452.7 L33.0,452.6 L33.5,452.6 L34.0,452.8 L34.5,452.7 L35.0,452.7 L35.5,452.7 L36.0,452.6 L36.5,452.5 L37.0,452.6 L37.5,452.7 L38.0,452.6 L38.5,452.7 L39.0,452.6 L39.5,452.6 L40.0,452.8 L40.5,452.6 L41.0,452.8 L41.5,452.8 L42.0,452.6 L42.5,452.5 L43.0,452.8 L43.5,452.7 L44.0,452.7 L44.5,452.8 L45.0,452.7 L45.5,452.9 L46.0,452.5 L46.5,452.9 L47.0,452.7 L47.5,452.6 L48.0,452.8 L48.5,452.8 L49.0,452.7 L49.5,452.5 L50.0,452.7 L50.5,452.6 L51.0,452.6 L51.5,452.7 L52.0,452.4 L52.5,452.6 L53.0,452.3 L53.5,452.1 L54.0,451.9 L54.5,451.7 L55.0,451.6 L55.5,451.6 L56.0,451.7 L56.5,451.4 L57.0,451.6 L57.5,451.8 L58.0,452.1 L58.5,452.1 L59.0,452.4 L59.5,452.3 L60.0,452.3 L60.5,452.6 L61.0,452.7 L61.5,452.5 L62.0,452.5 L62.5,452.8 L63.0,452.5 L63.5,452.9 L64.0,452.8 L64.5,452.6 L65.0,452.7 L65.5,452.6 L66.0,452.6 L66.5,452.7 L67.0,452.9 L67.5,452.9 L68.0,452.8 L68.5,452.8 L69.0,452.7 L69.5,452.7 L70.0,452.7 L70.5,452.6 L71.0,452.5 L71.5,452.6 L72.0,452.2 L72.5,452.1 L73.0,452.1 L73.5,452.0 L74.0,451.5 L74.5,451.4 L75.0,451.4 L75.5,451.3 L76.0,451.5 L76.5,451.9 L77.0,451.8 L77.5,452.1 L78.0,452.2 L78.5,452.4 L79.0,452.6 L79.5,452.4 L80.0,452.6 L80.5,452.5 L81.0,452.7 L81.5,452.8 L82.0,452.6 L82.5,452.6 L83.0,452.7 L83.5,452.7 L84.0,452.9 L84.5,452.9 L85.0,452.9 L85.5,452.7 L86.0,452.7 L86.5,452.6 L87.0,452.8 L87.5,452.9 L88.0,452.6 L88.5,452.7 L89.0,452.6 L89.5,452.9 L90.0,452.7 L90.5,452.8 L91.0,452.6 L91.5,452.8 L92.0,452.8 L92.5,452.9 L93.0,452.9 L93.5,452.9 L94.0,452.7 L94.5,452.7 L95.0,452.8 L95.5,452.6 L96.0,452.9 L96.5,452.8 L97.0,452.7 L97.5,452.7 L98.0,452.6 L98.5,452.8 L99.0,452.9 L99.5,452.6 L100.0,452.6 L100.5,452.8 L101.0,452.7 L101.5,452.9 L102.0,452.7 L102.5,452.9 L103.0,452.9 L103.5,452.7 L104.0,452.7 L104.5,452.8 L105.0,452.7 L105.5,452.8 L106.0,452.8 L106.5,452.8 L107.0,452.6 L107.5,452.7 L108.0,452.7 L108.5,452.7 L109.0,452.5 L109.5,452.8 L110.0,452.7 L110.5,452.6 L111.0,452.8 L111.5,452.7 L112.0,452.8 L112.5,452.8 L113.0,452.7 L113.5,452.8 L114.0,452.5 L114.5,452.6 L115.0,452.5 L115.5,452.7 L116.0,452.6 L116.5,452.5 L117.0,452.5 L117.5,452.5 L118.0,452.7 L118.5,452.6 L119.0,452.6 L119.5,452.4 L120.0,452.7 L120.5,452.5 L121.0,452.5 L121.5,452.5 L122.0,452.5 L122.5,452.6 L123.0,452.5 L123.5,452.6 L124.0,452.5 L124.5,452.7 L125.0,452.8 L125.5,452.5 L126.0,452.4 L126.5,452.8 L127.0,452.4 L127.5,452.6 L128.0,452.7 L128.5,452.6 L129.0,452.7 L129.5,452.4 L130.0,452.6 L130.5,452.7 L131.0,452.7 L131.5,452.7 L132.0,452.5 L132.5,452.5 L133.0,452.7 L133.5,452.5 L134.0,452.4 L134.5,452.3 L135.0,452.4 L135.5,452.3 L136.0,452.6 L136.5,452.4 L137.0,452.4 L137.5,452.6 L138.0,452.5 L138.5,452.3 L139.0,452.2 L139.5,452.2 L140.0,452.2 L140.5,452.4 L141.0,452.2 L141.5,452.3 L142.0,452.0 L142.5,451.8 L143.0,452.0 L143.5,451.5 L144.0,451.5 L144.5,451.1 L145.0,450.5 L145.5,450.1 L146.0,449.2 L146.5,448.5 L147.0,447.4 L147.5,446.6 L148.0,446.0 L148.5,445.7 L149.0,446.2 L149.5,447.1 L150.0,448.0 L150.5,448.6 L151.0,449.7 L151.5,450.4 L152.0,450.7 L152.5,451.1 L153.0,451.3 L153.5,451.7 L154.0,451.7 L154.5,452.1 L155.0,452.0 L155.5,452.2 L156.0,452.2 L156.5,452.1 L157.0,452.0 L157.5,452.1 L158.0,452.2 L158.5,452.3 L159.0,452.3 L159.5,452.1 L160.0,452.0 L160.5,452.3 L161.0,452.3 L161.5,452.3 L162.0,452.3 L162.5,452.3 L163.0,452.2 L163.5,452.3 L164.0,452.0 L164.5,452.3 L165.0,452.2 L165.5,451.9 L166.0,452.0 L166.5,452.1 L167.0,452.0 L167.5,452.2 L168.0,451.9 L168.5,451.9 L169.0,451.9 L169.5,452.0 L170.0,451.7 L170.5,451.8 L171.0,451.6 L171.5,451.5 L172.0,451.4 L172.5,451.2 L173.0,450.8 L173.5,450.4 L174.0,449.6 L174.5,449.0 L175.0,448.4 L175.5,447.1 L176.0,446.1 L176.5,444.5 L177.0,443.1 L177.5,441.9 L178.0,440.9 L178.5,440.5 L179.0,440.7 L179.5,441.6 L180.0,443.1 L180.5,444.5 L181.0,445.7 L181.5,446.7 L182.0,448.1 L182.5,448.4 L183.0,448.9 L183.5,449.4 L184.0,449.7 L184.5,450.5 L185.0,450.9 L185.5,451.0 L186.0,451.5 L186.5,451.7 L187.0,451.7 L187.5,451.9 L188.0,451.9 L188.5,451.8 L189.0,452.0 L189.5,452.1 L190.0,452.0 L190.5,451.8 L191.0,451.9 L191.5,452.1 L192.0,452.0 L192.5,451.9 L193.0,452.1 L193.5,451.9 L194.0,452.1 L194.5,451.9 L195.0,452.2 L195.5,452.0 L196.0,452.3 L196.5,452.0 L197.0,452.2 L197.5,452.2 L198.0,452.0 L198.5,452.2 L199.0,452.1 L199.5,452.2 L200.0,452.0 L200.5,452.1 L201.0,452.2 L201.5,452.1 L202.0,452.0 L202.5,452.0 L203.0,452.2 L203.5,451.9 L204.0,452.0 L204.5,452.0 L205.0,452.0 L205.5,451.8 L206.0,451.8 L206.5,452.1 L207.0,451.9 L207.5,451.8 L208.0,451.8 L208.5,451.6 L209.0,451.5 L209.5,451.7 L210.0,451.6 L210.5,451.3 L211.0,451.2 L211.5,451.0 L212.0,451.0 L212.5,450.9 L213.0,450.8 L213.5,450.6 L214.0,450.6 L214.5,450.5 L215.0,450.2 L215.5,449.8 L216.0,449.8 L216.5,449.9 L217.0,449.7 L217.5,449.9 L218.0,449.5 L218.5,449.4 L219.0,449.7 L219.5,449.3 L220.0,449.3 L220.5,449.2 L221.0,448.8 L221.5,448.8 L222.0,448.7 L222.5,448.8 L223.0,448.7 L223.5,448.6 L224.0,448.2 L224.5,448.2 L225.0,448.2 L225.5,447.8 L226.0,447.7 L226.5,447.6 L227.0,447.6 L227.5,447.0 L228.0,447.1 L228.5,446.8 L229.0,446.6 L229.5,446.5 L230.0,446.0 L230.5,446.0 L231.0,445.6 L231.5,445.5 L232.0,445.2 L232.5,444.7 L233.0,444.2 L233.5,444.0 L234.0,443.4 L234.5,442.6 L235.0,441.8 L235.5,440.9 L236.0,439.4 L236.5,438.2 L237.0,436.8 L237.5,435.0 L238.0,433.7 L238.5,432.0 L239.0,431.2 L239.5,430.6 L240.0,430.9 L240.5,431.7 L241.0,433.0 L241.5,434.5 L242.0,436.2 L242.5,438.0 L243.0,439.6 L243.5,440.9 L244.0,442.3 L244.5,443.1 L245.0,444.1 L245.5,444.7 L246.0,445.3 L246.5,445.9 L247.0,446.3 L247.5,446.9 L248.0,447.2 L248.5,447.5 L249.0,447.9 L249.5,448.0 L250.0,448.3 L250.5,448.3 L251.0,448.6 L251.5,448.7 L252.0,449.0 L252.5,449.4 L253.0,449.3 L253.5,449.7 L254.0,449.8 L254.5,450.0 L255.0,450.2 L255.5,450.4 L256.0,450.5 L256.5,450.7 L257.0,450.6 L257.5,450.9 L258.0,450.9 L258.5,450.8 L259.0,450.9 L259.5,451.1 L260.0,451.3 L260.5,451.1 L261.0,451.5 L261.5,451.4 L262.0,451.5 L262.5,451.4 L263.0,451.5 L263.5,451.5 L264.0,451.7 L264.5,451.6 L265.0,451.8 L265.5,451.9 L266.0,451.6 L266.5,451.6 L267.0,452.0 L267.5,451.7 L268.0,452.0 L268.5,451.8 L269.0,451.8 L269.5,451.7 L270.0,451.9 L270.5,451.9 L271.0,451.7 L271.5,451.7 L272.0,451.8 L272.5,452.1 L273.0,452.0 L273.5,451.9 L274.0,451.9 L274.5,451.9 L275.0,452.0 L275.5,451.9 L276.0,451.9 L276.5,452.0" stroke="#6a84ee" stroke-width="2.0"/>
<path d="M32.0,452.7 L32.5,452.7 L33.0,452.9 L33.5,452.8 L34.0,452.6 L34.5,452.7 L35.0,452.8 L35.5,452.6 L36.0,452.7 L36.5,452.8 L37.0,452.7 L37.5,452.6 L38.0,452.9 L38.5,452.6 L39.0,452.9 L39.5,452.6 L40.0,452.8 L40.5,452.8 L41.0,452.7 L41.5,452.8 L42.0,452.9 L42.5,452.7 L43.0,452.6 L43.5,452.6 L44.0,452.9 L44.5,452.8 L45.0,452.9 L45.5,452.7 L46.0,452.7 L46.5,452.8 L47.0,452.8 L47.5,452.9 L48.0,452.6 L48.5,452.7 L49.0,452.8 L49.5,452.9 L50.0,452.7 L50.5,452.8 L51.0,452.5 L51.5,452.7 L52.0,452.5 L52.5,452.6 L53.0,452.4 L53.5,452.2 L54.0,452.2 L54.5,452.2 L55.0,452.1 L55.5,452.1 L56.0,451.8 L56.5,451.7 L57.0,452.1 L57.5,452.0 L58.0,452.3 L58.5,452.3 L59.0,452.4 L59.5,452.3 L60.0,452.5 L60.5,452.8 L61.0,452.7 L61.5,452.9 L62.0,452.9 L62.5,452.8 L63.0,452.9 L63.5,452.6 L64.0,452.7 L64.5,452.8 L65.0,452.6 L65.5,452.9 L66.0,452.6 L66.5,452.8 L67.0,452.7 L67.5,452.7 L68.0,452.7 L68.5,452.7 L69.0,452.6 L69.5,452.8 L70.0,452.7 L70.5,452.5 L71.0,452.8 L71.5,452.4 L72.0,452.3 L72.5,452.2 L73.0,452.1 L73.5,452.0 L74.0,452.0 L74.5,451.6 L75.0,451.7 L75.5,451.8 L76.0,451.8 L76.5,451.9 L77.0,452.1 L77.5,452.4 L78.0,452.5 L78.5,452.5 L79.0,452.4 L79.5,452.6 L80.0,452.8 L80.5,452.7 L81.0,452.7 L81.5,452.8 L82.0,452.6 L82.5,452.8 L83.0,452.8 L83.5,452.6 L84.0,452.7 L84.5,452.9 L85.0,452.7 L85.5,452.8 L86.0,452.7 L86.5,452.8 L87.0,452.7 L87.5,452.7 L88.0,452.9 L88.5,452.8 L89.0,453.0 L89.5,452.7 L90.0,452.8 L90.5,452.7 L91.0,452.9 L91.5,452.7 L92.0,452.8 L92.5,452.6 L93.0,452.8 L93.5,452.7 L94.0,452.9 L94.5,452.7 L95.0,452.9 L95.5,452.8 L96.0,452.7 L96.5,452.8 L97.0,452.9 L97.5,452.8 L98.0,452.9 L98.5,452.8 L99.0,452.8 L99.5,452.6 L100.0,452.9 L100.5,452.8 L101.0,452.8 L101.5,452.7 L102.0,452.8 L102.5,452.7 L103.0,452.7 L103.5,452.9 L104.0,452.8 L104.5,452.8 L105.0,452.9 L105.5,452.8 L106.0,452.7 L106.5,452.9 L107.0,452.9 L107.5,452.8 L108.0,452.7 L108.5,452.7 L109.0,452.5 L109.5,452.9 L110.0,452.8 L110.5,452.7 L111.0,452.7 L111.5,452.8 L112.0,452.5 L112.5,452.6 L113.0,452.6 L113.5,452.7 L114.0,452.6 L114.5,452.7 L115.0,452.8 L115.5,452.6 L116.0,452.5 L116.5,452.5 L117.0,452.8 L117.5,452.6 L118.0,452.6 L118.5,452.5 L119.0,452.5 L119.5,452.4 L120.0,452.8 L120.5,452.5 L121.0,452.6 L121.5,452.6 L122.0,452.7 L122.5,452.5 L123.0,452.7 L123.5,452.7 L124.0,452.8 L124.5,452.5 L125.0,452.5 L125.5,452.4 L126.0,452.5 L126.5,452.5 L127.0,452.4 L127.5,452.7 L128.0,452.5 L128.5,452.7 L129.0,452.7 L129.5,452.7 L130.0,452.4 L130.5,452.6 L131.0,452.7 L131.5,452.6 L132.0,452.6 L132.5,452.5 L133.0,452.7 L133.5,452.5 L134.0,452.5 L134.5,452.5 L135.0,452.5 L135.5,452.4 L136.0,452.5 L136.5,452.6 L137.0,452.5 L137.5,452.2 L138.0,452.4 L138.5,452.5 L139.0,452.2 L139.5,452.4 L140.0,452.4 L140.5,452.3 L141.0,452.2 L141.5,452.0 L142.0,452.2 L142.5,452.0 L143.0,452.0 L143.5,451.9 L144.0,451.8 L144.5,451.2 L145.0,451.2 L145.5,450.7 L146.0,450.1 L146.5,449.1 L147.0,448.6 L147.5,447.8 L148.0,447.4 L148.5,447.4 L149.0,447.6 L149.5,448.4 L150.0,448.9 L150.5,449.7 L151.0,450.4 L151.5,450.7 L152.0,451.4 L152.5,451.4 L153.0,451.9 L153.5,451.7 L154.0,451.8 L154.5,452.1 L155.0,452.0 L155.5,452.1 L156.0,452.1 L156.5,452.3 L157.0,452.3 L157.5,452.3 L158.0,452.1 L158.5,452.1 L159.0,452.3 L159.5,452.1 L160.0,452.4 L160.5,452.3 L161.0,452.4 L161.5,452.4 L162.0,452.3 L162.5,452.4 L163.0,452.3 L163.5,452.2 L164.0,452.1 L164.5,452.3 L165.0,452.3 L165.5,452.2 L166.0,452.2 L166.5,452.1 L167.0,452.3 L167.5,452.1 L168.0,451.9 L168.5,452.2 L169.0,452.1 L169.5,452.1 L170.0,452.1 L170.5,451.8 L171.0,451.6 L171.5,451.6 L172.0,451.5 L172.5,451.3 L173.0,451.2 L173.5,450.7 L174.0,450.6 L174.5,449.8 L175.0,449.1 L175.5,448.5 L176.0,447.3 L176.5,446.5 L177.0,445.1 L177.5,444.2 L178.0,443.4 L178.5,443.0 L179.0,443.4 L179.5,444.2 L180.0,445.2 L180.5,446.0 L181.0,447.0 L181.5,448.1 L182.0,449.0 L182.5,449.5 L183.0,450.0 L183.5,450.2 L184.0,450.4 L184.5,450.7 L185.0,451.2 L185.5,451.3 L186.0,451.6 L186.5,451.8 L187.0,451.7 L187.5,451.7 L188.0,451.9 L188.5,452.1 L189.0,452.0 L189.5,451.9 L190.0,452.0 L190.5,452.0 L191.0,452.2 L191.5,452.1 L192.0,452.1 L192.5,452.3 L193.0,452.1 L193.5,452.1 L194.0,452.3 L194.5,452.1 L195.0,452.2 L195.5,452.2 L196.0,452.1 L196.5,452.2 L197.0,452.1 L197.5,452.3 L198.0,452.2 L198.5,452.3 L199.0,452.2 L199.5,452.2 L200.0,452.1 L200.5,452.0 L201.0,452.1 L201.5,452.1 L202.0,451.9 L202.5,452.2 L203.0,452.1 L203.5,452.1 L204.0,452.2 L204.5,451.9 L205.0,451.9 L205.5,452.1 L206.0,451.8 L206.5,452.1 L207.0,451.9 L207.5,452.1 L208.0,452.0 L208.5,451.8 L209.0,451.7 L209.5,451.7 L210.0,451.7 L210.5,451.5 L211.0,451.5 L211.5,451.5 L212.0,451.3 L212.5,451.1 L213.0,451.0 L213.5,450.8 L214.0,450.7 L214.5,450.5 L215.0,450.6 L215.5,450.5 L216.0,450.2 L216.5,450.2 L217.0,449.9 L217.5,450.0 L218.0,450.1 L218.5,449.7 L219.0,449.8 L219.5,449.5 L220.0,449.5 L220.5,449.2 L221.0,449.3 L221.5,449.2 L222.0,448.8 L222.5,449.0 L223.0,448.8 L223.5,448.5 L224.0,448.4 L224.5,448.4 L225.0,448.3 L225.5,447.9 L226.0,447.7 L226.5,447.6 L227.0,447.6 L227.5,447.3 L228.0,447.3 L228.5,447.1 L229.0,446.7 L229.5,446.6 L230.0,446.3 L230.5,446.2 L231.0,446.0 L231.5,445.6 L232.0,445.5 L232.5,445.0 L233.0,445.0 L233.5,444.5 L234.0,444.2 L234.5,443.5 L235.0,442.6 L235.5,442.0 L236.0,441.1 L236.5,439.9 L237.0,438.9 L237.5,437.7 L238.0,436.4 L238.5,435.2 L239.0,434.7 L239.5,434.3 L240.0,434.2 L240.5,435.1 L241.0,436.2 L241.5,437.2 L242.0,438.5 L242.5,439.8 L243.0,441.2 L243.5,442.2 L244.0,443.2 L244.5,444.2 L245.0,444.7 L245.5,445.5 L246.0,446.0 L246.5,446.5 L247.0,446.7 L247.5,447.2 L248.0,447.4 L248.5,447.6 L249.0,448.1 L249.5,448.2 L250.0,448.4 L250.5,448.8 L251.0,448.8 L251.5,449.1 L252.0,449.1 L252.5,449.4 L253.0,449.7 L253.5,449.9 L254.0,450.0 L254.5,450.2 L255.0,450.1 L255.5,450.1 L256.0,450.3 L256.5,450.6 L257.0,450.7 L257.5,450.7 L258.0,451.0 L258.5,450.8 L259.0,451.1 L259.5,451.1 L260.0,451.1 L260.5,451.4 L261.0,451.2 L261.5,451.5 L262.0,451.6 L262.5,451.5 L263.0,451.5 L263.5,451.5 L264.0,451.5 L264.5,451.8 L265.0,451.7 L265.5,451.8 L266.0,451.7 L266.5,451.7 L267.0,451.7 L267.5,451.9 L268.0,451.8 L268.5,451.7 L269.0,452.0 L269.5,451.8 L270.0,451.8 L270.5,451.8 L271.0,452.0 L271.5,452.1 L272.0,451.8 L272.5,452.1 L273.0,452.0 L273.5,452.1 L274.0,451.9 L274.5,451.9 L275.0,451.8 L275.5,451.9 L276.0,452.1 L276.5,451.9" stroke="#7575ed" stroke-width="2.0"/>
<path d="M32.0,453.0 L32.5,452.9 L33.0,453.0 L33.5,452.7 L34.0,452.8 L34.5,452.9 L35.0,452.7 L35.5,452.7 L36.0,452.6 L36.5,452.8 L37.0,452.8 L37.5,452.7 L38.0,452.7 L38.5,452.9 L39.0,452.7 L39.5,452.9 L40.0,452.9 L40.5,452.8 L41.0,452.6 L41.5,452.8 L42.0,452.7 L42.5,452.6 L43.0,452.9 L43.5,452.8 L44.0,452.7 L44.5,452.7 L45.0,452.9 L45.5,453.0 L46.0,452.7 L46.5,452.8 L47.0,452.7 L47.5,452.8 L48.0,452.8 L48.5,452.7 L49.0,452.8 L49.5,452.8 L50.0,452.6 L50.5,452.6 L51.0,452.7 L51.5,452.6 L52.0,452.7 L52.5,452.7 L53.0,452.6 L53.5,452.6 L54.0,452.4 L54.5,452.4 L55.0,452.0 L55.5,452.3 L56.0,452.3 L56.5,452.1 L57.0,452.3 L57.5,452.3 L58.0,452.3 L58.5,452.3 L59.0,452.5 L59.5,452.7 L60.0,452.8 L60.5,452.9 L61.0,452.7 L61.5,452.9 L62.0,452.7 L62.5,452.6 L63.0,452.8 L63.5,452.8 L64.0,452.9 L64.5,452.7 L65.0,452.6 L65.5,452.9 L66.0,452.7 L66.5,452.9 L67.0,452.8 L67.5,452.6 L68.0,452.8 L68.5,452.9 L69.0,452.6 L69.5,452.9 L70.0,452.5 L70.5,452.6 L71.0,452.7 L71.5,452.7 L72.0,452.6 L72.5,452.6 L73.0,452.2 L73.5,452.0 L74.0,452.1 L74.5,451.9 L75.0,451.9 L75.5,451.9 L76.0,452.2 L76.5,452.1 L77.0,452.4 L77.5,452.4 L78.0,452.4 L78.5,452.7 L79.0,452.5 L79.5,452.6 L80.0,452.6 L80.5,452.8 L81.0,452.8 L81.5,452.7 L82.0,452.6 L82.5,452.8 L83.0,452.7 L83.5,452.8 L84.0,452.8 L84.5,452.6 L85.0,452.6 L85.5,452.9 L86.0,452.9 L86.5,452.6 L87.0,452.7 L87.5,452.7 L88.0,452.9 L88.5,452.7 L89.0,453.0 L89.5,452.6 L90.0,452.9 L90.5,452.6 L91.0,452.8 L91.5,453.0 L92.0,452.9 L92.5,452.9 L93.0,452.7 L93.5,452.9 L94.0,452.9 L94.5,452.7 L95.0,452.9 L95.5,452.9 L96.0,452.6 L96.5,452.7 L97.0,452.9 L97.5,452.8 L98.0,452.9 L98.5,452.7 L99.0,452.7 L99.5,452.6 L100.0,452.6 L100.5,452.9 L101.0,452.6 L101.5,452.9 L102.0,452.8 L102.5,452.8 L103.0,452.6 L103.5,452.5 L104.0,452.6 L104.5,452.8 L105.0,452.9 L105.5,452.9 L106.0,452.6 L106.5,452.9 L107.0,452.7 L107.5,452.7 L108.0,452.9 L108.5,452.8 L109.0,452.8 L109.5,452.6 L110.0,452.5 L110.5,452.6 L111.0,452.6 L111.5,452.6 L112.0,452.7 L112.5,452.6 L113.0,452.6 L113.5,452.8 L114.0,452.6 L114.5,452.5 L115.0,452.5 L115.5,452.7 L116.0,452.5 L116.5,452.7 L117.0,452.5 L117.5,452.6 L118.0,452.7 L118.5,452.7 L119.0,452.5 L119.5,452.8 L120.0,452.8 L120.5,452.8 L121.0,452.8 L121.5,452.8 L122.0,452.6 L122.5,452.6 L123.0,452.6 L123.5,452.7 L124.0,452.5 L124.5,452.5 L125.0,452.6 L125.5,452.6 L126.0,452.8 L126.5,452.5 L127.0,452.4 L127.5,452.6 L128.0,452.7 L128.5,452.4 L129.0,452.6 L129.5,452.6 L130.0,452.7 L130.5,452.5 L131.0,452.6 L131.5,452.7 L132.0,452.7 L132.5,452.6 L133.0,452.5 L133.5,452.6 L134.0,452.6 L134.5,452.6 L135.0,452.6 L135.5,452.5 L136.0,452.6 L136.5,452.4 L137.0,452.4 L137.5,452.3 L138.0,452.5 L138.5,452.3 L139.0,452.3 L139.5,452.3 L140.0,452.3 L140.5,452.3 L141.0,452.5 L141.5,452.3 L142.0,452.3 L142.5,452.2 L143.0,452.1 L143.5,452.1 L144.0,451.9 L144.5,451.7 L145.0,451.3 L145.5,450.9 L146.0,450.4 L146.5,449.8 L147.0,449.3 L147.5,448.7 L148.0,448.5 L148.5,448.5 L149.0,448.6 L149.5,449.3 L150.0,449.7 L150.5,450.4 L151.0,450.8 L151.5,451.3 L152.0,451.6 L152.5,451.6 L153.0,451.9 L153.5,451.9 L154.0,452.2 L154.5,452.1 L155.0,452.1 L155.5,452.0 L156.0,452.4 L156.5,452.1 L157.0,452.2 L157.5,452.5 L158.0,452.1 L158.5,452.3 L159.0,452.3 L159.5,452.4 L160.0,452.4 L160.5,452.5 L161.0,452.2 L161.5,452.1 L162.0,452.2 L162.5,452.1 L163.0,452.2 L163.5,452.3 L164.0,452.4 L164.5,452.1 L165.0,452.2 L165.5,452.4 L166.0,452.3 L166.5,452.2 L167.0,452.0 L167.5,452.0 L168.0,452.0 L168.5,452.2 L169.0,451.9 L169.5,452.1 L170.0,452.2 L170.5,451.8 L171.0,451.8 L171.5,451.8 L172.0,451.8 L172.5,451.7 L173.0,451.5 L173.5,451.2 L174.0,450.8 L174.5,450.5 L175.0,449.9 L175.5,449.5 L176.0,448.6 L176.5,447.8 L177.0,446.9 L177.5,446.0 L178.0,445.4 L178.5,445.3 L179.0,445.4 L179.5,446.1 L180.0,446.6 L180.5,447.5 L181.0,448.6 L181.5,449.2 L182.0,449.7 L182.5,450.0 L183.0,450.2 L183.5,450.5 L184.0,450.8 L184.5,451.2 L185.0,451.4 L185.5,451.7 L186.0,451.8 L186.5,451.7 L187.0,452.0 L187.5,452.1 L188.0,451.9 L188.5,451.9 L189.0,451.9 L189.5,452.1 L190.0,452.2 L190.5,452.1 L191.0,452.2 L191.5,452.2 L192.0,452.0 L192.5,452.0 L193.0,452.2 L193.5,452.4 L194.0,452.3 L194.5,452.2 L195.0,452.1 L195.5,452.1 L196.0,452.3 L196.5,452.3 L197.0,452.2 L197.5,452.0 L198.0,452.1 L198.5,452.3 L199.0,452.3 L199.5,452.2 L200.0,452.3 L200.5,452.1 L201.0,452.0 L201.5,452.1 L202.0,452.3 L202.5,452.2 L203.0,452.0 L203.5,452.0 L204.0,452.1 L204.5,452.1 L205.0,451.9 L205.5,452.2 L206.0,452.0 L206.5,451.9 L207.0,451.8 L207.5,452.0 L208.0,452.1 L208.5,451.9 L209.0,451.9 L209.5,451.9 L210.0,451.7 L210.5,451.4 L211.0,451.4 L211.5,451.5 L212.0,451.3 L212.5,451.1 L213.0,450.9 L213.5,451.1 L214.0,450.9 L214.5,450.6 L215.0,450.6 L215.5,450.7 L216.0,450.3 L216.5,450.4 L217.0,450.2 L217.5,450.3 L218.0,450.2 L218.5,450.2 L219.0,449.8 L219.5,449.8 L220.0,449.6 L220.5,449.4 L221.0,449.6 L221.5,449.4 L222.0,449.3 L222.5,449.2 L223.0,448.9 L223.5,448.8 L224.0,448.8 L224.5,448.5 L225.0,448.5 L225.5,448.3 L226.0,447.9 L226.5,447.8 L227.0,447.7 L227.5,447.4 L228.0,447.2 L228.5,447.0 L229.0,446.8 L229.5,446.9 L230.0,446.8 L230.5,446.5 L231.0,446.2 L231.5,446.1 L232.0,445.8 L232.5,445.5 L233.0,445.2 L233.5,444.8 L234.0,444.4 L234.5,444.0 L235.0,443.5 L235.5,443.0 L236.0,442.1 L236.5,441.3 L237.0,440.6 L237.5,439.6 L238.0,438.8 L238.5,437.9 L239.0,437.0 L239.5,436.9 L240.0,437.1 L240.5,437.7 L241.0,438.3 L241.5,439.4 L242.0,440.5 L242.5,441.3 L243.0,442.4 L243.5,443.5 L244.0,444.3 L244.5,444.9 L245.0,445.5 L245.5,446.0 L246.0,446.4 L246.5,446.6 L247.0,447.2 L247.5,447.5 L248.0,447.7 L248.5,448.1 L249.0,448.3 L249.5,448.5 L250.0,448.7 L250.5,449.0 L251.0,448.8 L251.5,449.4 L252.0,449.3 L252.5,449.6 L253.0,449.8 L253.5,449.7 L254.0,450.0 L254.5,450.0 L255.0,450.3 L255.5,450.3 L256.0,450.4 L256.5,450.5 L257.0,450.8 L257.5,450.9 L258.0,450.8 L258.5,451.1 L259.0,451.0 L259.5,451.3 L260.0,451.3 L260.5,451.4 L261.0,451.4 L261.5,451.6 L262.0,451.6 L262.5,451.5 L263.0,451.6 L263.5,451.7 L264.0,451.6 L264.5,451.6 L265.0,451.9 L265.5,451.9 L266.0,452.0 L266.5,451.9 L267.0,451.8 L267.5,451.8 L268.0,452.0 L268.5,451.9 L269.0,452.1 L269.5,452.0 L270.0,451.9 L270.5,451.8 L271.0,451.8 L271.5,452.1 L272.0,451.9 L272.5,451.9 L273.0,451.8 L273.5,452.0 L274.0,452.1 L274.5,451.9 L275.0,452.1 L275.5,452.1 L276.0,452.1 L276.5,452.0" stroke="#7d6ded" stroke-width="2.0"/>
<path d="M32.0,452.8 L32.5,452.9 L33.0,452.9 L33.5,453.1 L34.0,452.9 L34.5,452.8 L35.0,453.0 L35.5,452.9 L36.0,452.8 L36.5,452.9 L37.0,452.7 L37.5,452.7 L38.0,453.0 L38.5,452.8 L39.0,453.0 L39.5,452.7 L40.0,452.8 L40.5,452.7 L41.0,453.0 L41.5,452.9 L42.0,452.8 L42.5,452.8 L43.0,452.7 L43.5,452.7 L44.0,452.9 L44.5,452.8 L45.0,452.7 L45.5,452.8 L46.0,452.8 L46.5,453.0 L47.0,452.8 L47.5,452.8 L48.0,453.0 L48.5,452.9 L49.0,452.8 L49.5,452.8 L50.0,452.7 L50.5,452.7 L51.0,452.8 L51.5,452.8 L52.0,452.6 L52.5,452.7 L53.0,452.5 L53.5,452.7 L54.0,452.5 L54.5,452.5 L55.0,452.5 L55.5,452.3 L56.0,452.3 L56.5,452.2 L57.0,452.3 L57.5,452.5 L58.0,452.6 L58.5,452.4 L59.0,452.8 L59.5,452.9 L60.0,452.7 L60.5,452.8 L61.0,452.8 L61.5,452.7 L62.0,452.7 L62.5,452.9 L63.0,452.8 L63.5,452.8 L64.0,452.8 L64.5,452.7 L65.0,452.8 L65.5,452.7 L66.0,452.7 L66.5,452.8 L67.0,452.9 L67.5,452.8 L68.0,452.8 L68.5,452.9 L69.0,452.8 L69.5,453.0 L70.0,452.6 L70.5,452.5 L71.0,452.7 L71.5,452.7 L72.0,452.6 L72.5,452.5 L73.0,452.4 L73.5,452.3 L74.0,452.4 L74.5,452.4 L75.0,452.1 L75.5,452.3 L76.0,452.3 L76.5,452.2 L77.0,452.5 L77.5,452.5 L78.0,452.8 L78.5,452.8 L79.0,452.8 L79.5,452.6 L80.0,452.6 L80.5,452.9 L81.0,452.6 L81.5,452.8 L82.0,452.6 L82.5,452.9 L83.0,452.6 L83.5,452.6 L84.0,452.9 L84.5,452.8 L85.0,452.8 L85.5,453.0 L86.0,452.9 L86.5,452.7 L87.0,452.9 L87.5,452.7 L88.0,452.8 L88.5,452.7 L89.0,452.7 L89.5,452.7 L90.0,452.7 L90.5,452.6 L91.0,452.9 L91.5,452.7 L92.0,452.8 L92.5,452.9 L93.0,452.8 L93.5,452.6 L94.0,452.9 L94.5,452.9 L95.0,452.9 L95.5,452.7 L96.0,452.9 L96.5,452.8 L97.0,452.6 L97.5,452.7 L98.0,452.8 L98.5,452.8 L99.0,452.9 L99.5,452.9 L100.0,452.9 L100.5,452.9 L101.0,452.7 L101.5,452.9 L102.0,452.5 L102.5,452.8 L103.0,452.6 L103.5,452.7 L104.0,452.7 L104.5,452.5 L105.0,452.8 L105.5,452.8 L106.0,452.6 L106.5,452.6 L107.0,452.8 L107.5,452.7 L108.0,452.5 L108.5,452.6 L109.0,452.9 L109.5,452.6 L110.0,452.6 L110.5,452.7 L111.0,452.8 L111.5,452.8 L112.0,452.6 L112.5,452.7 L113.0,452.5 L113.5,452.5 L114.0,452.6 L114.5,452.7 L115.0,452.5 L115.5,452.5 L116.0,452.8 L116.5,452.5 L117.0,452.5 L117.5,452.5 L118.0,452.5 L118.5,452.6 L119.0,452.7 L119.5,452.7 L120.0,452.6 L120.5,452.6 L121.0,452.6 L121.5,452.7 L122.0,452.5 L122.5,452.7 L123.0,452.4 L123.5,452.8 L124.0,452.5 L124.5,452.6 L125.0,452.5 L125.5,452.6 L126.0,452.5 L126.5,452.7 L127.0,452.7 L127.5,452.7 L128.0,452.8 L128.5,452.6 L129.0,452.6 L129.5,452.5 L130.0,452.5 L130.5,452.6 L131.0,452.8 L131.5,452.4 L132.0,452.7 L132.5,452.5 L133.0,452.6 L133.5,452.5 L134.0,452.6 L134.5,452.5 L135.0,452.5 L135.5,452.5 L136.0,452.3 L136.5,452.4 L137.0,452.7 L137.5,452.3 L138.0,452.5 L138.5,452.5 L139.0,452.3 L139.5,452.6 L140.0,452.3 L140.5,452.6 L141.0,452.4 L141.5,452.4 L142.0,452.4 L142.5,452.1 L143.0,452.2 L143.5,452.3 L144.0,452.2 L144.5,452.0 L145.0,451.8 L145.5,451.3 L146.0,451.1 L146.5,450.8 L147.0,450.2 L147.5,450.1 L148.0,449.5 L148.5,449.7 L149.0,449.7 L149.5,450.0 L150.0,450.7 L150.5,451.0 L151.0,451.4 L151.5,451.6 L152.0,451.8 L152.5,452.1 L153.0,451.9 L153.5,452.1 L154.0,452.1 L154.5,452.3 L155.0,452.2 L155.5,452.5 L156.0,452.2 L156.5,452.2 L157.0,452.5 L157.5,452.4 L158.0,452.3 L158.5,452.3 L159.0,452.5 L159.5,452.2 L160.0,452.5 L160.5,452.3 L161.0,452.5 L161.5,452.2 L162.0,452.5 L162.5,452.5 L163.0,452.2 L163.5,452.2 L164.0,452.5 L164.5,452.5 L165.0,452.2 L165.5,452.4 L166.0,452.3 L166.5,452.2 L167.0,452.4 L167.5,452.2 L168.0,452.1 L168.5,452.4 L169.0,452.3 L169.5,452.1 L170.0,452.1 L170.5,452.2 L171.0,452.0 L171.5,451.9 L172.0,451.9 L172.5,452.0 L173.0,451.6 L173.5,451.4 L174.0,451.3 L174.5,451.2 L175.0,450.9 L175.5,450.0 L176.0,449.7 L176.5,449.0 L177.0,448.4 L177.5,447.8 L178.0,447.5 L178.5,447.5 L179.0,447.6 L179.5,447.8 L180.0,448.5 L180.5,449.0 L181.0,449.4 L181.5,450.2 L182.0,450.4 L182.5,451.0 L183.0,450.8 L183.5,451.2 L184.0,451.3 L184.5,451.5 L185.0,451.6 L185.5,451.9 L186.0,452.1 L186.5,452.0 L187.0,452.2 L187.5,452.1 L188.0,452.3 L188.5,452.0 L189.0,452.3 L189.5,452.2 L190.0,452.3 L190.5,452.1 L191.0,452.2 L191.5,452.3 L192.0,452.1 L192.5,452.2 L193.0,452.4 L193.5,452.3 L194.0,452.2 L194.5,452.0 L195.0,452.3 L195.5,452.2 L196.0,452.1 L196.5,452.2 L197.0,452.1 L197.5,452.4 L198.0,452.4 L198.5,452.4 L199.0,452.3 L199.5,452.1 L200.0,452.2 L200.5,452.4 L201.0,452.0 L201.5,452.1 L202.0,452.1 L202.5,452.0 L203.0,452.1 L203.5,452.2 L204.0,452.0 L204.5,452.3 L205.0,452.1 L205.5,452.0 L206.0,451.9 L206.5,452.1 L207.0,452.0 L207.5,452.0 L208.0,451.8 L208.5,451.8 L209.0,451.9 L209.5,451.6 L210.0,451.8 L210.5,451.8 L211.0,451.6 L211.5,451.4 L212.0,451.5 L212.5,451.2 L213.0,451.1 L213.5,450.9 L214.0,451.0 L214.5,450.8 L215.0,450.7 L215.5,450.6 L216.0,450.8 L216.5,450.4 L217.0,450.5 L217.5,450.5 L218.0,450.3 L218.5,450.2 L219.0,450.0 L219.5,450.1 L220.0,449.9 L220.5,449.5 L221.0,449.6 L221.5,449.3 L222.0,449.3 L222.5,449.0 L223.0,449.0 L223.5,449.0 L224.0,448.8 L224.5,448.5 L225.0,448.3 L225.5,448.3 L226.0,448.3 L226.5,448.0 L227.0,447.8 L227.5,447.7 L228.0,447.5 L228.5,447.4 L229.0,447.3 L229.5,447.0 L230.0,446.9 L230.5,446.4 L231.0,446.3 L231.5,446.3 L232.0,446.1 L232.5,446.0 L233.0,445.7 L233.5,445.3 L234.0,444.9 L234.5,444.8 L235.0,444.2 L235.5,443.9 L236.0,443.3 L236.5,442.7 L237.0,442.2 L237.5,441.5 L238.0,440.9 L238.5,440.1 L239.0,440.0 L239.5,439.7 L240.0,439.9 L240.5,440.2 L241.0,440.8 L241.5,441.7 L242.0,442.4 L242.5,443.1 L243.0,443.6 L243.5,444.3 L244.0,445.2 L244.5,445.8 L245.0,446.0 L245.5,446.4 L246.0,446.8 L246.5,447.3 L247.0,447.5 L247.5,447.5 L248.0,447.8 L248.5,448.0 L249.0,448.5 L249.5,448.5 L250.0,448.9 L250.5,448.9 L251.0,449.0 L251.5,449.3 L252.0,449.3 L252.5,449.8 L253.0,449.6 L253.5,449.9 L254.0,450.0 L254.5,450.0 L255.0,450.2 L255.5,450.6 L256.0,450.7 L256.5,450.6 L257.0,450.9 L257.5,451.0 L258.0,451.1 L258.5,451.1 L259.0,451.2 L259.5,451.2 L260.0,451.4 L260.5,451.4 L261.0,451.6 L261.5,451.3 L262.0,451.7 L262.5,451.7 L263.0,451.6 L263.5,451.8 L264.0,451.6 L264.5,451.7 L265.0,451.8 L265.5,452.0 L266.0,451.7 L266.5,452.0 L267.0,451.9 L267.5,452.0 L268.0,451.8 L268.5,452.0 L269.0,452.1 L269.5,452.1 L270.0,452.0 L270.5,452.1 L271.0,452.0 L271.5,452.0 L272.0,451.8 L272.5,452.0 L273.0,452.2 L273.5,452.2 L274.0,451.8 L274.5,451.9 L275.0,451.9 L275.5,452.1 L276.0,451.9 L276.5,452.1" stroke="#8664ec" stroke-width="2.0"/>
<path d="M32.0,452.8 L32.5,452.8 L33.0,453.1 L33.5,452.8 L34.0,452.9 L34.5,452.8 L35.0,453.0 L35.5,452.7 L36.0,453.0 L36.5,452.8 L37.0,453.1 L37.5,452.8 L38.0,453.0 L38.5,452.7 L39.0,453.1 L39.5,452.9 L40.0,453.0 L40.5,453.0 L41.0,452.7 L41.5,453.0 L42.0,452.8 L42.5,452.8 L43.0,453.0 L43.5,452.9 L44.0,452.8 L44.5,452.7 L45.0,452.9 L45.5,452.7 L46.0,452.8 L46.5,452.7 L47.0,452.7 L47.5,453.0 L48.0,452.8 L48.5,453.1 L49.0,452.8 L49.5,453.0 L50.0,452.9 L50.5,452.9 L51.0,452.9 L51.5,452.7 L52.0,452.9 L52.5,452.9 L53.0,452.8 L53.5,452.6 L54.0,452.5 L54.5,452.5 L55.0,452.7 L55.5,452.4 L56.0,452.4 L56.5,452.5 L57.0,452.4 L57.5,452.7 L58.0,452.7 L58.5,452.6 L59.0,452.5 L59.5,452.9 L60.0,452.9 L60.5,452.9 L61.0,452.7 L61.5,453.0 L62.0,452.9 L62.5,452.6 L63.0,453.0 L63.5,452.9 L64.0,452.7 L64.5,453.0 L65.0,452.9 L65.5,452.9 L66.0,452.6 L66.5,452.7 L67.0,452.9 L67.5,452.6 L68.0,452.7 L68.5,452.6 L69.0,452.8 L69.5,452.7 L70.0,452.9 L70.5,452.7 L71.0,452.9 L71.5,452.9 L72.0,452.9 L72.5,452.5 L73.0,452.5 L73.5,452.6 L74.0,452.4 L74.5,452.6 L75.0,452.3 L75.5,452.5 L76.0,452.3 L76.5,452.6 L77.0,452.5 L77.5,452.6 L78.0,452.7 L78.5,452.8 L79.0,452.6 L79.5,452.6 L80.0,452.6 L80.5,452.9 L81.0,452.8 L81.5,452.9 L82.0,452.9 L82.5,452.7 L83.0,452.8 L83.5,452.6 L84.0,452.7 L84.5,452.8 L85.0,452.7 L85.5,452.9 L86.0,452.7 L86.5,452.8 L87.0,452.9 L87.5,452.7 L88.0,452.8 L88.5,452.7 L89.0,452.6 L89.5,452.6 L90.0,452.8 L90.5,452.9 L91.0,452.8 L91.5,452.9 L92.0,452.8 L92.5,452.9 L93.0,452.9 L93.5,452.8 L94.0,452.8 L94.5,452.6 L95.0,452.6 L95.5,452.6 L96.0,452.6 L96.5,452.7 L97.0,452.7 L97.5,452.8 L98.0,452.9 L98.5,452.6 L99.0,452.9 L99.5,452.9 L100.0,452.6 L100.5,452.8 L101.0,452.6 L101.5,452.6 L102.0,452.6 L102.5,452.6 L103.0,452.5 L103.5,452.5 L104.0,452.8 L104.5,452.9 L105.0,452.9 L105.5,452.5 L106.0,452.5 L106.5,452.8 L107.0,452.7 L107.5,452.6 L108.0,452.8 L108.5,452.7 L109.0,452.6 L109.5,452.6 L110.0,452.5 L110.5,452.8 L111.0,452.8 L111.5,452.5 L112.0,452.6 L112.5,452.7 L113.0,452.6 L113.5,452.7 L114.0,452.7 L114.5,452.6 L115.0,452.5 L115.5,452.6 L116.0,452.8 L116.5,452.5 L117.0,452.7 L117.5,452.8 L118.0,452.7 L118.5,452.6 L119.0,452.8 L119.5,452.8 L120.0,452.8 L120.5,452.6 L121.0,452.6 L121.5,452.6 L122.0,452.8 L122.5,452.7 L123.0,452.7 L123.5,452.6 L124.0,452.8 L124.5,452.6 L125.0,452.5 L125.5,452.5 L126.0,452.5 L126.5,452.5 L127.0,452.8 L127.5,452.6 L128.0,452.7 L128.5,452.6 L129.0,452.6 L129.5,452.5 L130.0,452.7 L130.5,452.6 L131.0,452.5 L131.5,452.7 L132.0,452.7 L132.5,452.8 L133.0,452.6 L133.5,452.5 L134.0,452.7 L134.5,452.5 L135.0,452.4 L135.5,452.5 L136.0,452.5 L136.5,452.4 L137.0,452.6 L137.5,452.5 L138.0,452.6 L138.5,452.4 L139.0,452.3 L139.5,452.6 L140.0,452.6 L140.5,452.5 L141.0,452.5 L141.5,452.3 L142.0,452.4 L142.5,452.5 L143.0,452.5 L143.5,452.3 L144.0,452.3 L144.5,452.0 L145.0,451.8 L145.5,451.9 L146.0,451.4 L146.5,451.2 L147.0,450.9 L147.5,450.8 L148.0,450.6 L148.5,450.6 L149.0,450.8 L149.5,450.8 L150.0,451.0 L150.5,451.3 L151.0,451.6 L151.5,451.7 L152.0,452.2 L152.5,452.2 L153.0,452.2 L153.5,452.1 L154.0,452.5 L154.5,452.2 L155.0,452.5 L155.5,452.2 L156.0,452.3 L156.5,452.2 L157.0,452.4 L157.5,452.3 L158.0,452.4 L158.5,452.5 L159.0,452.3 L159.5,452.3 L160.0,452.4 L160.5,452.4 L161.0,452.4 L161.5,452.3 L162.0,452.3 L162.5,452.2 L163.0,452.5 L163.5,452.4 L164.0,452.5 L164.5,452.4 L165.0,452.4 L165.5,452.2 L166.0,452.5 L166.5,452.4 L167.0,452.3 L167.5,452.2 L168.0,452.3 L168.5,452.5 L169.0,452.2 L169.5,452.4 L170.0,452.1 L170.5,452.2 L171.0,452.1 L171.5,452.0 L172.0,452.0 L172.5,452.0 L173.0,452.0 L173.5,451.8 L174.0,451.8 L174.5,451.3 L175.0,451.3 L175.5,450.8 L176.0,450.6 L176.5,450.0 L177.0,449.5 L177.5,449.4 L178.0,449.0 L178.5,448.9 L179.0,448.9 L179.5,449.2 L180.0,449.7 L180.5,450.1 L181.0,450.6 L181.5,450.7 L182.0,451.0 L182.5,451.4 L183.0,451.5 L183.5,451.6 L184.0,451.6 L184.5,451.8 L185.0,452.1 L185.5,451.9 L186.0,452.0 L186.5,452.0 L187.0,452.1 L187.5,452.1 L188.0,452.1 L188.5,452.2 L189.0,452.0 L189.5,452.2 L190.0,452.2 L190.5,452.1 L191.0,452.2 L191.5,452.4 L192.0,452.3 L192.5,452.4 L193.0,452.4 L193.5,452.3 L194.0,452.1 L194.5,452.1 L195.0,452.3 L195.5,452.4 L196.0,452.2 L196.5,452.1 L197.0,452.4 L197.5,452.3 L198.0,452.2 L198.5,452.1 L199.0,452.3 L199.5,452.3 L200.0,452.3 L200.5,452.4 L201.0,452.1 L201.5,452.4 L202.0,452.1 L202.5,452.2 L203.0,452.1 L203.5,452.3 L204.0,452.1 L204.5,452.0 L205.0,452.1 L205.5,452.0 L206.0,451.9 L206.5,451.9 L207.0,452.0 L207.5,452.0 L208.0,451.8 L208.5,451.8 L209.0,452.1 L209.5,451.9 L210.0,452.0 L210.5,451.8 L211.0,451.9 L211.5,451.7 L212.0,451.5 L212.5,451.3 L213.0,451.2 L213.5,451.4 L214.0,451.2 L214.5,451.0 L215.0,450.8 L215.5,450.9 L216.0,451.0 L216.5,450.6 L217.0,450.8 L217.5,450.5 L218.0,450.3 L218.5,450.2 L219.0,450.3 L219.5,450.2 L220.0,449.8 L220.5,449.7 L221.0,449.5 L221.5,449.4 L222.0,449.3 L222.5,449.2 L223.0,449.0 L223.5,449.1 L224.0,448.7 L224.5,448.6 L225.0,448.5 L225.5,448.2 L226.0,448.0 L226.5,447.9 L227.0,447.7 L227.5,447.8 L228.0,447.4 L228.5,447.4 L229.0,447.4 L229.5,447.1 L230.0,446.8 L230.5,446.7 L231.0,446.5 L231.5,446.3 L232.0,446.0 L232.5,445.9 L233.0,445.7 L233.5,445.6 L234.0,445.4 L234.5,445.0 L235.0,444.9 L235.5,444.4 L236.0,444.2 L236.5,443.9 L237.0,443.3 L237.5,443.0 L238.0,442.5 L238.5,442.0 L239.0,441.6 L239.5,441.4 L240.0,441.8 L240.5,442.0 L241.0,442.4 L241.5,442.9 L242.0,443.5 L242.5,444.4 L243.0,444.7 L243.5,445.4 L244.0,445.9 L244.5,446.0 L245.0,446.4 L245.5,447.0 L246.0,447.0 L246.5,447.4 L247.0,447.8 L247.5,447.9 L248.0,448.1 L248.5,448.5 L249.0,448.6 L249.5,448.8 L250.0,448.9 L250.5,448.9 L251.0,449.0 L251.5,449.2 L252.0,449.7 L252.5,449.7 L253.0,450.0 L253.5,450.2 L254.0,450.0 L254.5,450.4 L255.0,450.3 L255.5,450.4 L256.0,450.5 L256.5,450.9 L257.0,451.0 L257.5,450.8 L258.0,451.0 L258.5,451.2 L259.0,451.3 L259.5,451.4 L260.0,451.2 L260.5,451.3 L261.0,451.4 L261.5,451.7 L262.0,451.6 L262.5,451.7 L263.0,451.5 L263.5,451.7 L264.0,451.9 L264.5,451.8 L265.0,451.9 L265.5,451.9 L266.0,451.8 L266.5,451.9 L267.0,451.9 L267.5,451.9 L268.0,451.9 L268.5,452.0 L269.0,452.1 L269.5,452.1 L270.0,451.9 L270.5,452.0 L271.0,452.0 L271.5,452.1 L272.0,451.9 L272.5,452.0 L273.0,451.9 L273.5,452.1 L274.0,452.1 L274.5,451.8 L275.0,451.8 L275.5,451.9 L276.0,452.0 L276.5,452.1" stroke="#9058ec" stroke-width="2.6"/>
<path d="M32.0,452.9 L32.5,452.8 L33.0,453.0 L33.5,453.0 L34.0,452.9 L34.5,452.8 L35.0,452.9 L35.5,452.8 L36.0,453.0 L36.5,452.9 L37.0,453.0 L37.5,452.9 L38.0,452.8 L38.5,452.8 L39.0,453.0 L39.5,453.1 L40.0,453.1 L40.5,452.8 L41.0,452.8 L41.5,452.7 L42.0,452.8 L42.5,452.9 L43.0,453.0 L43.5,453.1 L44.0,452.9 L44.5,452.8 L45.0,452.8 L45.5,452.8 L46.0,452.8 L46.5,452.9 L47.0,452.9 L47.5,452.8 L48.0,452.8 L48.5,453.0 L49.0,452.9 L49.5,452.9 L50.0,452.8 L50.5,452.8 L51.0,453.0 L51.5,452.7 L52.0,452.9 L52.5,453.0 L53.0,452.8 L53.5,452.6 L54.0,452.5 L54.5,452.8 L55.0,452.5 L55.5,452.6 L56.0,452.7 L56.5,452.7 L57.0,452.6 L57.5,452.8 L58.0,452.9 L58.5,452.7 L59.0,452.7 L59.5,452.9 L60.0,453.0 L60.5,452.9 L61.0,453.0 L61.5,452.9 L62.0,453.0 L62.5,452.7 L63.0,452.9 L63.5,452.7 L64.0,452.7 L64.5,452.8 L65.0,453.0 L65.5,452.8 L66.0,452.8 L66.5,453.0 L67.0,453.0 L67.5,452.9 L68.0,452.8 L68.5,453.0 L69.0,452.6 L69.5,452.6 L70.0,452.6 L70.5,452.7 L71.0,452.7 L71.5,452.9 L72.0,452.7 L72.5,452.8 L73.0,452.7 L73.5,452.6 L74.0,452.5 L74.5,452.4 L75.0,452.5 L75.5,452.7 L76.0,452.8 L76.5,452.8 L77.0,452.5 L77.5,452.7 L78.0,452.8 L78.5,452.6 L79.0,452.6 L79.5,452.6 L80.0,452.6 L80.5,452.9 L81.0,452.9 L81.5,453.0 L82.0,452.6 L82.5,452.9 L83.0,452.9 L83.5,452.7 L84.0,452.6 L84.5,453.0 L85.0,452.9 L85.5,452.6 L86.0,452.7 L86.5,452.8 L87.0,452.6 L87.5,452.8 L88.0,452.6 L88.5,452.6 L89.0,452.8 L89.5,452.8 L90.0,452.9 L90.5,452.6 L91.0,452.7 L91.5,452.6 L92.0,452.8 L92.5,452.6 L93.0,452.7 L93.5,452.9 L94.0,452.8 L94.5,452.8 L95.0,452.8 L95.5,452.6 L96.0,452.8 L96.5,452.9 L97.0,452.6 L97.5,452.9 L98.0,452.7 L98.5,452.6 L99.0,452.8 L99.5,452.9 L100.0,452.6 L100.5,452.6 L101.0,452.7 L101.5,452.6 L102.0,452.7 L102.5,452.9 L103.0,452.5 L103.5,452.7 L104.0,452.6 L104.5,452.6 L105.0,452.7 L105.5,452.9 L106.0,452.7 L106.5,452.7 L107.0,452.8 L107.5,452.8 L108.0,452.9 L108.5,452.6 L109.0,452.6 L109.5,452.9 L110.0,452.7 L110.5,452.8 L111.0,452.5 L111.5,452.8 L112.0,452.5 L112.5,452.5 L113.0,452.5 L113.5,452.6 L114.0,452.6 L114.5,452.7 L115.0,452.8 L115.5,452.6 L116.0,452.7 L116.5,452.6 L117.0,452.6 L117.5,452.6 L118.0,452.5 L118.5,452.6 L119.0,452.7 L119.5,452.8 L120.0,452.7 L120.5,452.6 L121.0,452.6 L121.5,452.5 L122.0,452.5 L122.5,452.8 L123.0,452.7 L123.5,452.6 L124.0,452.6 L124.5,452.6 L125.0,452.5 L125.5,452.6 L126.0,452.6 L126.5,452.8 L127.0,452.8 L127.5,452.5 L128.0,452.6 L128.5,452.5 L129.0,452.8 L129.5,452.5 L130.0,452.6 L130.5,452.4 L131.0,452.6 L131.5,452.6 L132.0,452.4 L132.5,452.4 L133.0,452.6 L133.5,452.6 L134.0,452.5 L134.5,452.4 L135.0,452.5 L135.5,452.5 L136.0,452.4 L136.5,452.6 L137.0,452.4 L137.5,452.6 L138.0,452.6 L138.5,452.3 L139.0,452.5 L139.5,452.6 L140.0,452.7 L140.5,452.6 L141.0,452.6 L141.5,452.5 L142.0,452.3 L142.5,452.6 L143.0,452.5 L143.5,452.4 L144.0,452.5 L144.5,452.1 L145.0,452.3 L145.5,452.0 L146.0,451.9 L146.5,451.8 L147.0,451.3 L147.5,451.3 L148.0,451.0 L148.5,450.9 L149.0,451.4 L149.5,451.3 L150.0,451.5 L150.5,451.6 L151.0,452.1 L151.5,452.1 L152.0,452.3 L152.5,452.2 L153.0,452.3 L153.5,452.2 L154.0,452.4 L154.5,452.5 L155.0,452.4 L155.5,452.4 L156.0,452.3 L156.5,452.6 L157.0,452.2 L157.5,452.3 L158.0,452.5 L158.5,452.6 L159.0,452.6 L159.5,452.3 L160.0,452.6 L160.5,452.4 L161.0,452.5 L161.5,452.5 L162.0,452.5 L162.5,452.6 L163.0,452.6 L163.5,452.3 L164.0,452.6 L164.5,452.3 L165.0,452.5 L165.5,452.3 L166.0,452.4 L166.5,452.3 L167.0,452.6 L167.5,452.4 L168.0,452.3 L168.5,452.5 L169.0,452.2 L169.5,452.4 L170.0,452.4 L170.5,452.1 L171.0,452.2 L171.5,452.1 L172.0,452.4 L172.5,452.0 L173.0,452.1 L173.5,452.0 L174.0,451.7 L174.5,451.9 L175.0,451.6 L175.5,451.4 L176.0,451.0 L176.5,450.7 L177.0,450.4 L177.5,450.0 L178.0,449.9 L178.5,449.9 L179.0,449.9 L179.5,450.3 L180.0,450.3 L180.5,450.6 L181.0,451.0 L181.5,451.3 L182.0,451.4 L182.5,451.5 L183.0,451.5 L183.5,451.7 L184.0,451.8 L184.5,452.1 L185.0,452.0 L185.5,452.1 L186.0,452.3 L186.5,452.1 L187.0,452.0 L187.5,452.4 L188.0,452.4 L188.5,452.2 L189.0,452.2 L189.5,452.3 L190.0,452.2 L190.5,452.4 L191.0,452.4 L191.5,452.4 L192.0,452.3 L192.5,452.4 L193.0,452.5 L193.5,452.2 L194.0,452.4 L194.5,452.2 L195.0,452.5 L195.5,452.4 L196.0,452.3 L196.5,452.4 L197.0,452.2 L197.5,452.1 L198.0,452.3 L198.5,452.1 L199.0,452.3 L199.5,452.4 L200.0,452.3 L200.5,452.2 L201.0,452.1 L201.5,452.3 L202.0,452.2 L202.5,452.4 L203.0,452.1 L203.5,452.2 L204.0,452.2 L204.5,452.1 L205.0,452.0 L205.5,452.1 L206.0,452.1 L206.5,452.0 L207.0,452.0 L207.5,452.0 L208.0,452.2 L208.5,452.0 L209.0,451.9 L209.5,451.7 L210.0,451.8 L210.5,451.7 L211.0,451.6 L211.5,451.6 L212.0,451.6 L212.5,451.5 L213.0,451.5 L213.5,451.4 L214.0,451.1 L214.5,451.0 L215.0,451.1 L215.5,451.0 L216.0,450.9 L216.5,450.7 L217.0,450.6 L217.5,450.7 L218.0,450.5 L218.5,450.4 L219.0,450.2 L219.5,450.2 L220.0,450.0 L220.5,449.7 L221.0,449.9 L221.5,449.7 L222.0,449.7 L222.5,449.5 L223.0,449.3 L223.5,449.0 L224.0,448.8 L224.5,448.8 L225.0,448.6 L225.5,448.4 L226.0,448.1 L226.5,448.1 L227.0,448.0 L227.5,447.9 L228.0,447.5 L228.5,447.3 L229.0,447.3 L229.5,447.0 L230.0,447.1 L230.5,447.0 L231.0,446.7 L231.5,446.4 L232.0,446.4 L232.5,446.3 L233.0,446.0 L233.5,446.0 L234.0,445.8 L234.5,445.7 L235.0,445.4 L235.5,445.1 L236.0,444.8 L236.5,444.7 L237.0,444.2 L237.5,443.9 L238.0,443.5 L238.5,443.1 L239.0,443.1 L239.5,442.9 L240.0,443.3 L240.5,443.3 L241.0,443.9 L241.5,444.1 L242.0,444.5 L242.5,445.0 L243.0,445.4 L243.5,446.0 L244.0,446.2 L244.5,446.4 L245.0,446.8 L245.5,447.0 L246.0,447.4 L246.5,447.6 L247.0,447.7 L247.5,448.1 L248.0,448.2 L248.5,448.5 L249.0,448.7 L249.5,448.7 L250.0,449.1 L250.5,448.9 L251.0,449.2 L251.5,449.2 L252.0,449.8 L252.5,449.7 L253.0,450.0 L253.5,450.2 L254.0,450.0 L254.5,450.4 L255.0,450.2 L255.5,450.6 L256.0,450.7 L256.5,450.7 L257.0,451.0 L257.5,451.0 L258.0,451.0 L258.5,451.0 L259.0,451.0 L259.5,451.1 L260.0,451.3 L260.5,451.4 L261.0,451.3 L261.5,451.5 L262.0,451.4 L262.5,451.5 L263.0,451.7 L263.5,451.5 L264.0,451.7 L264.5,451.6 L265.0,451.9 L265.5,451.7 L266.0,452.0 L266.5,452.0 L267.0,452.1 L267.5,451.8 L268.0,452.0 L268.5,451.7 L269.0,452.1 L269.5,452.0 L270.0,451.8 L270.5,451.8 L271.0,451.8 L271.5,451.9 L272.0,452.2 L272.5,452.1 L273.0,451.9 L273.5,452.1 L274.0,451.8 L274.5,452.0 L275.0,452.0 L275.5,451.8 L276.0,452.2 L276.5,452.1" stroke="#ae41eb" stroke-width="2.6"/>
<path d="M32.0,453.2 L32.5,453.0 L33.0,453.0 L33.5,452.8 L34.0,452.9 L34.5,453.1 L35.0,453.0 L35.5,453.0 L36.0,452.9 L36.5,452.9 L37.0,452.7 L37.5,452.8 L38.0,452.8 L38.5,452.8 L39.0,452.8 L39.5,453.0 L40.0,453.1 L40.5,453.0 L41.0,453.1 L41.5,452.8 L42.0,453.1 L42.5,452.9 L43.0,453.1 L43.5,452.8 L44.0,452.8 L44.5,452.9 L45.0,452.8 L45.5,452.8 L46.0,453.0 L46.5,453.0 L47.0,453.1 L47.5,453.0 L48.0,452.8 L48.5,452.9 L49.0,452.9 L49.5,452.9 L50.0,453.1 L50.5,452.9 L51.0,453.1 L51.5,452.9 L52.0,452.8 L52.5,452.7 L53.0,452.8 L53.5,452.8 L54.0,452.6 L54.5,452.7 L55.0,452.6 L55.5,452.6 L56.0,452.9 L56.5,452.9 L57.0,452.6 L57.5,452.8 L58.0,452.8 L58.5,452.6 L59.0,452.7 L59.5,452.8 L60.0,452.8 L60.5,452.9 L61.0,452.7 L61.5,452.9 L62.0,452.9 L62.5,452.7 L63.0,452.9 L63.5,453.0 L64.0,453.0 L64.5,452.9 L65.0,452.9 L65.5,452.9 L66.0,452.8 L66.5,452.9 L67.0,452.8 L67.5,452.9 L68.0,452.9 L68.5,452.9 L69.0,452.9 L69.5,452.8 L70.0,452.8 L70.5,452.9 L71.0,452.8 L71.5,452.8 L72.0,452.7 L72.5,452.7 L73.0,452.8 L73.5,452.8 L74.0,452.5 L74.5,452.7 L75.0,452.6 L75.5,452.7 L76.0,452.7 L76.5,452.6 L77.0,452.5 L77.5,452.7 L78.0,452.7 L78.5,452.8 L79.0,452.9 L79.5,452.8 L80.0,452.8 L80.5,452.7 L81.0,452.9 L81.5,452.6 L82.0,452.9 L82.5,452.8 L83.0,452.8 L83.5,452.9 L84.0,452.8 L84.5,453.0 L85.0,452.6 L85.5,452.6 L86.0,452.8 L86.5,452.7 L87.0,452.7 L87.5,453.0 L88.0,452.8 L88.5,452.7 L89.0,452.7 L89.5,452.7 L90.0,452.7 L90.5,452.6 L91.0,453.0 L91.5,452.9 L92.0,452.7 L92.5,452.6 L93.0,452.9 L93.5,452.9 L94.0,452.6 L94.5,452.9 L95.0,452.8 L95.5,452.9 L96.0,452.7 L96.5,452.7 L97.0,452.5 L97.5,452.8 L98.0,452.6 L98.5,452.9 L99.0,452.6 L99.5,452.9 L100.0,452.7 L100.5,452.9 L101.0,452.8 L101.5,452.9 L102.0,452.8 L102.5,452.7 L103.0,452.6 L103.5,452.6 L104.0,452.6 L104.5,452.6 L105.0,452.6 L105.5,452.8 L106.0,452.5 L106.5,452.7 L107.0,452.7 L107.5,452.6 L108.0,452.8 L108.5,452.6 L109.0,452.8 L109.5,452.6 L110.0,452.8 L110.5,452.6 L111.0,452.5 L111.5,452.5 L112.0,452.6 L112.5,452.5 L113.0,452.6 L113.5,452.9 L114.0,452.6 L114.5,452.6 L115.0,452.8 L115.5,452.5 L116.0,452.5 L116.5,452.8 L117.0,452.6 L117.5,452.5 L118.0,452.5 L118.5,452.8 L119.0,452.8 L119.5,452.6 L120.0,452.7 L120.5,452.6 L121.0,452.5 L121.5,452.6 L122.0,452.6 L122.5,452.5 L123.0,452.8 L123.5,452.5 L124.0,452.6 L124.5,452.7 L125.0,452.4 L125.5,452.8 L126.0,452.7 L126.5,452.7 L127.0,452.5 L127.5,452.5 L128.0,452.7 L128.5,452.8 L129.0,452.4 L129.5,452.7 L130.0,452.5 L130.5,452.4 L131.0,452.6 L131.5,452.4 L132.0,452.7 L132.5,452.7 L133.0,452.5 L133.5,452.4 L134.0,452.6 L134.5,452.7 L135.0,452.4 L135.5,452.6 L136.0,452.4 L136.5,452.5 L137.0,452.4 L137.5,452.4 L138.0,452.6 L138.5,452.5 L139.0,452.7 L139.5,452.7 L140.0,452.6 L140.5,452.5 L141.0,452.6 L141.5,452.4 L142.0,452.5 L142.5,452.5 L143.0,452.4 L143.5,452.4 L144.0,452.5 L144.5,452.5 L145.0,452.3 L145.5,452.3 L146.0,452.0 L146.5,451.7 L147.0,451.7 L147.5,451.6 L148.0,451.6 L148.5,451.6 L149.0,451.7 L149.5,451.8 L150.0,451.8 L150.5,451.8 L151.0,452.1 L151.5,452.1 L152.0,452.4 L152.5,452.5 L153.0,452.4 L153.5,452.5 L154.0,452.5 L154.5,452.4 L155.0,452.4 L155.5,452.6 L156.0,452.6 L156.5,452.5 L157.0,452.6 L157.5,452.3 L158.0,452.6 L158.5,452.5 L159.0,452.4 L159.5,452.3 L160.0,452.5 L160.5,452.6 L161.0,452.3 L161.5,452.6 L162.0,452.6 L162.5,452.3 L163.0,452.5 L163.5,452.4 L164.0,452.4 L164.5,452.3 L165.0,452.3 L165.5,452.6 L166.0,452.5 L166.5,452.6 L167.0,452.4 L167.5,452.4 L168.0,452.2 L168.5,452.3 L169.0,452.4 L169.5,452.6 L170.0,452.2 L170.5,452.4 L171.0,452.1 L171.5,452.5 L172.0,452.1 L172.5,452.3 L173.0,452.2 L173.5,452.0 L174.0,452.0 L174.5,451.9 L175.0,451.7 L175.5,451.6 L176.0,451.3 L176.5,451.3 L177.0,451.2 L177.5,450.8 L178.0,450.6 L178.5,450.6 L179.0,450.5 L179.5,450.9 L180.0,451.1 L180.5,451.0 L181.0,451.3 L181.5,451.4 L182.0,451.8 L182.5,451.6 L183.0,452.0 L183.5,451.8 L184.0,452.1 L184.5,452.0 L185.0,452.2 L185.5,452.3 L186.0,452.4 L186.5,452.4 L187.0,452.1 L187.5,452.4 L188.0,452.3 L188.5,452.2 L189.0,452.3 L189.5,452.5 L190.0,452.1 L190.5,452.4 L191.0,452.3 L191.5,452.5 L192.0,452.3 L192.5,452.2 L193.0,452.5 L193.5,452.2 L194.0,452.4 L194.5,452.2 L195.0,452.1 L195.5,452.2 L196.0,452.4 L196.5,452.2 L197.0,452.5 L197.5,452.2 L198.0,452.5 L198.5,452.1 L199.0,452.3 L199.5,452.3 L200.0,452.3 L200.5,452.4 L201.0,452.1 L201.5,452.4 L202.0,452.3 L202.5,452.4 L203.0,452.1 L203.5,452.4 L204.0,452.3 L204.5,452.2 L205.0,452.0 L205.5,452.3 L206.0,452.1 L206.5,452.3 L207.0,452.2 L207.5,452.1 L208.0,452.1 L208.5,451.9 L209.0,452.1 L209.5,452.0 L210.0,451.7 L210.5,451.6 L211.0,451.6 L211.5,451.6 L212.0,451.7 L212.5,451.7 L213.0,451.6 L213.5,451.3 L214.0,451.5 L214.5,451.1 L215.0,451.0 L215.5,451.0 L216.0,450.9 L216.5,451.0 L217.0,450.9 L217.5,450.8 L218.0,450.5 L218.5,450.5 L219.0,450.3 L219.5,450.2 L220.0,450.1 L220.5,449.8 L221.0,450.0 L221.5,449.8 L222.0,449.7 L222.5,449.2 L223.0,449.1 L223.5,449.2 L224.0,449.1 L224.5,448.8 L225.0,448.8 L225.5,448.4 L226.0,448.2 L226.5,448.1 L227.0,447.9 L227.5,447.8 L228.0,447.8 L228.5,447.4 L229.0,447.4 L229.5,447.2 L230.0,446.8 L230.5,446.9 L231.0,446.9 L231.5,446.7 L232.0,446.6 L232.5,446.4 L233.0,446.4 L233.5,445.9 L234.0,445.9 L234.5,445.6 L235.0,445.7 L235.5,445.3 L236.0,445.3 L236.5,445.0 L237.0,444.6 L237.5,444.6 L238.0,444.2 L238.5,444.0 L239.0,444.1 L239.5,444.0 L240.0,443.9 L240.5,444.3 L241.0,444.4 L241.5,444.7 L242.0,445.3 L242.5,445.7 L243.0,446.1 L243.5,446.4 L244.0,446.6 L244.5,446.8 L245.0,447.0 L245.5,447.3 L246.0,447.7 L246.5,447.9 L247.0,447.9 L247.5,448.0 L248.0,448.3 L248.5,448.4 L249.0,448.8 L249.5,449.0 L250.0,449.0 L250.5,449.0 L251.0,449.3 L251.5,449.3 L252.0,449.6 L252.5,449.9 L253.0,450.0 L253.5,450.0 L254.0,450.0 L254.5,450.5 L255.0,450.6 L255.5,450.5 L256.0,450.5 L256.5,450.8 L257.0,450.8 L257.5,450.9 L258.0,451.0 L258.5,451.0 L259.0,451.0 L259.5,451.3 L260.0,451.3 L260.5,451.4 L261.0,451.6 L261.5,451.5 L262.0,451.4 L262.5,451.5 L263.0,451.7 L263.5,451.8 L264.0,451.8 L264.5,451.9 L265.0,451.7 L265.5,451.9 L266.0,451.9 L266.5,451.8 L267.0,451.7 L267.5,451.9 L268.0,452.0 L268.5,452.1 L269.0,452.1 L269.5,452.1 L270.0,452.0 L270.5,451.9 L271.0,451.9 L271.5,452.1 L272.0,451.9 L272.5,452.0 L273.0,452.0 L273.5,451.8 L274.0,451.8 L274.5,451.9 L275.0,452.1 L275.5,452.1 L276.0,451.8 L276.5,451.9" stroke="#c133ea" stroke-width="2.6"/>
<path d="M32.0,453.2 L32.5,452.8 L33.0,453.1 L33.5,453.0 L34.0,453.1 L34.5,453.0 L35.0,452.8 L35.5,453.1 L36.0,453.0 L36.5,452.8 L37.0,453.1 L37.5,452.9 L38.0,452.9 L38.5,452.9 L39.0,453.0 L39.5,453.0 L40.0,452.8 L40.5,453.1 L41.0,452.9 L41.5,452.8 L42.0,452.9 L42.5,452.8 L43.0,452.9 L43.5,453.0 L44.0,453.0 L44.5,452.8 L45.0,452.8 L45.5,453.1 L46.0,453.0 L46.5,452.8 L47.0,453.0 L47.5,452.8 L48.0,452.7 L48.5,453.0 L49.0,452.7 L49.5,452.8 L50.0,453.0 L50.5,453.1 L51.0,452.7 L51.5,453.0 L52.0,452.7 L52.5,452.7 L53.0,452.7 L53.5,452.6 L54.0,452.9 L54.5,453.0 L55.0,452.6 L55.5,452.6 L56.0,452.6 L56.5,452.7 L57.0,452.7 L57.5,452.7 L58.0,452.9 L58.5,452.7 L59.0,452.9 L59.5,452.7 L60.0,452.9 L60.5,452.7 L61.0,452.7 L61.5,453.1 L62.0,452.8 L62.5,452.8 L63.0,452.9 L63.5,453.1 L64.0,452.9 L64.5,452.7 L65.0,452.9 L65.5,452.9 L66.0,452.9 L66.5,452.8 L67.0,453.0 L67.5,452.7 L68.0,452.9 L68.5,452.9 L69.0,453.0 L69.5,452.9 L70.0,452.7 L70.5,452.8 L71.0,452.8 L71.5,452.7 L72.0,452.6 L72.5,453.0 L73.0,452.7 L73.5,452.6 L74.0,452.6 L74.5,452.5 L75.0,452.8 L75.5,452.5 L76.0,452.7 L76.5,452.9 L77.0,452.8 L77.5,452.8 L78.0,452.7 L78.5,452.8 L79.0,452.9 L79.5,452.7 L80.0,452.7 L80.5,452.8 L81.0,452.8 L81.5,452.9 L82.0,452.8 L82.5,452.7 L83.0,452.9 L83.5,452.6 L84.0,452.6 L84.5,452.6 L85.0,452.8 L85.5,452.8 L86.0,452.8 L86.5,452.8 L87.0,452.7 L87.5,452.7 L88.0,452.8 L88.5,452.7 L89.0,452.8 L89.5,452.9 L90.0,452.8 L90.5,452.9 L91.0,452.6 L91.5,452.8 L92.0,452.6 L92.5,452.6 L93.0,452.6 L93.5,452.7 L94.0,452.6 L94.5,452.9 L95.0,452.7 L95.5,452.7 L96.0,452.6 L96.5,452.7 L97.0,452.9 L97.5,452.8 L98.0,452.9 L98.5,452.8 L99.0,452.8 L99.5,452.7 L100.0,452.9 L100.5,452.7 L101.0,452.6 L101.5,452.6 L102.0,452.8 L102.5,452.5 L103.0,452.6 L103.5,452.8 L104.0,452.8 L104.5,452.7 L105.0,452.8 L105.5,452.7 L106.0,452.7 L106.5,452.5 L107.0,452.7 L107.5,452.9 L108.0,452.7 L108.5,452.6 L109.0,452.7 L109.5,452.9 L110.0,452.7 L110.5,452.7 L111.0,452.8 L111.5,452.8 L112.0,452.6 L112.5,452.7 L113.0,452.6 L113.5,452.6 L114.0,452.8 L114.5,452.6 L115.0,452.8 L115.5,452.7 L116.0,452.8 L116.5,452.5 L117.0,452.6 L117.5,452.5 L118.0,452.8 L118.5,452.8 L119.0,452.6 L119.5,452.6 L120.0,452.8 L120.5,452.6 L121.0,452.6 L121.5,452.5 L122.0,452.8 L122.5,452.8 L123.0,452.6 L123.5,452.7 L124.0,452.8 L124.5,452.7 L125.0,452.5 L125.5,452.7 L126.0,452.8 L126.5,452.6 L127.0,452.6 L127.5,452.7 L128.0,452.5 L128.5,452.5 L129.0,452.7 L129.5,452.8 L130.0,452.4 L130.5,452.7 L131.0,452.6 L131.5,452.4 L132.0,452.5 L132.5,452.5 L133.0,452.7 L133.5,452.4 L134.0,452.5 L134.5,452.6 L135.0,452.7 L135.5,452.8 L136.0,452.7 L136.5,452.4 L137.0,452.6 L137.5,452.6 L138.0,452.6 L138.5,452.6 L139.0,452.5 L139.5,452.4 L140.0,452.6 L140.5,452.7 L141.0,452.6 L141.5,452.6 L142.0,452.7 L142.5,452.4 L143.0,452.5 L143.5,452.6 L144.0,452.5 L144.5,452.2 L145.0,452.3 L145.5,452.4 L146.0,452.0 L146.5,452.0 L147.0,452.1 L147.5,451.8 L148.0,451.8 L148.5,451.8 L149.0,451.9 L149.5,451.9 L150.0,452.1 L150.5,452.2 L151.0,452.1 L151.5,452.3 L152.0,452.2 L152.5,452.2 L153.0,452.4 L153.5,452.2 L154.0,452.4 L154.5,452.6 L155.0,452.6 L155.5,452.3 L156.0,452.3 L156.5,452.4 L157.0,452.4 L157.5,452.3 L158.0,452.6 L158.5,452.3 L159.0,452.5 L159.5,452.4 L160.0,452.5 L160.5,452.3 L161.0,452.4 L161.5,452.6 L162.0,452.3 L162.5,452.3 L163.0,452.3 L163.5,452.6 L164.0,452.5 L164.5,452.3 L165.0,452.6 L165.5,452.3 L166.0,452.4 L166.5,452.5 L167.0,452.5 L167.5,452.2 L168.0,452.2 L168.5,452.3 L169.0,452.6 L169.5,452.5 L170.0,452.3 L170.5,452.2 L171.0,452.4 L171.5,452.2 L172.0,452.5 L172.5,452.4 L173.0,452.4 L173.5,452.3 L174.0,452.2 L174.5,452.2 L175.0,451.9 L175.5,451.9 L176.0,451.5 L176.5,451.6 L177.0,451.3 L177.5,451.4 L178.0,451.2 L178.5,451.0 L179.0,451.1 L179.5,451.2 L180.0,451.3 L180.5,451.3 L181.0,451.5 L181.5,451.7 L182.0,452.0 L182.5,452.1 L183.0,452.1 L183.5,452.1 L184.0,452.1 L184.5,452.0 L185.0,452.1 L185.5,452.3 L186.0,452.4 L186.5,452.2 L187.0,452.4 L187.5,452.2 L188.0,452.2 L188.5,452.2 L189.0,452.3 L189.5,452.3 L190.0,452.2 L190.5,452.5 L191.0,452.1 L191.5,452.4 L192.0,452.3 L192.5,452.5 L193.0,452.2 L193.5,452.1 L194.0,452.4 L194.5,452.3 L195.0,452.4 L195.5,452.4 L196.0,452.3 L196.5,452.4 L197.0,452.4 L197.5,452.2 L198.0,452.2 L198.5,452.4 L199.0,452.3 L199.5,452.1 L200.0,452.1 L200.5,452.2 L201.0,452.1 L201.5,452.3 L202.0,452.2 L202.5,452.2 L203.0,452.3 L203.5,452.3 L204.0,452.0 L204.5,452.2 L205.0,452.4 L205.5,452.2 L206.0,452.3 L206.5,452.0 L207.0,452.0 L207.5,452.0 L208.0,451.9 L208.5,451.9 L209.0,451.9 L209.5,451.9 L210.0,452.0 L210.5,451.9 L211.0,451.6 L211.5,451.8 L212.0,451.7 L212.5,451.5 L213.0,451.3 L213.5,451.6 L214.0,451.2 L214.5,451.2 L215.0,451.1 L215.5,451.2 L216.0,451.2 L216.5,451.1 L217.0,451.0 L217.5,450.9 L218.0,450.6 L218.5,450.3 L219.0,450.3 L219.5,450.1 L220.0,450.0 L220.5,449.8 L221.0,449.8 L221.5,449.5 L222.0,449.5 L222.5,449.6 L223.0,449.2 L223.5,449.1 L224.0,449.1 L224.5,448.6 L225.0,448.7 L225.5,448.5 L226.0,448.1 L226.5,448.3 L227.0,448.1 L227.5,447.7 L228.0,447.9 L228.5,447.5 L229.0,447.4 L229.5,447.1 L230.0,446.9 L230.5,447.0 L231.0,446.9 L231.5,446.5 L232.0,446.3 L232.5,446.4 L233.0,446.2 L233.5,446.1 L234.0,446.2 L234.5,445.9 L235.0,445.6 L235.5,445.7 L236.0,445.5 L236.5,445.3 L237.0,445.3 L237.5,444.9 L238.0,444.8 L238.5,444.4 L239.0,444.4 L239.5,444.4 L240.0,444.6 L240.5,444.8 L241.0,444.8 L241.5,445.3 L242.0,445.4 L242.5,445.7 L243.0,446.2 L243.5,446.2 L244.0,446.6 L244.5,447.0 L245.0,447.2 L245.5,447.3 L246.0,447.4 L246.5,447.9 L247.0,448.1 L247.5,448.0 L248.0,448.3 L248.5,448.5 L249.0,448.8 L249.5,448.7 L250.0,449.1 L250.5,449.2 L251.0,449.5 L251.5,449.7 L252.0,449.7 L252.5,449.8 L253.0,449.8 L253.5,450.0 L254.0,450.1 L254.5,450.4 L255.0,450.5 L255.5,450.5 L256.0,450.8 L256.5,450.8 L257.0,451.1 L257.5,451.0 L258.0,451.1 L258.5,451.1 L259.0,451.4 L259.5,451.3 L260.0,451.4 L260.5,451.4 L261.0,451.5 L261.5,451.4 L262.0,451.5 L262.5,451.6 L263.0,451.8 L263.5,451.6 L264.0,451.6 L264.5,451.8 L265.0,451.8 L265.5,452.0 L266.0,451.6 L266.5,451.8 L267.0,452.0 L267.5,452.0 L268.0,451.9 L268.5,451.9 L269.0,451.9 L269.5,451.8 L270.0,451.8 L270.5,451.9 L271.0,452.1 L271.5,451.9 L272.0,451.9 L272.5,452.0 L273.0,452.1 L273.5,452.1 L274.0,451.9 L274.5,451.9 L275.0,451.8 L275.5,452.1 L276.0,452.0 L276.5,451.9" stroke="#cc2be9" stroke-width="2.6"/>
<path d="M32.0,452.9 L32.5,453.0 L33.0,452.8 L33.5,452.9 L34.0,452.8 L34.5,452.8 L35.0,453.0 L35.5,452.9 L36.0,452.8 L36.5,453.1 L37.0,452.8 L37.5,452.9 L38.0,452.9 L38.5,452.8 L39.0,452.9 L39.5,452.9 L40.0,453.0 L40.5,452.8 L41.0,452.9 L41.5,453.1 L42.0,453.0 L42.5,452.9 L43.0,452.8 L43.5,453.0 L44.0,453.1 L44.5,452.8 L45.0,453.1 L45.5,452.9 L46.0,452.9 L46.5,452.7 L47.0,452.8 L47.5,452.8 L48.0,452.8 L48.5,453.0 L49.0,453.1 L49.5,452.8 L50.0,453.0 L50.5,452.8 L51.0,452.9 L51.5,452.8 L52.0,453.0 L52.5,452.9 L53.0,452.9 L53.5,453.0 L54.0,452.8 L54.5,452.8 L55.0,452.9 L55.5,452.8 L56.0,452.8 L56.5,452.7 L57.0,452.7 L57.5,452.7 L58.0,453.0 L58.5,452.9 L59.0,452.7 L59.5,452.7 L60.0,452.9 L60.5,452.9 L61.0,453.1 L61.5,453.0 L62.0,452.7 L62.5,453.0 L63.0,453.1 L63.5,453.0 L64.0,453.0 L64.5,452.8 L65.0,452.9 L65.5,452.9 L66.0,453.0 L66.5,452.9 L67.0,453.0 L67.5,452.8 L68.0,453.0 L68.5,452.9 L69.0,453.0 L69.5,452.8 L70.0,452.9 L70.5,453.0 L71.0,452.9 L71.5,452.9 L72.0,452.7 L72.5,452.6 L73.0,452.7 L73.5,452.8 L74.0,452.5 L74.5,452.8 L75.0,452.6 L75.5,452.6 L76.0,452.6 L76.5,452.8 L77.0,452.8 L77.5,452.9 L78.0,452.7 L78.5,452.6 L79.0,452.9 L79.5,452.8 L80.0,453.0 L80.5,452.9 L81.0,452.6 L81.5,452.7 L82.0,452.7 L82.5,452.8 L83.0,452.7 L83.5,452.9 L84.0,452.9 L84.5,452.7 L85.0,453.0 L85.5,453.0 L86.0,452.7 L86.5,452.9 L87.0,453.0 L87.5,452.9 L88.0,452.7 L88.5,452.8 L89.0,452.9 L89.5,452.7 L90.0,452.8 L90.5,452.6 L91.0,452.6 L91.5,452.9 L92.0,452.7 L92.5,452.8 L93.0,452.7 L93.5,452.8 L94.0,452.7 L94.5,452.6 L95.0,452.8 L95.5,452.6 L96.0,452.6 L96.5,452.7 L97.0,452.7 L97.5,452.9 L98.0,452.8 L98.5,452.7 L99.0,452.7 L99.5,452.8 L100.0,452.6 L100.5,452.6 L101.0,452.8 L101.5,452.9 L102.0,452.8 L102.5,452.6 L103.0,452.9 L103.5,452.8 L104.0,452.6 L104.5,452.7 L105.0,452.5 L105.5,452.8 L106.0,452.6 L106.5,452.8 L107.0,452.8 L107.5,452.8 L108.0,452.7 L108.5,452.6 L109.0,452.5 L109.5,452.7 L110.0,452.5 L110.5,452.7 L111.0,452.8 L111.5,452.5 L112.0,452.7 L112.5,452.7 L113.0,452.5 L113.5,452.6 L114.0,452.7 L114.5,452.5 L115.0,452.5 L115.5,452.6 L116.0,452.8 L116.5,452.8 L117.0,452.5 L117.5,452.7 L118.0,452.6 L118.5,452.5 L119.0,452.6 L119.5,452.7 L120.0,452.5 L120.5,452.8 L121.0,452.6 L121.5,452.6 L122.0,452.8 L122.5,452.5 L123.0,452.5 L123.5,452.6 L124.0,452.6 L124.5,452.6 L125.0,452.7 L125.5,452.8 L126.0,452.6 L126.5,452.4 L127.0,452.6 L127.5,452.8 L128.0,452.6 L128.5,452.4 L129.0,452.5 L129.5,452.5 L130.0,452.5 L130.5,452.5 L131.0,452.7 L131.5,452.7 L132.0,452.4 L132.5,452.4 L133.0,452.7 L133.5,452.7 L134.0,452.7 L134.5,452.5 L135.0,452.7 L135.5,452.4 L136.0,452.6 L136.5,452.5 L137.0,452.7 L137.5,452.7 L138.0,452.5 L138.5,452.6 L139.0,452.7 L139.5,452.7 L140.0,452.6 L140.5,452.6 L141.0,452.5 L141.5,452.6 L142.0,452.4 L142.5,452.5 L143.0,452.3 L143.5,452.3 L144.0,452.5 L144.5,452.4 L145.0,452.3 L145.5,452.5 L146.0,452.2 L146.5,452.2 L147.0,452.1 L147.5,451.9 L148.0,452.2 L148.5,452.1 L149.0,452.2 L149.5,452.0 L150.0,452.3 L150.5,452.4 L151.0,452.5 L151.5,452.2 L152.0,452.2 L152.5,452.2 L153.0,452.3 L153.5,452.5 L154.0,452.3 L154.5,452.4 L155.0,452.4 L155.5,452.6 L156.0,452.3 L156.5,452.6 L157.0,452.7 L157.5,452.4 L158.0,452.4 L158.5,452.6 L159.0,452.4 L159.5,452.6 L160.0,452.7 L160.5,452.4 L161.0,452.4 L161.5,452.3 L162.0,452.5 L162.5,452.4 L163.0,452.6 L163.5,452.5 L164.0,452.6 L164.5,452.6 L165.0,452.6 L165.5,452.4 L166.0,452.5 L166.5,452.3 L167.0,452.4 L167.5,452.6 L168.0,452.6 L168.5,452.3 L169.0,452.4 L169.5,452.4 L170.0,452.4 L170.5,452.4 L171.0,452.3 L171.5,452.5 L172.0,452.3 L172.5,452.4 L173.0,452.4 L173.5,452.5 L174.0,452.2 L174.5,452.2 L175.0,452.2 L175.5,451.9 L176.0,451.7 L176.5,451.9 L177.0,451.7 L177.5,451.6 L178.0,451.6 L178.5,451.3 L179.0,451.6 L179.5,451.6 L180.0,451.8 L180.5,451.8 L181.0,452.0 L181.5,451.8 L182.0,451.9 L182.5,452.1 L183.0,452.2 L183.5,452.1 L184.0,452.0 L184.5,452.4 L185.0,452.1 L185.5,452.4 L186.0,452.2 L186.5,452.4 L187.0,452.4 L187.5,452.2 L188.0,452.3 L188.5,452.2 L189.0,452.3 L189.5,452.2 L190.0,452.3 L190.5,452.2 L191.0,452.2 L191.5,452.4 L192.0,452.2 L192.5,452.5 L193.0,452.3 L193.5,452.2 L194.0,452.4 L194.5,452.5 L195.0,452.3 L195.5,452.4 L196.0,452.2 L196.5,452.5 L197.0,452.2 L197.5,452.1 L198.0,452.1 L198.5,452.3 L199.0,452.3 L199.5,452.2 L200.0,452.2 L200.5,452.2 L201.0,452.2 L201.5,452.1 L202.0,452.3 L202.5,452.3 L203.0,452.0 L203.5,452.4 L204.0,452.1 L204.5,452.2 L205.0,452.1 L205.5,452.2 L206.0,452.1 L206.5,452.1 L207.0,452.1 L207.5,452.1 L208.0,451.9 L208.5,452.2 L209.0,451.9 L209.5,451.9 L210.0,452.0 L210.5,451.8 L211.0,451.9 L211.5,451.7 L212.0,451.5 L212.5,451.6 L213.0,451.5 L213.5,451.3 L214.0,451.6 L214.5,451.5 L215.0,451.2 L215.5,451.3 L216.0,451.1 L216.5,450.9 L217.0,450.7 L217.5,450.8 L218.0,450.5 L218.5,450.6 L219.0,450.4 L219.5,450.2 L220.0,450.3 L220.5,450.2 L221.0,449.9 L221.5,449.9 L222.0,449.6 L222.5,449.3 L223.0,449.3 L223.5,449.1 L224.0,449.2 L224.5,448.8 L225.0,448.9 L225.5,448.4 L226.0,448.3 L226.5,448.0 L227.0,447.8 L227.5,447.9 L228.0,447.5 L228.5,447.4 L229.0,447.4 L229.5,447.4 L230.0,447.0 L230.5,446.8 L231.0,446.9 L231.5,446.8 L232.0,446.4 L232.5,446.6 L233.0,446.5 L233.5,446.4 L234.0,446.2 L234.5,446.0 L235.0,446.0 L235.5,445.6 L236.0,445.7 L236.5,445.5 L237.0,445.3 L237.5,445.2 L238.0,445.0 L238.5,445.2 L239.0,445.1 L239.5,444.8 L240.0,445.1 L240.5,445.1 L241.0,445.5 L241.5,445.5 L242.0,446.1 L242.5,446.1 L243.0,446.4 L243.5,446.5 L244.0,447.0 L244.5,446.9 L245.0,447.2 L245.5,447.4 L246.0,447.8 L246.5,447.8 L247.0,448.2 L247.5,448.1 L248.0,448.2 L248.5,448.5 L249.0,448.5 L249.5,448.7 L250.0,449.0 L250.5,449.2 L251.0,449.2 L251.5,449.4 L252.0,449.7 L252.5,449.8 L253.0,449.9 L253.5,450.1 L254.0,450.1 L254.5,450.1 L255.0,450.3 L255.5,450.7 L256.0,450.7 L256.5,450.6 L257.0,450.8 L257.5,450.9 L258.0,451.2 L258.5,451.1 L259.0,451.3 L259.5,451.1 L260.0,451.2 L260.5,451.3 L261.0,451.5 L261.5,451.5 L262.0,451.7 L262.5,451.7 L263.0,451.7 L263.5,451.9 L264.0,451.9 L264.5,451.9 L265.0,451.6 L265.5,451.8 L266.0,451.7 L266.5,451.9 L267.0,451.9 L267.5,451.7 L268.0,451.7 L268.5,451.9 L269.0,452.0 L269.5,451.9 L270.0,452.0 L270.5,452.0 L271.0,452.1 L271.5,452.1 L272.0,452.0 L272.5,451.9 L273.0,452.1 L273.5,451.8 L274.0,451.9 L274.5,451.9 L275.0,452.0 L275.5,452.1 L276.0,451.8 L276.5,452.0" stroke="#d723e9" stroke-width="2.6"/>
<path d="M32.0,453.0 L32.5,453.1 L33.0,452.8 L33.5,453.1 L34.0,452.9 L34.5,452.9 L35.0,452.8 L35.5,453.1 L36.0,453.0 L36.5,453.1 L37.0,453.0 L37.5,452.8 L38.0,452.9 L38.5,452.8 L39.0,452.8 L39.5,453.1 L40.0,452.8 L40.5,452.9 L41.0,452.8 L41.5,453.1 L42.0,453.1 L42.5,452.8 L43.0,452.9 L43.5,453.1 L44.0,452.8 L44.5,452.9 L45.0,453.1 L45.5,453.1 L46.0,452.9 L46.5,453.0 L47.0,453.0 L47.5,452.9 L48.0,452.7 L48.5,452.9 L49.0,453.0 L49.5,453.1 L50.0,452.9 L50.5,452.9 L51.0,452.9 L51.5,452.9 L52.0,452.7 L52.5,453.1 L53.0,453.1 L53.5,452.7 L54.0,452.7 L54.5,452.8 L55.0,452.7 L55.5,452.9 L56.0,453.0 L56.5,452.9 L57.0,453.0 L57.5,452.7 L58.0,452.7 L58.5,452.8 L59.0,452.8 L59.5,452.7 L60.0,453.0 L60.5,453.0 L61.0,452.8 L61.5,452.8 L62.0,452.8 L62.5,452.8 L63.0,452.9 L63.5,453.0 L64.0,453.0 L64.5,452.7 L65.0,452.7 L65.5,452.8 L66.0,453.0 L66.5,452.8 L67.0,452.9 L67.5,453.0 L68.0,452.8 L68.5,452.8 L69.0,453.0 L69.5,452.9 L70.0,453.0 L70.5,452.7 L71.0,453.0 L71.5,452.8 L72.0,453.0 L72.5,452.9 L73.0,452.8 L73.5,452.9 L74.0,452.6 L74.5,452.7 L75.0,452.8 L75.5,452.9 L76.0,452.6 L76.5,452.9 L77.0,452.6 L77.5,452.7 L78.0,452.8 L78.5,452.9 L79.0,452.8 L79.5,452.9 L80.0,452.9 L80.5,452.8 L81.0,452.8 L81.5,452.8 L82.0,452.9 L82.5,452.7 L83.0,452.7 L83.5,452.7 L84.0,452.7 L84.5,452.9 L85.0,452.9 L85.5,452.7 L86.0,452.8 L86.5,452.9 L87.0,453.0 L87.5,452.7 L88.0,453.0 L88.5,452.6 L89.0,453.0 L89.5,452.7 L90.0,452.9 L90.5,452.6 L91.0,452.8 L91.5,452.9 L92.0,452.9 L92.5,452.8 L93.0,452.6 L93.5,452.6 L94.0,452.9 L94.5,452.9 L95.0,452.6 L95.5,452.7 L96.0,452.8 L96.5,452.7 L97.0,452.6 L97.5,452.9 L98.0,452.6 L98.5,452.8 L99.0,452.7 L99.5,452.7 L100.0,452.9 L100.5,452.8 L101.0,452.8 L101.5,452.5 L102.0,452.8 L102.5,452.8 L103.0,452.5 L103.5,452.6 L104.0,452.8 L104.5,452.9 L105.0,452.7 L105.5,452.9 L106.0,452.5 L106.5,452.6 L107.0,452.8 L107.5,452.8 L108.0,452.6 L108.5,452.7 L109.0,452.7 L109.5,452.8 L110.0,452.6 L110.5,452.6 L111.0,452.8 L111.5,452.8 L112.0,452.6 L112.5,452.8 L113.0,452.6 L113.5,452.7 L114.0,452.5 L114.5,452.6 L115.0,452.6 L115.5,452.5 L116.0,452.6 L116.5,452.6 L117.0,452.6 L117.5,452.7 L118.0,452.8 L118.5,452.8 L119.0,452.6 L119.5,452.5 L120.0,452.5 L120.5,452.8 L121.0,452.7 L121.5,452.7 L122.0,452.8 L122.5,452.6 L123.0,452.5 L123.5,452.5 L124.0,452.6 L124.5,452.7 L125.0,452.5 L125.5,452.6 L126.0,452.5 L126.5,452.5 L127.0,452.6 L127.5,452.7 L128.0,452.8 L128.5,452.5 L129.0,452.5 L129.5,452.4 L130.0,452.5 L130.5,452.4 L131.0,452.4 L131.5,452.4 L132.0,452.6 L132.5,452.6 L133.0,452.8 L133.5,452.6 L134.0,452.4 L134.5,452.4 L135.0,452.7 L135.5,452.8 L136.0,452.7 L136.5,452.5 L137.0,452.5 L137.5,452.5 L138.0,452.5 L138.5,452.5 L139.0,452.4 L139.5,452.4 L140.0,452.7 L140.5,452.7 L141.0,452.7 L141.5,452.5 L142.0,452.6 L142.5,452.4 L143.0,452.4 L143.5,452.3 L144.0,452.4 L144.5,452.6 L145.0,452.5 L145.5,452.3 L146.0,452.4 L146.5,452.3 L147.0,452.2 L147.5,452.2 L148.0,452.4 L148.5,452.2 L149.0,452.4 L149.5,452.3 L150.0,452.1 L150.5,452.5 L151.0,452.5 L151.5,452.4 L152.0,452.3 L152.5,452.5 L153.0,452.3 L153.5,452.5 L154.0,452.3 L154.5,452.4 L155.0,452.7 L155.5,452.5 L156.0,452.5 L156.5,452.5 L157.0,452.5 L157.5,452.5 L158.0,452.4 L158.5,452.4 L159.0,452.5 L159.5,452.6 L160.0,452.6 L160.5,452.5 L161.0,452.4 L161.5,452.5 L162.0,452.3 L162.5,452.5 L163.0,452.6 L163.5,452.6 L164.0,452.3 L164.5,452.3 L165.0,452.4 L165.5,452.5 L166.0,452.6 L166.5,452.3 L167.0,452.3 L167.5,452.4 L168.0,452.5 L168.5,452.2 L169.0,452.4 L169.5,452.5 L170.0,452.4 L170.5,452.3 L171.0,452.2 L171.5,452.5 L172.0,452.4 L172.5,452.4 L173.0,452.4 L173.5,452.4 L174.0,452.3 L174.5,452.2 L175.0,452.4 L175.5,452.0 L176.0,452.2 L176.5,452.0 L177.0,452.0 L177.5,451.8 L178.0,452.0 L178.5,451.7 L179.0,451.8 L179.5,451.7 L180.0,452.1 L180.5,452.1 L181.0,451.9 L181.5,452.0 L182.0,452.1 L182.5,452.0 L183.0,452.2 L183.5,452.4 L184.0,452.3 L184.5,452.3 L185.0,452.5 L185.5,452.2 L186.0,452.3 L186.5,452.2 L187.0,452.4 L187.5,452.3 L188.0,452.2 L188.5,452.3 L189.0,452.5 L189.5,452.5 L190.0,452.4 L190.5,452.5 L191.0,452.3 L191.5,452.3 L192.0,452.4 L192.5,452.2 L193.0,452.4 L193.5,452.3 L194.0,452.3 L194.5,452.3 L195.0,452.2 L195.5,452.4 L196.0,452.2 L196.5,452.3 L197.0,452.1 L197.5,452.3 L198.0,452.1 L198.5,452.4 L199.0,452.1 L199.5,452.4 L200.0,452.2 L200.5,452.5 L201.0,452.2 L201.5,452.1 L202.0,452.3 L202.5,452.1 L203.0,452.4 L203.5,452.2 L204.0,452.1 L204.5,452.2 L205.0,452.1 L205.5,452.1 L206.0,452.0 L206.5,452.0 L207.0,452.0 L207.5,451.9 L208.0,452.0 L208.5,452.0 L209.0,452.0 L209.5,452.0 L210.0,452.0 L210.5,451.9 L211.0,451.8 L211.5,451.9 L212.0,451.6 L212.5,451.5 L213.0,451.4 L213.5,451.7 L214.0,451.6 L214.5,451.3 L215.0,451.4 L215.5,451.2 L216.0,451.3 L216.5,451.2 L217.0,450.8 L217.5,450.7 L218.0,450.6 L218.5,450.7 L219.0,450.4 L219.5,450.3 L220.0,450.0 L220.5,450.0 L221.0,450.1 L221.5,449.7 L222.0,449.7 L222.5,449.6 L223.0,449.5 L223.5,449.3 L224.0,449.0 L224.5,448.8 L225.0,448.9 L225.5,448.7 L226.0,448.5 L226.5,448.0 L227.0,448.1 L227.5,448.0 L228.0,447.6 L228.5,447.5 L229.0,447.4 L229.5,447.2 L230.0,447.0 L230.5,446.9 L231.0,446.8 L231.5,446.5 L232.0,446.7 L232.5,446.5 L233.0,446.3 L233.5,446.2 L234.0,446.1 L234.5,446.2 L235.0,446.1 L235.5,445.9 L236.0,445.9 L236.5,445.8 L237.0,445.8 L237.5,445.7 L238.0,445.7 L238.5,445.3 L239.0,445.5 L239.5,445.4 L240.0,445.8 L240.5,445.6 L241.0,446.1 L241.5,446.0 L242.0,446.1 L242.5,446.5 L243.0,446.5 L243.5,446.8 L244.0,447.0 L244.5,447.3 L245.0,447.4 L245.5,447.6 L246.0,447.9 L246.5,448.1 L247.0,448.1 L247.5,448.2 L248.0,448.4 L248.5,448.5 L249.0,448.9 L249.5,448.9 L250.0,449.1 L250.5,449.4 L251.0,449.5 L251.5,449.7 L252.0,449.7 L252.5,449.9 L253.0,450.1 L253.5,450.1 L254.0,450.3 L254.5,450.3 L255.0,450.3 L255.5,450.7 L256.0,450.7 L256.5,451.0 L257.0,450.9 L257.5,450.9 L258.0,450.9 L258.5,451.3 L259.0,451.1 L259.5,451.2 L260.0,451.4 L260.5,451.5 L261.0,451.5 L261.5,451.3 L262.0,451.7 L262.5,451.7 L263.0,451.6 L263.5,451.9 L264.0,451.7 L264.5,451.9 L265.0,451.6 L265.5,451.7 L266.0,451.9 L266.5,451.9 L267.0,452.0 L267.5,452.0 L268.0,451.7 L268.5,452.1 L269.0,451.8 L269.5,451.9 L270.0,451.9 L270.5,452.0 L271.0,451.8 L271.5,452.0 L272.0,451.8 L272.5,451.9 L273.0,451.9 L273.5,451.8 L274.0,452.1 L274.5,451.8 L275.0,451.9 L275.5,452.2 L276.0,452.0 L276.5,452.2" stroke="#e21ae9" stroke-width="2.6"/>
<path d="M32.0,452.9 L32.5,453.0 L33.0,453.0 L33.5,452.9 L34.0,453.2 L34.5,452.9 L35.0,453.1 L35.5,453.0 L36.0,452.9 L36.5,453.1 L37.0,453.1 L37.5,452.8 L38.0,453.0 L38.5,453.1 L39.0,453.0 L39.5,452.9 L40.0,453.0 L40.5,452.8 L41.0,452.9 L41.5,452.8 L42.0,453.1 L42.5,453.1 L43.0,452.9 L43.5,453.1 L44.0,453.0 L44.5,453.0 L45.0,452.8 L45.5,453.0 L46.0,453.0 L46.5,453.1 L47.0,452.8 L47.5,452.9 L48.0,453.0 L48.5,452.8 L49.0,453.0 L49.5,453.1 L50.0,452.8 L50.5,453.0 L51.0,452.8 L51.5,452.8 L52.0,452.9 L52.5,453.0 L53.0,453.0 L53.5,452.8 L54.0,453.0 L54.5,453.0 L55.0,452.8 L55.5,453.0 L56.0,452.9 L56.5,452.9 L57.0,453.0 L57.5,452.8 L58.0,452.9 L58.5,453.0 L59.0,452.7 L59.5,452.8 L60.0,452.9 L60.5,452.9 L61.0,452.9 L61.5,453.0 L62.0,452.7 L62.5,453.0 L63.0,452.8 L63.5,452.7 L64.0,452.9 L64.5,452.7 L65.0,452.8 L65.5,452.7 L66.0,452.8 L66.5,452.7 L67.0,453.1 L67.5,452.7 L68.0,452.8 L68.5,452.9 L69.0,452.9 L69.5,452.7 L70.0,453.0 L70.5,452.8 L71.0,452.7 L71.5,452.8 L72.0,452.9 L72.5,452.8 L73.0,452.9 L73.5,452.7 L74.0,452.9 L74.5,453.0 L75.0,452.9 L75.5,452.6 L76.0,452.8 L76.5,452.8 L77.0,452.8 L77.5,452.7 L78.0,452.8 L78.5,452.7 L79.0,452.7 L79.5,452.8 L80.0,453.0 L80.5,452.8 L81.0,453.0 L81.5,452.9 L82.0,452.9 L82.5,453.0 L83.0,452.8 L83.5,452.9 L84.0,452.8 L84.5,452.9 L85.0,452.9 L85.5,452.6 L86.0,453.0 L86.5,452.6 L87.0,452.8 L87.5,452.6 L88.0,452.9 L88.5,452.7 L89.0,452.6 L89.5,452.9 L90.0,452.7 L90.5,452.9 L91.0,452.7 L91.5,452.8 L92.0,452.7 L92.5,452.9 L93.0,452.7 L93.5,452.8 L94.0,452.6 L94.5,452.7 L95.0,452.6 L95.5,452.7 L96.0,452.7 L96.5,452.8 L97.0,452.6 L97.5,452.6 L98.0,452.9 L98.5,452.8 L99.0,452.6 L99.5,452.9 L100.0,452.8 L100.5,452.8 L101.0,452.9 L101.5,452.7 L102.0,452.6 L102.5,452.5 L103.0,452.6 L103.5,452.7 L104.0,452.7 L104.5,452.8 L105.0,452.5 L105.5,452.5 L106.0,452.5 L106.5,452.6 L107.0,452.9 L107.5,452.8 L108.0,452.5 L108.5,452.7 L109.0,452.6 L109.5,452.6 L110.0,452.6 L110.5,452.6 L111.0,452.6 L111.5,452.6 L112.0,452.6 L112.5,452.7 L113.0,452.7 L113.5,452.8 L114.0,452.6 L114.5,452.5 L115.0,452.7 L115.5,452.6 L116.0,452.5 L116.5,452.6 L117.0,452.8 L117.5,452.7 L118.0,452.7 L118.5,452.5 L119.0,452.7 L119.5,452.7 L120.0,452.8 L120.5,452.8 L121.0,452.5 L121.5,452.8 L122.0,452.4 L122.5,452.7 L123.0,452.6 L123.5,452.8 L124.0,452.8 L124.5,452.7 L125.0,452.5 L125.5,452.7 L126.0,452.5 L126.5,452.6 L127.0,452.5 L127.5,452.5 L128.0,452.4 L128.5,452.6 L129.0,452.4 L129.5,452.5 L130.0,452.7 L130.5,452.5 L131.0,452.6 L131.5,452.7 L132.0,452.7 L132.5,452.7 L133.0,452.8 L133.5,452.5 L134.0,452.5 L134.5,452.8 L135.0,452.8 L135.5,452.5 L136.0,452.8 L136.5,452.4 L137.0,452.5 L137.5,452.7 L138.0,452.4 L138.5,452.7 L139.0,452.5 L139.5,452.7 L140.0,452.4 L140.5,452.6 L141.0,452.6 L141.5,452.6 L142.0,452.7 L142.5,452.4 L143.0,452.6 L143.5,452.7 L144.0,452.5 L144.5,452.4 L145.0,452.6 L145.5,452.5 L146.0,452.4 L146.5,452.5 L147.0,452.5 L147.5,452.5 L148.0,452.4 L148.5,452.2 L149.0,452.2 L149.5,452.4 L150.0,452.2 L150.5,452.5 L151.0,452.3 L151.5,452.6 L152.0,452.3 L152.5,452.6 L153.0,452.4 L153.5,452.7 L154.0,452.5 L154.5,452.5 L155.0,452.6 L155.5,452.4 L156.0,452.7 L156.5,452.4 L157.0,452.3 L157.5,452.4 L158.0,452.4 L158.5,452.5 L159.0,452.3 L159.5,452.6 L160.0,452.6 L160.5,452.6 L161.0,452.7 L161.5,452.3 L162.0,452.5 L162.5,452.6 L163.0,452.3 L163.5,452.4 L164.0,452.3 L164.5,452.6 L165.0,452.4 L165.5,452.6 L166.0,452.4 L166.5,452.5 L167.0,452.5 L167.5,452.4 L168.0,452.4 L168.5,452.3 L169.0,452.5 L169.5,452.4 L170.0,452.3 L170.5,452.4 L171.0,452.3 L171.5,452.3 L172.0,452.4 L172.5,452.3 L173.0,452.3 L173.5,452.3 L174.0,452.6 L174.5,452.4 L175.0,452.2 L175.5,452.4 L176.0,452.4 L176.5,452.2 L177.0,452.3 L177.5,452.2 L178.0,452.1 L178.5,452.3 L179.0,452.2 L179.5,452.2 L180.0,452.3 L180.5,452.2 L181.0,452.1 L181.5,452.1 L182.0,452.4 L182.5,452.3 L183.0,452.5 L183.5,452.5 L184.0,452.2 L184.5,452.2 L185.0,452.4 L185.5,452.2 L186.0,452.2 L186.5,452.2 L187.0,452.3 L187.5,452.3 L188.0,452.2 L188.5,452.4 L189.0,452.5 L189.5,452.5 L190.0,452.4 L190.5,452.5 L191.0,452.5 L191.5,452.4 L192.0,452.3 L192.5,452.4 L193.0,452.5 L193.5,452.2 L194.0,452.3 L194.5,452.1 L195.0,452.4 L195.5,452.2 L196.0,452.3 L196.5,452.2 L197.0,452.2 L197.5,452.5 L198.0,452.2 L198.5,452.5 L199.0,452.4 L199.5,452.3 L200.0,452.3 L200.5,452.3 L201.0,452.4 L201.5,452.1 L202.0,452.3 L202.5,452.2 L203.0,452.1 L203.5,452.1 L204.0,452.3 L204.5,452.4 L205.0,452.2 L205.5,452.0 L206.0,452.0 L206.5,452.1 L207.0,452.1 L207.5,452.2 L208.0,452.1 L208.5,452.0 L209.0,452.0 L209.5,451.8 L210.0,451.9 L210.5,451.8 L211.0,451.6 L211.5,451.7 L212.0,451.7 L212.5,451.7 L213.0,451.5 L213.5,451.4 L214.0,451.5 L214.5,451.2 L215.0,451.1 L215.5,451.4 L216.0,451.2 L216.5,451.2 L217.0,450.8 L217.5,450.9 L218.0,450.8 L218.5,450.6 L219.0,450.3 L219.5,450.3 L220.0,450.2 L220.5,450.1 L221.0,450.0 L221.5,449.7 L222.0,449.5 L222.5,449.3 L223.0,449.3 L223.5,449.0 L224.0,448.9 L224.5,448.7 L225.0,448.8 L225.5,448.4 L226.0,448.4 L226.5,448.3 L227.0,447.9 L227.5,447.9 L228.0,447.9 L228.5,447.5 L229.0,447.5 L229.5,447.4 L230.0,447.2 L230.5,447.0 L231.0,446.9 L231.5,446.8 L232.0,446.6 L232.5,446.7 L233.0,446.6 L233.5,446.5 L234.0,446.3 L234.5,446.1 L235.0,446.0 L235.5,446.0 L236.0,446.1 L236.5,445.8 L237.0,445.9 L237.5,445.8 L238.0,445.9 L238.5,445.8 L239.0,446.0 L239.5,445.8 L240.0,446.0 L240.5,446.2 L241.0,446.4 L241.5,446.3 L242.0,446.7 L242.5,446.8 L243.0,446.8 L243.5,446.9 L244.0,447.0 L244.5,447.4 L245.0,447.3 L245.5,447.7 L246.0,447.7 L246.5,447.8 L247.0,448.2 L247.5,448.2 L248.0,448.3 L248.5,448.5 L249.0,448.9 L249.5,448.9 L250.0,449.2 L250.5,449.3 L251.0,449.2 L251.5,449.5 L252.0,449.7 L252.5,449.7 L253.0,449.8 L253.5,450.3 L254.0,450.2 L254.5,450.4 L255.0,450.4 L255.5,450.8 L256.0,450.6 L256.5,450.6 L257.0,450.9 L257.5,451.1 L258.0,451.2 L258.5,451.0 L259.0,451.1 L259.5,451.3 L260.0,451.3 L260.5,451.3 L261.0,451.3 L261.5,451.3 L262.0,451.6 L262.5,451.5 L263.0,451.5 L263.5,451.5 L264.0,451.8 L264.5,451.8 L265.0,451.7 L265.5,451.9 L266.0,451.7 L266.5,451.8 L267.0,452.1 L267.5,451.7 L268.0,451.8 L268.5,451.9 L269.0,451.9 L269.5,451.8 L270.0,452.1 L270.5,452.1 L271.0,452.0 L271.5,452.0 L272.0,452.0 L272.5,452.0 L273.0,452.0 L273.5,451.9 L274.0,452.1 L274.5,452.0 L275.0,451.9 L275.5,452.0 L276.0,452.1 L276.5,452.0" stroke="#eb14e8" stroke-width="2.6"/>
<path d="M32.0,452.9 L32.5,453.0 L33.0,453.1 L33.5,452.9 L34.0,453.1 L34.5,453.0 L35.0,453.0 L35.5,453.0 L36.0,453.1 L36.5,452.8 L37.0,452.9 L37.5,453.0 L38.0,452.8 L38.5,452.9 L39.0,452.8 L39.5,452.8 L40.0,452.9 L40.5,453.1 L41.0,453.0 L41.5,452.9 L42.0,453.0 L42.5,453.0 L43.0,452.8 L43.5,452.9 L44.0,453.0 L44.5,453.1 L45.0,453.1 L45.5,452.8 L46.0,452.9 L46.5,452.9 L47.0,452.9 L47.5,453.1 L48.0,452.9 L48.5,452.9 L49.0,453.0 L49.5,453.1 L50.0,453.0 L50.5,452.9 L51.0,452.8 L51.5,452.9 L52.0,452.8 L52.5,453.0 L53.0,453.0 L53.5,452.8 L54.0,452.9 L54.5,453.1 L55.0,453.0 L55.5,452.8 L56.0,452.8 L56.5,452.9 L57.0,452.9 L57.5,453.1 L58.0,453.0 L58.5,453.0 L59.0,453.1 L59.5,452.7 L60.0,453.1 L60.5,452.8 L61.0,452.8 L61.5,452.9 L62.0,452.8 L62.5,452.8 L63.0,453.1 L63.5,452.7 L64.0,452.7 L64.5,452.8 L65.0,453.0 L65.5,453.0 L66.0,452.8 L66.5,452.8 L67.0,452.7 L67.5,453.0 L68.0,453.0 L68.5,452.7 L69.0,452.9 L69.5,453.0 L70.0,452.8 L70.5,452.7 L71.0,452.9 L71.5,452.9 L72.0,452.8 L72.5,452.6 L73.0,452.8 L73.5,452.9 L74.0,452.7 L74.5,452.8 L75.0,452.9 L75.5,452.8 L76.0,452.7 L76.5,452.9 L77.0,452.9 L77.5,452.9 L78.0,453.0 L78.5,452.8 L79.0,452.8 L79.5,452.8 L80.0,452.9 L80.5,452.7 L81.0,452.7 L81.5,452.7 L82.0,452.9 L82.5,452.9 L83.0,452.7 L83.5,452.9 L84.0,453.0 L84.5,452.7 L85.0,452.9 L85.5,452.9 L86.0,452.8 L86.5,452.7 L87.0,452.6 L87.5,452.9 L88.0,452.7 L88.5,452.9 L89.0,452.9 L89.5,452.9 L90.0,452.9 L90.5,452.9 L91.0,452.9 L91.5,452.9 L92.0,452.9 L92.5,452.9 L93.0,452.7 L93.5,452.9 L94.0,452.6 L94.5,452.6 L95.0,452.9 L95.5,452.8 L96.0,452.9 L96.5,452.7 L97.0,452.6 L97.5,452.6 L98.0,452.9 L98.5,452.9 L99.0,452.7 L99.5,452.8 L100.0,452.5 L100.5,452.9 L101.0,452.6 L101.5,452.6 L102.0,452.7 L102.5,452.7 L103.0,452.7 L103.5,452.8 L104.0,452.6 L104.5,452.8 L105.0,452.6 L105.5,452.7 L106.0,452.9 L106.5,452.8 L107.0,452.8 L107.5,452.8 L108.0,452.7 L108.5,452.6 L109.0,452.7 L109.5,452.8 L110.0,452.6 L110.5,452.8 L111.0,452.7 L111.5,452.9 L112.0,452.8 L112.5,452.8 L113.0,452.6 L113.5,452.7 L114.0,452.6 L114.5,452.6 L115.0,452.6 L115.5,452.6 L116.0,452.7 L116.5,452.7 L117.0,452.8 L117.5,452.8 L118.0,452.8 L118.5,452.7 L119.0,452.7 L119.5,452.7 L120.0,452.6 L120.5,452.6 L121.0,452.6 L121.5,452.6 L122.0,452.6 L122.5,452.6 L123.0,452.7 L123.5,452.7 L124.0,452.8 L124.5,452.7 L125.0,452.8 L125.5,452.6 L126.0,452.7 L126.5,452.7 L127.0,452.6 L127.5,452.6 L128.0,452.5 L128.5,452.8 L129.0,452.4 L129.5,452.7 L130.0,452.6 L130.5,452.5 L131.0,452.5 L131.5,452.8 L132.0,452.5 L132.5,452.6 L133.0,452.6 L133.5,452.7 L134.0,452.6 L134.5,452.6 L135.0,452.4 L135.5,452.4 L136.0,452.6 L136.5,452.4 L137.0,452.6 L137.5,452.5 L138.0,452.7 L138.5,452.5 L139.0,452.4 L139.5,452.4 L140.0,452.5 L140.5,452.6 L141.0,452.6 L141.5,452.7 L142.0,452.7 L142.5,452.6 L143.0,452.4 L143.5,452.6 L144.0,452.5 L144.5,452.6 L145.0,452.4 L145.5,452.5 L146.0,452.4 L146.5,452.6 L147.0,452.7 L147.5,452.4 L148.0,452.5 L148.5,452.5 L149.0,452.6 L149.5,452.4 L150.0,452.4 L150.5,452.6 L151.0,452.4 L151.5,452.5 L152.0,452.6 L152.5,452.5 L153.0,452.7 L153.5,452.4 L154.0,452.4 L154.5,452.5 L155.0,452.7 L155.5,452.6 L156.0,452.3 L156.5,452.4 L157.0,452.4 L157.5,452.6 L158.0,452.6 L158.5,452.4 L159.0,452.6 L159.5,452.6 L160.0,452.6 L160.5,452.4 L161.0,452.6 L161.5,452.4 L162.0,452.7 L162.5,452.3 L163.0,452.4 L163.5,452.4 L164.0,452.6 L164.5,452.6 L165.0,452.5 L165.5,452.5 L166.0,452.4 L166.5,452.5 L167.0,452.3 L167.5,452.5 L168.0,452.6 L168.5,452.4 L169.0,452.4 L169.5,452.5 L170.0,452.4 L170.5,452.6 L171.0,452.3 L171.5,452.4 L172.0,452.5 L172.5,452.5 L173.0,452.3 L173.5,452.3 L174.0,452.5 L174.5,452.3 L175.0,452.5 L175.5,452.2 L176.0,452.5 L176.5,452.5 L177.0,452.3 L177.5,452.5 L178.0,452.4 L178.5,452.4 L179.0,452.2 L179.5,452.2 L180.0,452.2 L180.5,452.2 L181.0,452.4 L181.5,452.4 L182.0,452.5 L182.5,452.3 L183.0,452.3 L183.5,452.5 L184.0,452.5 L184.5,452.6 L185.0,452.2 L185.5,452.6 L186.0,452.3 L186.5,452.5 L187.0,452.3 L187.5,452.4 L188.0,452.5 L188.5,452.5 L189.0,452.4 L189.5,452.2 L190.0,452.5 L190.5,452.2 L191.0,452.5 L191.5,452.4 L192.0,452.4 L192.5,452.2 L193.0,452.5 L193.5,452.5 L194.0,452.2 L194.5,452.5 L195.0,452.3 L195.5,452.5 L196.0,452.2 L196.5,452.3 L197.0,452.2 L197.5,452.1 L198.0,452.2 L198.5,452.2 L199.0,452.3 L199.5,452.3 L200.0,452.1 L200.5,452.5 L201.0,452.3 L201.5,452.3 L202.0,452.2 L202.5,452.2 L203.0,452.4 L203.5,452.2 L204.0,452.2 L204.5,452.4 L205.0,452.1 L205.5,452.3 L206.0,452.0 L206.5,452.2 L207.0,452.0 L207.5,452.0 L208.0,451.9 L208.5,452.2 L209.0,452.1 L209.5,452.1 L210.0,451.9 L210.5,451.7 L211.0,451.8 L211.5,451.9 L212.0,451.8 L212.5,451.5 L213.0,451.8 L213.5,451.7 L214.0,451.5 L214.5,451.2 L215.0,451.4 L215.5,451.3 L216.0,450.9 L216.5,451.0 L217.0,450.7 L217.5,450.7 L218.0,450.8 L218.5,450.7 L219.0,450.4 L219.5,450.2 L220.0,450.1 L220.5,450.0 L221.0,450.0 L221.5,449.7 L222.0,449.8 L222.5,449.3 L223.0,449.3 L223.5,449.3 L224.0,449.0 L224.5,448.7 L225.0,448.7 L225.5,448.5 L226.0,448.5 L226.5,448.1 L227.0,448.1 L227.5,448.0 L228.0,447.7 L228.5,447.4 L229.0,447.5 L229.5,447.2 L230.0,447.1 L230.5,447.2 L231.0,446.8 L231.5,447.0 L232.0,446.6 L232.5,446.4 L233.0,446.3 L233.5,446.5 L234.0,446.5 L234.5,446.2 L235.0,446.2 L235.5,446.1 L236.0,446.2 L236.5,446.0 L237.0,446.1 L237.5,446.2 L238.0,446.0 L238.5,446.0 L239.0,446.2 L239.5,446.3 L240.0,446.1 L240.5,446.3 L241.0,446.6 L241.5,446.6 L242.0,446.8 L242.5,447.0 L243.0,446.8 L243.5,447.0 L244.0,447.1 L244.5,447.5 L245.0,447.6 L245.5,447.8 L246.0,447.9 L246.5,447.9 L247.0,448.2 L247.5,448.2 L248.0,448.5 L248.5,448.7 L249.0,448.9 L249.5,448.8 L250.0,449.2 L250.5,449.3 L251.0,449.5 L251.5,449.4 L252.0,449.7 L252.5,449.7 L253.0,450.0 L253.5,450.2 L254.0,450.2 L254.5,450.3 L255.0,450.5 L255.5,450.6 L256.0,450.9 L256.5,450.9 L257.0,451.0 L257.5,450.9 L258.0,450.9 L258.5,451.2 L259.0,451.1 L259.5,451.4 L260.0,451.4 L260.5,451.6 L261.0,451.3 L261.5,451.5 L262.0,451.5 L262.5,451.6 L263.0,451.6 L263.5,451.8 L264.0,451.7 L264.5,451.8 L265.0,451.6 L265.5,451.9 L266.0,451.9 L266.5,451.7 L267.0,451.8 L267.5,451.8 L268.0,451.9 L268.5,451.8 L269.0,452.1 L269.5,451.9 L270.0,452.1 L270.5,451.8 L271.0,452.1 L271.5,452.1 L272.0,452.0 L272.5,451.9 L273.0,452.0 L273.5,451.9 L274.0,451.9 L274.5,452.2 L275.0,452.1 L275.5,452.0 L276.0,452.0 L276.5,452.1" stroke="#f010e8" stroke-width="2.6"/>
</g>
<rect x="31.5" y="302.8" width="245.0" height="153.2" fill="none" stroke="#000" stroke-width="1.7"/>
<path d="M31.5,453.5 h3.5 M276.5,453.5 h-3.5" stroke="#000" stroke-width="1.3"/>
<text x="27.8" y="456.9" font-size="9.4" text-anchor="end" fill="#222" >1</text>
<path d="M31.5,428.5 h3.5 M276.5,428.5 h-3.5" stroke="#000" stroke-width="1.3"/>
<text x="27.8" y="431.87" font-size="9.4" text-anchor="end" fill="#222" >2</text>
<path d="M31.5,403.4 h3.5 M276.5,403.4 h-3.5" stroke="#000" stroke-width="1.3"/>
<text x="27.8" y="406.84" font-size="9.4" text-anchor="end" fill="#222" >3</text>
<path d="M31.5,378.4 h3.5 M276.5,378.4 h-3.5" stroke="#000" stroke-width="1.3"/>
<text x="27.8" y="381.80999999999995" font-size="9.4" text-anchor="end" fill="#222" >4</text>
<path d="M31.5,353.4 h3.5 M276.5,353.4 h-3.5" stroke="#000" stroke-width="1.3"/>
<text x="27.8" y="356.78" font-size="9.4" text-anchor="end" fill="#222" >5</text>
<path d="M31.5,328.4 h3.5 M276.5,328.4 h-3.5" stroke="#000" stroke-width="1.3"/>
<text x="27.8" y="331.75" font-size="9.4" text-anchor="end" fill="#222" >6</text>
<path d="M31.5,303.3 h3.5 M276.5,303.3 h-3.5" stroke="#000" stroke-width="1.3"/>
<text x="27.8" y="306.71999999999997" font-size="9.4" text-anchor="end" fill="#222" >7</text>
<path d="M56.5,456 v-3 M56.5,302.8 v3" stroke="#000" stroke-width="1.3"/>
<path d="M80.9,456 v-3 M80.9,302.8 v3" stroke="#000" stroke-width="1.3"/>
<path d="M105.2,456 v-3 M105.2,302.8 v3" stroke="#000" stroke-width="1.3"/>
<path d="M129.6,456 v-3 M129.6,302.8 v3" stroke="#000" stroke-width="1.3"/>
<path d="M153.9,456 v-3 M153.9,302.8 v3" stroke="#000" stroke-width="1.3"/>
<path d="M178.3,456 v-3 M178.3,302.8 v3" stroke="#000" stroke-width="1.3"/>
<path d="M202.6,456 v-3 M202.6,302.8 v3" stroke="#000" stroke-width="1.3"/>
<path d="M227.0,456 v-3 M227.0,302.8 v3" stroke="#000" stroke-width="1.3"/>
<path d="M251.4,456 v-3 M251.4,302.8 v3" stroke="#000" stroke-width="1.3"/>
<text x="35.3" y="468.3" font-size="9.0" text-anchor="middle" fill="#222" >800</text>
<text x="83.7" y="468.3" font-size="9.0" text-anchor="middle" fill="#222" >1000</text>
<text x="132.3" y="468.3" font-size="9.0" text-anchor="middle" fill="#222" >1200</text>
<text x="180.1" y="468.3" font-size="9.0" text-anchor="middle" fill="#222" >1400</text>
<text x="228.2" y="468.3" font-size="9.0" text-anchor="middle" fill="#222" >1600</text>
<text x="275.8" y="468.3" font-size="9.0" text-anchor="middle" fill="#222" >1800</text>
<text x="144.6" y="486.6" font-size="10.4" font-weight="bold" text-anchor="middle" fill="#111">Raman shift (cm<tspan font-size="6.5" dy="-3.5">-1</tspan><tspan dy="3.5">)</tspan></text>
<text transform="translate(14,379.6) rotate(-90)" font-size="10.05" font-weight="bold" text-anchor="middle" fill="#111">Raman int. (10<tspan font-size="6.5" dy="-3.5">3</tspan><tspan dy="3.5"> cts/s)</tspan></text>
<text x="91.6" y="433.2" font-size="10.4" fill="#222">1277 cm<tspan font-size="6.5" dy="-3.5">-1</tspan></text>
<text x="157.7" y="346.6" font-size="10.4" fill="#222">1401 cm<tspan font-size="6.5" dy="-3.5">-1</tspan></text>
<text x="215.4" y="322.2" font-size="10.4" fill="#222">1652 cm<tspan font-size="6.5" dy="-3.5">-1</tspan></text>
<path d="M40.2,315.7 h5.8" stroke="#f010e8" stroke-width="1.6"/>
<text transform="translate(49.8,318.8) scale(0.86,1)" font-size="8.8" fill="#333">0.001 M</text>
<path d="M92.1,315.7 h6" stroke="#6a7cee" stroke-width="1.6"/>
<text transform="translate(102.3,318.8) scale(0.86,1)" font-size="8.8" fill="#333">0.051 M</text>
<path d="M40.2,326.6 h5.8" stroke="#ec14ec" stroke-width="1.6"/>
<text transform="translate(49.8,329.7) scale(0.86,1)" font-size="8.8" fill="#333">0.003 M</text>
<path d="M92.1,326.6 h6" stroke="#6088ee" stroke-width="1.6"/>
<text transform="translate(102.3,329.7) scale(0.86,1)" font-size="8.8" fill="#333">0.072 M</text>
<path d="M40.2,337.4 h5.8" stroke="#e418ec" stroke-width="1.6"/>
<text transform="translate(49.8,340.5) scale(0.86,1)" font-size="8.8" fill="#333">0.006 M</text>
<path d="M92.1,337.4 h6" stroke="#5896ef" stroke-width="1.6"/>
<text transform="translate(102.3,340.5) scale(0.86,1)" font-size="8.8" fill="#333">0.093 M</text>
<path d="M40.2,348.2 h5.8" stroke="#d828ec" stroke-width="1.6"/>
<text transform="translate(49.8,351.4) scale(0.86,1)" font-size="8.8" fill="#333">0.010 M</text>
<path d="M92.1,348.2 h6" stroke="#4aa6f0" stroke-width="1.6"/>
<text transform="translate(102.3,351.4) scale(0.86,1)" font-size="8.8" fill="#333">0.22 M</text>
<path d="M40.2,359.1 h5.8" stroke="#c838ec" stroke-width="1.6"/>
<text transform="translate(49.8,362.2) scale(0.86,1)" font-size="8.8" fill="#333">0.014 M</text>
<path d="M92.1,359.1 h6" stroke="#3cb6f0" stroke-width="1.6"/>
<text transform="translate(102.3,362.2) scale(0.86,1)" font-size="8.8" fill="#333">0.42 M</text>
<path d="M40.2,369.9 h5.8" stroke="#b044ec" stroke-width="1.6"/>
<text transform="translate(49.8,373.1) scale(0.86,1)" font-size="8.8" fill="#333">0.018 M</text>
<path d="M92.1,369.9 h6" stroke="#30c6f2" stroke-width="1.6"/>
<text transform="translate(102.3,373.1) scale(0.86,1)" font-size="8.8" fill="#333">0.62 M</text>
<path d="M40.2,380.8 h5.8" stroke="#9c50ec" stroke-width="1.6"/>
<text transform="translate(49.8,383.9) scale(0.86,1)" font-size="8.8" fill="#333">0.025 M</text>
<path d="M92.1,380.8 h6" stroke="#26d2f4" stroke-width="1.6"/>
<text transform="translate(102.3,383.9) scale(0.86,1)" font-size="8.8" fill="#333">0.82 M</text>
<path d="M40.2,391.6 h5.8" stroke="#8c5cec" stroke-width="1.6"/>
<text transform="translate(49.8,394.8) scale(0.86,1)" font-size="8.8" fill="#333">0.036 M</text>
<path d="M92.1,391.6 h6" stroke="#1ee0f6" stroke-width="1.6"/>
<text transform="translate(102.3,394.8) scale(0.86,1)" font-size="8.8" fill="#333">1.0 M</text>
<text x="281.5" y="300.6" font-size="13.2" font-weight="bold" text-anchor="start" fill="#111" >E</text>
<clipPath id="cpE"><rect x="322.8" y="301.2" width="161.8" height="154.60000000000002"/></clipPath>
<g clip-path="url(#cpE)">
<path d="M323,452.3 L500,441.3" stroke="#999" stroke-width="1"/>
<path d="M328.2,450.2 L483.15999999999997,313.1228" stroke="#111" stroke-width="0.9"/>
<path d="M328.2,450.2 L483.15999999999997,397.2692" stroke="#111" stroke-width="0.9"/>
<path d="M328.2,450.2 L483.15999999999997,426.85616" stroke="#111" stroke-width="0.9"/>
<circle cx="328.3" cy="450.2" r="3.5" fill="#6010c8"/>
<circle cx="328.6" cy="450.1" r="3.5" fill="#6010c8"/>
<circle cx="329.1" cy="450.1" r="3.5" fill="#6010c8"/>
<circle cx="329.7" cy="450.0" r="3.5" fill="#6010c8"/>
<circle cx="330.3" cy="449.9" r="3.5" fill="#6010c8"/>
<circle cx="330.9" cy="449.8" r="3.5" fill="#6010c8"/>
<circle cx="331.9" cy="449.6" r="3.5" fill="#6010c8"/>
<circle cx="333.6" cy="449.4" r="3.5" fill="#6010c8"/>
<circle cx="335.8" cy="449.0" r="3.5" fill="#6010c8"/>
<circle cx="338.9" cy="448.5" r="3.5" fill="#6010c8"/>
<circle cx="342.1" cy="448.0" r="3.5" fill="#6010c8"/>
<circle cx="343.8" cy="447.8" r="3.5" fill="#6010c8"/>
<circle cx="346.1" cy="447.4" r="3.5" fill="#6010c8"/>
<circle cx="328.3" cy="450.1" r="3.5" fill="#f050d8"/>
<circle cx="328.6" cy="450.0" r="3.5" fill="#f050d8"/>
<circle cx="329.1" cy="449.9" r="3.5" fill="#f050d8"/>
<circle cx="329.7" cy="449.7" r="3.5" fill="#f050d8"/>
<circle cx="330.3" cy="449.5" r="3.5" fill="#f050d8"/>
<circle cx="330.9" cy="449.2" r="3.5" fill="#f050d8"/>
<circle cx="331.9" cy="448.9" r="3.5" fill="#f050d8"/>
<circle cx="333.6" cy="448.3" r="3.5" fill="#f050d8"/>
<circle cx="335.8" cy="447.5" r="3.5" fill="#f050d8"/>
<circle cx="338.9" cy="446.4" r="3.5" fill="#f050d8"/>
<circle cx="342.1" cy="445.3" r="3.5" fill="#f050d8"/>
<circle cx="343.8" cy="444.6" r="3.5" fill="#f050d8"/>
<circle cx="346.1" cy="443.8" r="3.5" fill="#f050d8"/>
<circle cx="328.3" cy="450.1" r="3.5" fill="#18aaf0"/>
<circle cx="328.6" cy="449.8" r="3.5" fill="#18aaf0"/>
<circle cx="329.1" cy="449.4" r="3.5" fill="#18aaf0"/>
<circle cx="329.7" cy="448.9" r="3.5" fill="#18aaf0"/>
<circle cx="330.3" cy="448.4" r="3.5" fill="#18aaf0"/>
<circle cx="330.9" cy="447.9" r="3.5" fill="#18aaf0"/>
<circle cx="331.9" cy="446.9" r="3.5" fill="#18aaf0"/>
<circle cx="333.6" cy="445.5" r="3.5" fill="#18aaf0"/>
<circle cx="335.8" cy="443.5" r="3.5" fill="#18aaf0"/>
<circle cx="338.9" cy="440.8" r="3.5" fill="#18aaf0"/>
<circle cx="342.1" cy="438.1" r="3.5" fill="#18aaf0"/>
<circle cx="343.8" cy="436.5" r="3.5" fill="#18aaf0"/>
<circle cx="346.1" cy="434.5" r="3.5" fill="#18aaf0"/>
<circle cx="361.0" cy="445.2" r="3.5" fill="#6010c8"/>
<circle cx="375.9" cy="443.4" r="3.5" fill="#6010c8"/>
<circle cx="390.8" cy="441.6" r="3.5" fill="#6010c8"/>
<circle cx="405.7" cy="439.8" r="3.5" fill="#6010c8"/>
<circle cx="420.6" cy="437.4" r="3.5" fill="#6010c8"/>
<circle cx="435.5" cy="434.8" r="3.5" fill="#6010c8"/>
<circle cx="450.4" cy="433.0" r="3.5" fill="#6010c8"/>
<circle cx="465.3" cy="429.8" r="3.5" fill="#6010c8"/>
<circle cx="477.2" cy="427.5" r="3.5" fill="#6010c8"/>
<circle cx="361.0" cy="439.0" r="3.5" fill="#f050d8"/>
<circle cx="375.9" cy="434.3" r="3.5" fill="#f050d8"/>
<circle cx="390.8" cy="428.8" r="3.5" fill="#f050d8"/>
<circle cx="405.7" cy="424.9" r="3.5" fill="#f050d8"/>
<circle cx="420.6" cy="418.1" r="3.5" fill="#f050d8"/>
<circle cx="435.5" cy="415.0" r="3.5" fill="#f050d8"/>
<circle cx="450.4" cy="408.4" r="3.5" fill="#f050d8"/>
<circle cx="465.3" cy="402.4" r="3.5" fill="#f050d8"/>
<circle cx="477.2" cy="397.5" r="3.5" fill="#f050d8"/>
<circle cx="361.0" cy="423.6" r="3.5" fill="#18aaf0"/>
<circle cx="375.9" cy="410.0" r="3.5" fill="#18aaf0"/>
<circle cx="390.8" cy="398.0" r="3.5" fill="#18aaf0"/>
<circle cx="405.7" cy="387.0" r="3.5" fill="#18aaf0"/>
<circle cx="420.6" cy="370.3" r="3.5" fill="#18aaf0"/>
<circle cx="435.5" cy="360.2" r="3.5" fill="#18aaf0"/>
<circle cx="450.4" cy="344.2" r="3.5" fill="#18aaf0"/>
<circle cx="465.3" cy="327.5" r="3.5" fill="#18aaf0"/>
<circle cx="477.2" cy="314.2" r="3.5" fill="#18aaf0"/>
<path d="M450,337.5 V348 M448,337.5 h4 M448,348 h4 M435.8,355 V363 M433.8,355 h4 M433.8,363 h4" stroke="#18aaf0" stroke-width="1"/>
<path d="M328.2,450.2 L483.15999999999997,313.1228" stroke="#111" stroke-width="0.9"/>
<path d="M328.2,450.2 L483.15999999999997,397.2692" stroke="#111" stroke-width="0.9"/>
<path d="M328.2,450.2 L483.15999999999997,426.85616" stroke="#111" stroke-width="0.9"/>
</g>
<path d="M484.6,442.3 L497,441.5" stroke="#999" stroke-width="1"/>
<path d="M501.5,441.6 L493.2,444.9 L494.9,442.1 L492.8,439.4 Z" fill="#999"/>
<rect x="322.8" y="301.2" width="161.8" height="154.60000000000002" fill="none" stroke="#000" stroke-width="1.7"/>
<path d="M322.8,450.2 h4 M484.6,450.2 h-4" stroke="#000" stroke-width="1.2"/>
<text x="318.6" y="453.4" font-size="9.0" text-anchor="end" fill="#222" >0</text>
<path d="M322.8,437.1 h2.5 M484.6,437.1 h-2.5" stroke="#000" stroke-width="1.2"/>
<path d="M322.8,424.1 h4 M484.6,424.1 h-4" stroke="#000" stroke-width="1.2"/>
<text x="318.6" y="427.29999999999995" font-size="9.0" text-anchor="end" fill="#222" >10</text>
<path d="M322.8,411.1 h2.5 M484.6,411.1 h-2.5" stroke="#000" stroke-width="1.2"/>
<path d="M322.8,398.0 h4 M484.6,398.0 h-4" stroke="#000" stroke-width="1.2"/>
<text x="318.6" y="401.2" font-size="9.0" text-anchor="end" fill="#222" >20</text>
<path d="M322.8,384.9 h2.5 M484.6,384.9 h-2.5" stroke="#000" stroke-width="1.2"/>
<path d="M322.8,371.9 h4 M484.6,371.9 h-4" stroke="#000" stroke-width="1.2"/>
<text x="318.6" y="375.09999999999997" font-size="9.0" text-anchor="end" fill="#222" >30</text>
<path d="M322.8,358.9 h2.5 M484.6,358.9 h-2.5" stroke="#000" stroke-width="1.2"/>
<path d="M322.8,345.8 h4 M484.6,345.8 h-4" stroke="#000" stroke-width="1.2"/>
<text x="318.6" y="349.0" font-size="9.0" text-anchor="end" fill="#222" >40</text>
<path d="M322.8,332.8 h2.5 M484.6,332.8 h-2.5" stroke="#000" stroke-width="1.2"/>
<path d="M322.8,319.7 h4 M484.6,319.7 h-4" stroke="#000" stroke-width="1.2"/>
<text x="318.6" y="322.9" font-size="9.0" text-anchor="end" fill="#222" >50</text>
<path d="M328.2,455.8 v-4 M328.2,301.2 v4" stroke="#000" stroke-width="1.2"/>
<text x="326.2" y="468" font-size="9.0" text-anchor="middle" fill="#222" >0</text>
<path d="M358.0,455.8 v-4 M358.0,301.2 v4" stroke="#000" stroke-width="1.2"/>
<text x="356.0" y="468" font-size="9.0" text-anchor="middle" fill="#222" >200</text>
<path d="M387.8,455.8 v-4 M387.8,301.2 v4" stroke="#000" stroke-width="1.2"/>
<text x="385.8" y="468" font-size="9.0" text-anchor="middle" fill="#222" >400</text>
<path d="M417.6,455.8 v-4 M417.6,301.2 v4" stroke="#000" stroke-width="1.2"/>
<text x="415.6" y="468" font-size="9.0" text-anchor="middle" fill="#222" >600</text>
<path d="M447.4,455.8 v-4 M447.4,301.2 v4" stroke="#000" stroke-width="1.2"/>
<text x="445.4" y="468" font-size="9.0" text-anchor="middle" fill="#222" >800</text>
<path d="M477.2,455.8 v-4 M477.2,301.2 v4" stroke="#000" stroke-width="1.2"/>
<text x="475.2" y="468" font-size="9.0" text-anchor="middle" fill="#222" >1000</text>
<text x="403" y="487" font-size="10.4" font-weight="bold" text-anchor="middle" fill="#111" >Concentration (mM)</text>
<text transform="translate(300,380) rotate(-90)" font-size="10.4" font-weight="bold" text-anchor="middle" fill="#111">Raman int. (10<tspan font-size="6.5" dy="-3.5">3</tspan><tspan dy="3.5">cts/cm/s)</tspan></text>
<circle cx="334.6" cy="316.3" r="3.6" fill="#18aaf0"/>
<text x="341.5" y="319.9" font-size="10.2" fill="#222">1652 cm<tspan font-size="6.5" dy="-3.5">-1</tspan><tspan dy="3.5"> peak</tspan></text>
<circle cx="334.6" cy="329.6" r="3.6" fill="#f050d8"/>
<text x="341.5" y="333.2" font-size="10.2" fill="#222">1401 cm<tspan font-size="6.5" dy="-3.5">-1</tspan><tspan dy="3.5"> peak</tspan></text>
<circle cx="334.6" cy="342.8" r="3.6" fill="#6010c8"/>
<text x="341.5" y="346.4" font-size="10.2" fill="#222">1277 cm<tspan font-size="6.5" dy="-3.5">-1</tspan><tspan dy="3.5"> peak</tspan></text>
<text x="499.3" y="302.6" font-size="13.2" font-weight="bold" text-anchor="start" fill="#111" >F</text>
<rect x="518.2" y="398.6" width="35.799999999999955" height="58.89999999999998" fill="#c0c0c0"/>
<clipPath id="cpF"><rect x="518.2" y="300.8" width="164.5999999999999" height="156.7"/></clipPath>
<g clip-path="url(#cpF)">
<path d="M526.2,401.9 V441 M524.4000000000001,401.9 h3.6 M524.4000000000001,441 h3.6" stroke="#f070dc" stroke-width="1.1"/>
<circle cx="526.2" cy="422.7" r="3.3" fill="#f070dc"/>
<path d="M530.5,432 V458 M528.7,432 h3.6 M528.7,458 h3.6" stroke="#f070dc" stroke-width="1.1"/>
<circle cx="530.5" cy="445" r="3.3" fill="#f070dc"/>
<path d="M537.8,404 V449 M536.0,404 h3.6 M536.0,449 h3.6" stroke="#f070dc" stroke-width="1.1"/>
<circle cx="537.8" cy="427" r="3.3" fill="#f070dc"/>
<path d="M541.9,404 V430 M540.1,404 h3.6 M540.1,430 h3.6" stroke="#f070dc" stroke-width="1.1"/>
<circle cx="541.9" cy="416.2" r="3.3" fill="#f070dc"/>
<path d="M545.9,425 V456 M544.1,425 h3.6 M544.1,456 h3.6" stroke="#f070dc" stroke-width="1.1"/>
<circle cx="545.9" cy="440.5" r="3.3" fill="#f070dc"/>
<path d="M550,411 V435 M548.2,411 h3.6 M548.2,435 h3.6" stroke="#f070dc" stroke-width="1.1"/>
<circle cx="550" cy="422.9" r="3.3" fill="#f070dc"/>
<path d="M557.3,414 V425 M555.5,414 h3.6 M555.5,425 h3.6" stroke="#f070dc" stroke-width="1.1"/>
<circle cx="557.3" cy="420" r="3.3" fill="#f070dc"/>
<path d="M566.7,389.6 V433.5 M564.9000000000001,389.6 h3.6 M564.9000000000001,433.5 h3.6" stroke="#f070dc" stroke-width="1.1"/>
<circle cx="566.7" cy="411.8" r="3.3" fill="#f070dc"/>
<path d="M572.9,388 V408 M571.1,388 h3.6 M571.1,408 h3.6" stroke="#f070dc" stroke-width="1.1"/>
<circle cx="572.9" cy="397.8" r="3.3" fill="#f070dc"/>
<path d="M580.5,393 V418 M578.7,393 h3.6 M578.7,418 h3.6" stroke="#f070dc" stroke-width="1.1"/>
<circle cx="580.5" cy="405.4" r="3.3" fill="#f070dc"/>
<path d="M588.6,379 V386 M586.8000000000001,379 h3.6 M586.8000000000001,386 h3.6" stroke="#f070dc" stroke-width="1.1"/>
<circle cx="588.6" cy="382.1" r="3.3" fill="#f070dc"/>
<path d="M596.4,360 V375 M594.6,360 h3.6 M594.6,375 h3.6" stroke="#f070dc" stroke-width="1.1"/>
<circle cx="596.4" cy="367.6" r="3.3" fill="#f070dc"/>
<path d="M604.2,347.5 V376 M602.4000000000001,347.5 h3.6 M602.4000000000001,376 h3.6" stroke="#f070dc" stroke-width="1.1"/>
<circle cx="604.2" cy="361.5" r="3.3" fill="#f070dc"/>
<path d="M623.5,343 V381 M621.7,343 h3.6 M621.7,381 h3.6" stroke="#f070dc" stroke-width="1.1"/>
<circle cx="623.5" cy="362.4" r="3.3" fill="#f070dc"/>
<path d="M643.6,329.4 V371.5 M641.8000000000001,329.4 h3.6 M641.8000000000001,371.5 h3.6" stroke="#f070dc" stroke-width="1.1"/>
<circle cx="643.6" cy="350.6" r="3.3" fill="#f070dc"/>
<path d="M665.3,305.8 V337.5 M663.5,305.8 h3.6 M663.5,337.5 h3.6" stroke="#f070dc" stroke-width="1.1"/>
<circle cx="665.3" cy="322.1" r="3.3" fill="#f070dc"/>
<path d="M525.1,441.2 L685,296" stroke="#000" stroke-width="1.7" stroke-dasharray="3.4,2"/>
</g>
<rect x="518.2" y="300.8" width="164.5999999999999" height="156.7" fill="none" stroke="#000" stroke-width="1.7"/>
<path d="M518.2,440.2 h4" stroke="#000" stroke-width="1.2"/>
<path d="M682.8,440.2 h-3" stroke="#000" stroke-width="1.2"/>
<path d="M518.2,429.8 h2.5" stroke="#000" stroke-width="1.2"/>
<path d="M518.2,419.4 h2.5" stroke="#000" stroke-width="1.2"/>
<path d="M682.8,419.4 h-3" stroke="#000" stroke-width="1.2"/>
<path d="M518.2,409.0 h2.5" stroke="#000" stroke-width="1.2"/>
<path d="M518.2,398.6 h4" stroke="#000" stroke-width="1.2"/>
<path d="M682.8,398.6 h-3" stroke="#000" stroke-width="1.2"/>
<path d="M518.2,388.2 h2.5" stroke="#000" stroke-width="1.2"/>
<path d="M518.2,377.8 h2.5" stroke="#000" stroke-width="1.2"/>
<path d="M682.8,377.8 h-3" stroke="#000" stroke-width="1.2"/>
<path d="M518.2,367.4 h2.5" stroke="#000" stroke-width="1.2"/>
<path d="M518.2,357.0 h4" stroke="#000" stroke-width="1.2"/>
<path d="M682.8,357.0 h-3" stroke="#000" stroke-width="1.2"/>
<path d="M518.2,346.6 h2.5" stroke="#000" stroke-width="1.2"/>
<path d="M518.2,336.2 h2.5" stroke="#000" stroke-width="1.2"/>
<path d="M682.8,336.2 h-3" stroke="#000" stroke-width="1.2"/>
<path d="M518.2,325.8 h2.5" stroke="#000" stroke-width="1.2"/>
<path d="M518.2,315.4 h4" stroke="#000" stroke-width="1.2"/>
<path d="M682.8,315.4 h-3" stroke="#000" stroke-width="1.2"/>
<path d="M518.2,305.0 h2.5" stroke="#000" stroke-width="1.2"/>
<text x="513.6" y="445.0" font-size="10" text-anchor="end" fill="#222" >0</text>
<text x="513.6" y="402.9" font-size="10" text-anchor="end" fill="#222" >0.08</text>
<text x="513.6" y="361.3" font-size="10" text-anchor="end" fill="#222" >0.16</text>
<text x="513.6" y="319.7" font-size="10" text-anchor="end" fill="#222" >0.24</text>
<path d="M525.1,457.5 v-3.5 M525.1,300.8 v3" stroke="#000" stroke-width="1.2"/>
<path d="M563.4,457.5 v-3.5 M563.4,300.8 v3" stroke="#000" stroke-width="1.2"/>
<path d="M601.7,457.5 v-3.5 M601.7,300.8 v3" stroke="#000" stroke-width="1.2"/>
<path d="M640.0,457.5 v-3.5 M640.0,300.8 v3" stroke="#000" stroke-width="1.2"/>
<path d="M678.3,457.5 v-3.5 M678.3,300.8 v3" stroke="#000" stroke-width="1.2"/>
<text x="525.1" y="470.7" font-size="10" text-anchor="middle" fill="#222" >0</text>
<text x="563.4" y="470.7" font-size="10" text-anchor="middle" fill="#222" >10</text>
<text x="601.7" y="470.7" font-size="10" text-anchor="middle" fill="#222" >20</text>
<text x="640.0" y="470.7" font-size="10" text-anchor="middle" fill="#222" >30</text>
<text x="678.3" y="470.7" font-size="10" text-anchor="middle" fill="#222" >40</text>
<text x="599.6" y="487.3" font-size="10.4" font-weight="bold" text-anchor="middle" fill="#111" >Concentration (mM)</text>
<circle cx="528" cy="312.1" r="3.2" fill="#f070dc"/>
<text x="538.6" y="315.8" font-size="10.4" text-anchor="start" fill="#222" >Fumarate (aq.)</text>
<path d="M523.4,328.4 H533" stroke="#000" stroke-width="1.5" stroke-dasharray="3.2,2.2"/>
<text x="538.6" y="331.4" font-size="10.4" text-anchor="start" fill="#222" >19 cts/cm/s/mM</text>
<text x="540.8" y="343" font-size="10.4" text-anchor="start" fill="#222" >6 cts/cm/mM</text>
<path d="M559.4,448.3 L586.4,440.2" stroke="#aaa" stroke-width="1.3"/>
<text x="591.3" y="442.8" font-size="10.4" text-anchor="start" fill="#999" >LOD: 8 mM</text></svg>
</body></html>
